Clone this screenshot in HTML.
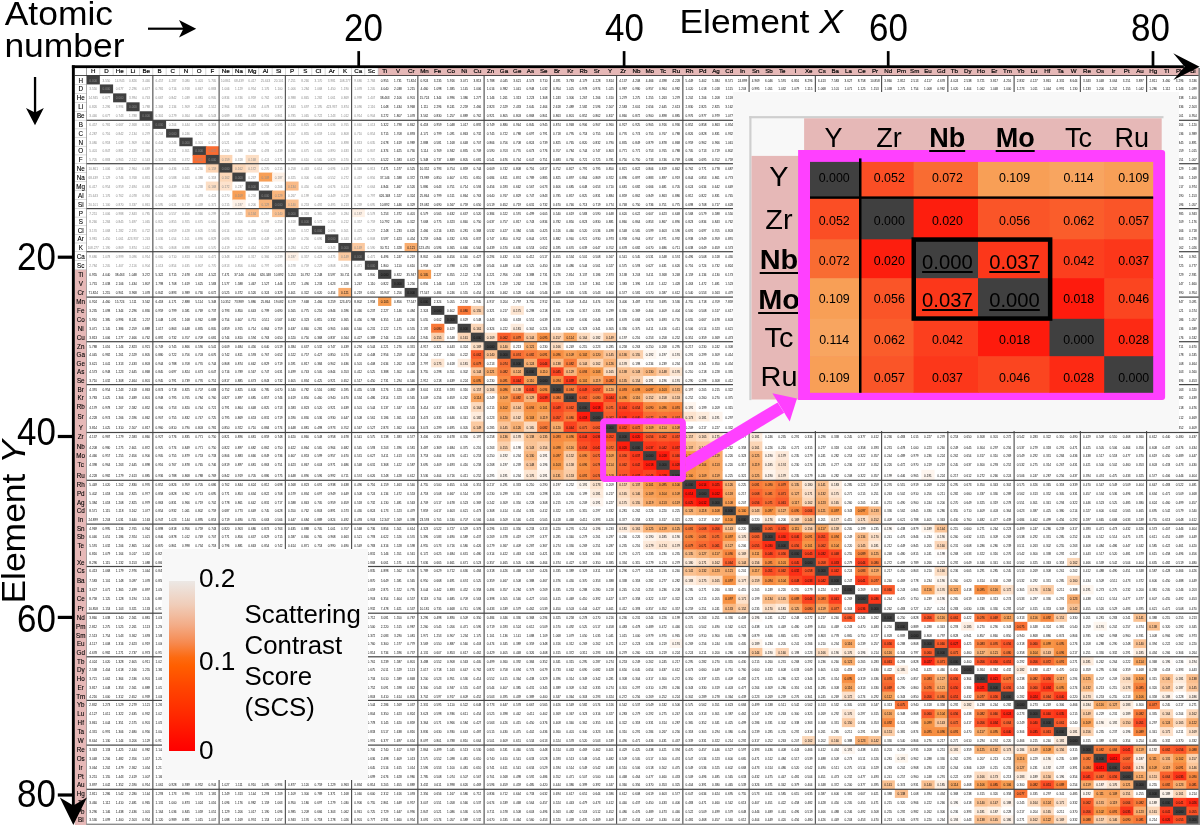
<!DOCTYPE html>
<html lang="en"><head><meta charset="utf-8"><title>Scattering Contrast Score matrix</title>
<style>
html,body{margin:0;padding:0;background:#fff}
body{width:1200px;height:825px;overflow:hidden;position:relative;font-family:"Liberation Sans",sans-serif;color:#000}
#pg{position:absolute;left:0;top:0;width:1200px;height:825px;overflow:hidden;background:#fff}
svg{position:absolute;left:0;top:0}
.r{position:absolute;left:86.6px;width:1120px;white-space:nowrap;font-size:3.1px;color:#0c0c0c;text-align:left;overflow:hidden}
.r i,.r u{display:inline-block;width:13.25px;font-style:normal;text-decoration:none;text-align:center;overflow:hidden;vertical-align:top}
.r u{color:#8c8c8c}
.hd{position:absolute;top:67.3px;height:7.4px;-webkit-text-stroke:0.18px #000;font-size:6.2px;line-height:7.8px;text-align:center;width:13.25px;white-space:nowrap}
.rl{position:absolute;left:74.8px;width:11.9px;-webkit-text-stroke:0.1px #000;font-size:6.3px;text-align:center;white-space:nowrap}
.t{position:absolute;white-space:nowrap;line-height:1}
.big{font-size:35.45px;transform-origin:0 0;transform:scaleY(0.945)}
.num{font-size:35.4px;transform-origin:0 0;transform:scale(0.987,1.07)}
.box{position:absolute;background:#f8f8f8}
.ic{position:absolute;text-align:center;font-size:12.4px;white-space:nowrap}
.ic.l{font-size:20.2px;text-decoration:underline;text-decoration-thickness:1.6px;text-underline-offset:2px}
.ih{position:absolute;font-size:27px;line-height:1;white-space:nowrap;transform:translateX(-50%)}
.ih.b{font-weight:bold;text-decoration:underline;text-decoration-thickness:2.4px;text-underline-offset:2.5px}
</style></head><body><div id="pg">
<svg width="1200" height="825" viewBox="0 0 1200 825"><rect x="378.1" y="68" width="821.9" height="7.5" fill="#e6b8b7"/><rect x="74.8" y="269.76" width="11.9" height="555.24" fill="#e6b8b7"/><rect x="86.6" y="75.5" width="13.25" height="8.94" fill="#404040"/><rect x="99.85" y="84.44" width="13.25" height="8.94" fill="#404040"/><rect x="113.1" y="93.38" width="13.25" height="8.94" fill="#404040"/><rect x="126.35" y="102.32" width="13.25" height="8.94" fill="#404040"/><rect x="139.6" y="111.26" width="13.25" height="8.94" fill="#404040"/><rect x="152.85" y="120.2" width="13.25" height="8.68" fill="#404040"/><rect x="166.1" y="128.88" width="13.25" height="8.68" fill="#404040"/><rect x="179.35" y="137.56" width="13.25" height="8.68" fill="#404040"/><rect x="192.6" y="146.24" width="13.95" height="9.38" fill="#404040"/><rect x="205.85" y="146.24" width="13.25" height="9.38" fill="#f96c32"/><rect x="192.6" y="154.92" width="13.95" height="8.68" fill="#f96c32"/><rect x="205.85" y="154.92" width="13.95" height="9.38" fill="#404040"/><rect x="219.1" y="154.92" width="13.25" height="9.38" fill="#fcd4b3"/><rect x="245.6" y="154.92" width="13.25" height="9.38" fill="#fcdec4"/><rect x="205.85" y="163.6" width="13.95" height="8.98" fill="#fcd4b3"/><rect x="219.1" y="163.6" width="13.95" height="9.68" fill="#404040"/><rect x="232.35" y="163.6" width="13.95" height="9.68" fill="#fcd7b8"/><rect x="245.6" y="163.6" width="13.25" height="8.98" fill="#fde2cc"/><rect x="219.1" y="172.58" width="13.95" height="9.68" fill="#fcd7b8"/><rect x="232.35" y="172.58" width="13.25" height="8.98" fill="#404040"/><rect x="258.85" y="172.58" width="13.95" height="8.98" fill="#f89f56"/><rect x="272.1" y="172.58" width="13.25" height="8.98" fill="#fef1e6"/><rect x="205.85" y="181.56" width="13.95" height="8.98" fill="#fcdec4"/><rect x="219.1" y="181.56" width="13.25" height="8.98" fill="#fde2cc"/><rect x="245.6" y="181.56" width="13.25" height="8.98" fill="#404040"/><rect x="285.35" y="181.56" width="13.25" height="8.98" fill="#faba86"/><rect x="232.35" y="190.54" width="13.25" height="9.68" fill="#f89f56"/><rect x="258.85" y="190.54" width="13.95" height="9.68" fill="#404040"/><rect x="272.1" y="190.54" width="13.25" height="9.68" fill="#f9b57c"/><rect x="298.6" y="190.54" width="13.25" height="8.98" fill="#fffefd"/><rect x="232.35" y="199.52" width="13.25" height="8.98" fill="#fef1e6"/><rect x="258.85" y="199.52" width="13.95" height="8.98" fill="#f9b57c"/><rect x="272.1" y="199.52" width="13.95" height="9.68" fill="#404040"/><rect x="285.35" y="199.52" width="13.25" height="9.68" fill="#fac090"/><rect x="245.6" y="208.5" width="13.25" height="8.62" fill="#faba86"/><rect x="272.1" y="208.5" width="13.95" height="8.62" fill="#fac090"/><rect x="285.35" y="208.5" width="13.25" height="8.62" fill="#404040"/><rect x="351.6" y="208.5" width="13.25" height="8.62" fill="#fef1e6"/><rect x="258.85" y="217.12" width="13.25" height="8.62" fill="#fffefd"/><rect x="298.6" y="217.12" width="13.25" height="8.62" fill="#404040"/><rect x="311.85" y="225.74" width="13.25" height="8.62" fill="#404040"/><rect x="325.1" y="234.36" width="13.25" height="8.62" fill="#404040"/><rect x="338.35" y="242.98" width="13.95" height="9.32" fill="#404040"/><rect x="351.6" y="242.98" width="13.25" height="9.32" fill="#fbc9a0"/><rect x="404.6" y="242.98" width="13.25" height="8.62" fill="#f9ac6d"/><rect x="285.35" y="251.6" width="13.25" height="9.08" fill="#fef1e6"/><rect x="338.35" y="251.6" width="13.95" height="9.08" fill="#fbc9a0"/><rect x="351.6" y="251.6" width="13.25" height="9.08" fill="#404040"/><rect x="364.85" y="260.68" width="13.25" height="9.08" fill="#404040"/><rect x="378.1" y="269.76" width="13.25" height="9.08" fill="#404040"/><rect x="417.85" y="269.76" width="13.25" height="9.08" fill="#f79b4e"/><rect x="391.35" y="278.84" width="13.25" height="9.08" fill="#404040"/><rect x="338.35" y="287.92" width="13.25" height="9.08" fill="#f9ac6d"/><rect x="404.6" y="287.92" width="13.25" height="9.08" fill="#404040"/><rect x="378.1" y="297" width="13.25" height="8.92" fill="#f79b4e"/><rect x="417.85" y="297" width="13.25" height="8.92" fill="#404040"/><rect x="431.1" y="305.92" width="13.25" height="8.92" fill="#404040"/><rect x="457.6" y="305.92" width="13.95" height="8.92" fill="#f97838"/><rect x="470.85" y="305.92" width="13.25" height="8.92" fill="#fbd0ad"/><rect x="510.6" y="305.92" width="13.25" height="8.92" fill="#fde5d1"/><rect x="444.35" y="314.84" width="13.25" height="8.92" fill="#404040"/><rect x="431.1" y="323.76" width="13.25" height="9.62" fill="#f97838"/><rect x="457.6" y="323.76" width="13.95" height="9.62" fill="#404040"/><rect x="470.85" y="323.76" width="13.25" height="9.62" fill="#fcd6b7"/><rect x="510.6" y="323.76" width="13.25" height="9.62" fill="#fdebdc"/><rect x="431.1" y="332.68" width="13.25" height="8.92" fill="#fbd0ad"/><rect x="457.6" y="332.68" width="13.95" height="8.92" fill="#fcd6b7"/><rect x="470.85" y="332.68" width="13.95" height="9.62" fill="#404040"/><rect x="484.1" y="332.68" width="13.95" height="9.62" fill="#fddfc6"/><rect x="497.35" y="332.68" width="13.95" height="9.62" fill="#fa5d2b"/><rect x="510.6" y="332.68" width="13.95" height="8.92" fill="#f97637"/><rect x="523.85" y="332.68" width="13.95" height="9.62" fill="#fbc498"/><rect x="537.1" y="332.68" width="13.95" height="8.92" fill="#f78f43"/><rect x="550.35" y="332.68" width="13.95" height="9.62" fill="#fcd2b0"/><rect x="563.6" y="332.68" width="13.95" height="8.92" fill="#f8a45f"/><rect x="576.85" y="332.68" width="13.95" height="8.92" fill="#fcd9bc"/><rect x="590.1" y="332.68" width="13.95" height="8.92" fill="#feecdd"/><rect x="603.35" y="332.68" width="13.95" height="8.92" fill="#fbcaa1"/><rect x="616.6" y="332.68" width="13.25" height="8.92" fill="#fffcf9"/><rect x="470.85" y="341.6" width="13.95" height="9.28" fill="#fddfc6"/><rect x="484.1" y="341.6" width="13.95" height="9.28" fill="#404040"/><rect x="497.35" y="341.6" width="13.25" height="9.28" fill="#fac091"/><rect x="523.85" y="341.6" width="13.25" height="9.28" fill="#f9ac6d"/><rect x="550.35" y="341.6" width="13.25" height="9.28" fill="#fcdcc1"/><rect x="470.85" y="350.18" width="13.95" height="9.28" fill="#fa5d2b"/><rect x="484.1" y="350.18" width="13.95" height="8.58" fill="#fac091"/><rect x="497.35" y="350.18" width="13.95" height="9.28" fill="#404040"/><rect x="510.6" y="350.18" width="13.95" height="9.28" fill="#f96f34"/><rect x="523.85" y="350.18" width="13.95" height="9.28" fill="#f87b3a"/><rect x="537.1" y="350.18" width="13.95" height="9.28" fill="#f88840"/><rect x="550.35" y="350.18" width="13.95" height="9.28" fill="#f78f43"/><rect x="563.6" y="350.18" width="13.95" height="9.28" fill="#f8a057"/><rect x="576.85" y="350.18" width="13.95" height="9.28" fill="#f7984a"/><rect x="590.1" y="350.18" width="13.95" height="9.28" fill="#f9ab6b"/><rect x="603.35" y="350.18" width="13.95" height="9.28" fill="#fbc599"/><rect x="616.6" y="350.18" width="13.95" height="9.28" fill="#fabb88"/><rect x="629.85" y="350.18" width="13.95" height="9.28" fill="#fbd0ac"/><rect x="643.1" y="350.18" width="13.95" height="8.58" fill="#fef6ef"/><rect x="656.35" y="350.18" width="13.95" height="8.58" fill="#fffcf9"/><rect x="669.6" y="350.18" width="13.25" height="8.58" fill="#fef6ef"/><rect x="431.1" y="358.76" width="13.25" height="8.58" fill="#fde5d1"/><rect x="457.6" y="358.76" width="13.95" height="8.58" fill="#fdebdc"/><rect x="470.85" y="358.76" width="13.25" height="9.28" fill="#f97637"/><rect x="497.35" y="358.76" width="13.95" height="9.28" fill="#f96f34"/><rect x="510.6" y="358.76" width="13.95" height="9.28" fill="#404040"/><rect x="523.85" y="358.76" width="13.95" height="9.28" fill="#f9af73"/><rect x="537.1" y="358.76" width="13.95" height="9.28" fill="#fc411f"/><rect x="550.35" y="358.76" width="13.95" height="9.28" fill="#fabd8b"/><rect x="563.6" y="358.76" width="13.95" height="9.28" fill="#f87b3a"/><rect x="576.85" y="358.76" width="13.95" height="9.28" fill="#fbc498"/><rect x="590.1" y="358.76" width="13.95" height="9.28" fill="#fcd7b9"/><rect x="603.35" y="358.76" width="13.95" height="9.28" fill="#f9b176"/><rect x="616.6" y="358.76" width="13.95" height="9.28" fill="#fde8d6"/><rect x="629.85" y="358.76" width="13.25" height="9.28" fill="#fffcfa"/><rect x="470.85" y="367.34" width="13.95" height="9.28" fill="#fbc498"/><rect x="484.1" y="367.34" width="13.95" height="8.58" fill="#f9ac6d"/><rect x="497.35" y="367.34" width="13.95" height="9.28" fill="#f87b3a"/><rect x="510.6" y="367.34" width="13.95" height="9.28" fill="#f9af73"/><rect x="523.85" y="367.34" width="13.95" height="9.28" fill="#404040"/><rect x="537.1" y="367.34" width="13.95" height="9.28" fill="#f8a159"/><rect x="550.35" y="367.34" width="13.95" height="9.28" fill="#fb4420"/><rect x="563.6" y="367.34" width="13.95" height="9.28" fill="#f9b47c"/><rect x="576.85" y="367.34" width="13.95" height="9.28" fill="#f78e42"/><rect x="590.1" y="367.34" width="13.95" height="9.28" fill="#f7994b"/><rect x="603.35" y="367.34" width="13.95" height="9.28" fill="#fcdabe"/><rect x="616.6" y="367.34" width="13.95" height="9.28" fill="#fabe8c"/><rect x="629.85" y="367.34" width="13.95" height="9.28" fill="#fac395"/><rect x="643.1" y="367.34" width="13.95" height="9.28" fill="#f9b67e"/><rect x="656.35" y="367.34" width="13.95" height="9.28" fill="#fbc89f"/><rect x="669.6" y="367.34" width="13.25" height="9.28" fill="#fde6d2"/><rect x="470.85" y="375.92" width="13.25" height="9.28" fill="#f78f43"/><rect x="497.35" y="375.92" width="13.95" height="9.28" fill="#f88840"/><rect x="510.6" y="375.92" width="13.95" height="9.28" fill="#fc411f"/><rect x="523.85" y="375.92" width="13.95" height="9.28" fill="#f8a159"/><rect x="537.1" y="375.92" width="13.95" height="9.28" fill="#404040"/><rect x="550.35" y="375.92" width="13.95" height="9.28" fill="#f78d42"/><rect x="563.6" y="375.92" width="13.95" height="9.28" fill="#fc3a1b"/><rect x="576.85" y="375.92" width="13.95" height="9.28" fill="#f79747"/><rect x="590.1" y="375.92" width="13.95" height="9.28" fill="#f9aa69"/><rect x="603.35" y="375.92" width="13.95" height="9.28" fill="#f87c3a"/><rect x="616.6" y="375.92" width="13.95" height="9.28" fill="#faba86"/><rect x="629.85" y="375.92" width="13.95" height="9.28" fill="#fbcfaa"/><rect x="643.1" y="375.92" width="13.95" height="9.28" fill="#fef5ee"/><rect x="656.35" y="375.92" width="13.95" height="9.28" fill="#fffbf8"/><rect x="669.6" y="375.92" width="13.25" height="9.28" fill="#fef5ee"/><rect x="470.85" y="384.5" width="13.95" height="9.6" fill="#fcd2b0"/><rect x="484.1" y="384.5" width="13.95" height="8.9" fill="#fcdcc1"/><rect x="497.35" y="384.5" width="13.95" height="9.6" fill="#f78f43"/><rect x="510.6" y="384.5" width="13.95" height="9.6" fill="#fabd8b"/><rect x="523.85" y="384.5" width="13.95" height="9.6" fill="#fb4420"/><rect x="537.1" y="384.5" width="13.95" height="9.6" fill="#f78d42"/><rect x="550.35" y="384.5" width="13.95" height="9.6" fill="#404040"/><rect x="563.6" y="384.5" width="13.95" height="9.6" fill="#f87d3b"/><rect x="576.85" y="384.5" width="13.95" height="9.6" fill="#fb4a22"/><rect x="590.1" y="384.5" width="13.95" height="9.6" fill="#fa5628"/><rect x="603.35" y="384.5" width="13.95" height="9.6" fill="#f9ab6a"/><rect x="616.6" y="384.5" width="13.95" height="9.6" fill="#f88b41"/><rect x="629.85" y="384.5" width="13.95" height="9.6" fill="#f79244"/><rect x="643.1" y="384.5" width="13.95" height="9.6" fill="#f79144"/><rect x="656.35" y="384.5" width="13.95" height="9.6" fill="#f7994b"/><rect x="669.6" y="384.5" width="13.95" height="9.6" fill="#f9b67f"/><rect x="682.85" y="384.5" width="13.25" height="8.9" fill="#fffcfa"/><rect x="470.85" y="393.4" width="13.25" height="9.4" fill="#f8a45f"/><rect x="497.35" y="393.4" width="13.95" height="9.4" fill="#f8a057"/><rect x="510.6" y="393.4" width="13.95" height="9.4" fill="#f87b3a"/><rect x="523.85" y="393.4" width="13.95" height="9.4" fill="#f9b47c"/><rect x="537.1" y="393.4" width="13.95" height="9.4" fill="#fc3a1b"/><rect x="550.35" y="393.4" width="13.95" height="9.4" fill="#f87d3b"/><rect x="563.6" y="393.4" width="13.95" height="9.4" fill="#404040"/><rect x="576.85" y="393.4" width="13.95" height="9.4" fill="#fa5d2b"/><rect x="590.1" y="393.4" width="13.95" height="9.4" fill="#f97838"/><rect x="603.35" y="393.4" width="13.95" height="9.4" fill="#fb421f"/><rect x="616.6" y="393.4" width="13.95" height="9.4" fill="#f79043"/><rect x="629.85" y="393.4" width="13.95" height="9.4" fill="#f8a763"/><rect x="643.1" y="393.4" width="13.95" height="9.4" fill="#fbcda7"/><rect x="656.35" y="393.4" width="13.95" height="9.4" fill="#fcd3b1"/><rect x="669.6" y="393.4" width="13.25" height="9.4" fill="#fbcda7"/><rect x="470.85" y="402.1" width="13.25" height="10.4" fill="#fcd9bc"/><rect x="497.35" y="402.1" width="13.95" height="10.4" fill="#f7984a"/><rect x="510.6" y="402.1" width="13.95" height="10.4" fill="#fbc498"/><rect x="523.85" y="402.1" width="13.95" height="10.4" fill="#f78e42"/><rect x="537.1" y="402.1" width="13.95" height="10.4" fill="#f79747"/><rect x="550.35" y="402.1" width="13.95" height="10.4" fill="#fb4a22"/><rect x="563.6" y="402.1" width="13.95" height="10.4" fill="#fa5d2b"/><rect x="576.85" y="402.1" width="13.95" height="10.4" fill="#404040"/><rect x="590.1" y="402.1" width="13.95" height="10.4" fill="#fe1b0d"/><rect x="603.35" y="402.1" width="13.95" height="10.4" fill="#f96a32"/><rect x="616.6" y="402.1" width="13.95" height="10.4" fill="#fb421f"/><rect x="629.85" y="402.1" width="13.95" height="10.4" fill="#fb5126"/><rect x="643.1" y="402.1" width="13.95" height="10.4" fill="#f8883f"/><rect x="656.35" y="402.1" width="13.95" height="10.4" fill="#f79043"/><rect x="669.6" y="402.1" width="13.95" height="10.4" fill="#f8883f"/><rect x="682.85" y="402.1" width="13.95" height="10.4" fill="#fef5ee"/><rect x="696.1" y="402.1" width="13.25" height="10.4" fill="#fffefe"/><rect x="470.85" y="411.8" width="13.25" height="10.4" fill="#feecdd"/><rect x="497.35" y="411.8" width="13.95" height="10.4" fill="#f9ab6b"/><rect x="510.6" y="411.8" width="13.95" height="10.4" fill="#fcd7b9"/><rect x="523.85" y="411.8" width="13.95" height="10.4" fill="#f7994b"/><rect x="537.1" y="411.8" width="13.95" height="10.4" fill="#f9aa69"/><rect x="550.35" y="411.8" width="13.95" height="10.4" fill="#fa5628"/><rect x="563.6" y="411.8" width="13.95" height="10.4" fill="#f97838"/><rect x="576.85" y="411.8" width="13.95" height="10.4" fill="#fe1b0d"/><rect x="590.1" y="411.8" width="13.95" height="10.4" fill="#404040"/><rect x="603.35" y="411.8" width="13.95" height="10.4" fill="#fa5e2c"/><rect x="616.6" y="411.8" width="13.95" height="10.4" fill="#fc3519"/><rect x="629.85" y="411.8" width="13.95" height="10.4" fill="#fc3d1c"/><rect x="643.1" y="411.8" width="13.95" height="10.4" fill="#f96c33"/><rect x="656.35" y="411.8" width="13.95" height="10.4" fill="#f97436"/><rect x="669.6" y="411.8" width="13.95" height="10.4" fill="#f96f34"/><rect x="682.85" y="411.8" width="13.95" height="9.7" fill="#fde2cd"/><rect x="696.1" y="411.8" width="13.95" height="9.7" fill="#fdebdc"/><rect x="709.35" y="411.8" width="13.25" height="9.7" fill="#fef5ee"/><rect x="749.1" y="411.8" width="13.25" height="9.7" fill="#fffbf8"/><rect x="470.85" y="421.5" width="13.25" height="11.6" fill="#fbcaa1"/><rect x="497.35" y="421.5" width="13.95" height="11.6" fill="#fbc599"/><rect x="510.6" y="421.5" width="13.95" height="11.6" fill="#f9b176"/><rect x="523.85" y="421.5" width="13.95" height="11.6" fill="#fcdabe"/><rect x="537.1" y="421.5" width="13.95" height="11.6" fill="#f87c3a"/><rect x="550.35" y="421.5" width="13.95" height="11.6" fill="#f9ab6a"/><rect x="563.6" y="421.5" width="13.95" height="11.6" fill="#fb421f"/><rect x="576.85" y="421.5" width="13.95" height="11.6" fill="#f96a32"/><rect x="590.1" y="421.5" width="13.95" height="11.6" fill="#fa5e2c"/><rect x="603.35" y="421.5" width="13.95" height="11.6" fill="#404040"/><rect x="616.6" y="421.5" width="13.95" height="11.6" fill="#fb4e25"/><rect x="629.85" y="421.5" width="13.95" height="11.6" fill="#f96c32"/><rect x="643.1" y="421.5" width="13.95" height="11.6" fill="#f89f56"/><rect x="656.35" y="421.5" width="13.95" height="11.6" fill="#f8a560"/><rect x="669.6" y="421.5" width="13.25" height="11.6" fill="#f89f57"/><rect x="470.85" y="432.4" width="13.25" height="9.1" fill="#fffcf9"/><rect x="497.35" y="432.4" width="13.95" height="9.8" fill="#fabb88"/><rect x="510.6" y="432.4" width="13.95" height="9.8" fill="#fde8d6"/><rect x="523.85" y="432.4" width="13.95" height="9.8" fill="#fabe8c"/><rect x="537.1" y="432.4" width="13.95" height="9.8" fill="#faba86"/><rect x="550.35" y="432.4" width="13.95" height="9.8" fill="#f88b41"/><rect x="563.6" y="432.4" width="13.95" height="9.8" fill="#f79043"/><rect x="576.85" y="432.4" width="13.95" height="9.8" fill="#fb421f"/><rect x="590.1" y="432.4" width="13.95" height="9.8" fill="#fc3519"/><rect x="603.35" y="432.4" width="13.95" height="9.8" fill="#fb4e25"/><rect x="616.6" y="432.4" width="13.95" height="9.8" fill="#404040"/><rect x="629.85" y="432.4" width="13.95" height="9.8" fill="#fd1e0e"/><rect x="643.1" y="432.4" width="13.95" height="9.8" fill="#fa5528"/><rect x="656.35" y="432.4" width="13.95" height="9.8" fill="#fa5d2b"/><rect x="669.6" y="432.4" width="13.95" height="9.8" fill="#fa5528"/><rect x="682.85" y="432.4" width="13.95" height="9.8" fill="#fcd2af"/><rect x="696.1" y="432.4" width="13.95" height="9.8" fill="#fcdbbf"/><rect x="709.35" y="432.4" width="13.25" height="9.8" fill="#fde5d1"/><rect x="749.1" y="432.4" width="13.25" height="9.8" fill="#fdebdc"/><rect x="497.35" y="441.5" width="13.95" height="10.3" fill="#fbd0ac"/><rect x="510.6" y="441.5" width="13.95" height="9.6" fill="#fffcfa"/><rect x="523.85" y="441.5" width="13.95" height="10.3" fill="#fac395"/><rect x="537.1" y="441.5" width="13.95" height="10.3" fill="#fbcfaa"/><rect x="550.35" y="441.5" width="13.95" height="10.3" fill="#f79244"/><rect x="563.6" y="441.5" width="13.95" height="10.3" fill="#f8a763"/><rect x="576.85" y="441.5" width="13.95" height="10.3" fill="#fb5126"/><rect x="590.1" y="441.5" width="13.95" height="10.3" fill="#fc3d1c"/><rect x="603.35" y="441.5" width="13.95" height="10.3" fill="#f96c32"/><rect x="616.6" y="441.5" width="13.95" height="10.3" fill="#fd1e0e"/><rect x="629.85" y="441.5" width="13.95" height="10.3" fill="#404040"/><rect x="643.1" y="441.5" width="13.95" height="10.3" fill="#fc371a"/><rect x="656.35" y="441.5" width="13.95" height="10.3" fill="#fc3f1e"/><rect x="669.6" y="441.5" width="13.95" height="10.3" fill="#fc371a"/><rect x="682.85" y="441.5" width="13.95" height="10.3" fill="#fabd8b"/><rect x="696.1" y="441.5" width="13.95" height="10.3" fill="#fbc69b"/><rect x="709.35" y="441.5" width="13.25" height="10.3" fill="#fbd0ad"/><rect x="749.1" y="441.5" width="13.25" height="10.3" fill="#fcd6b7"/><rect x="497.35" y="451.1" width="13.25" height="10" fill="#fef6ef"/><rect x="523.85" y="451.1" width="13.95" height="10" fill="#f9b67e"/><rect x="537.1" y="451.1" width="13.95" height="10" fill="#fef5ee"/><rect x="550.35" y="451.1" width="13.95" height="10" fill="#f79144"/><rect x="563.6" y="451.1" width="13.95" height="10" fill="#fbcda7"/><rect x="576.85" y="451.1" width="13.95" height="10" fill="#f8883f"/><rect x="590.1" y="451.1" width="13.95" height="10" fill="#f96c33"/><rect x="603.35" y="451.1" width="13.95" height="10" fill="#f89f56"/><rect x="616.6" y="451.1" width="13.95" height="10" fill="#fa5528"/><rect x="629.85" y="451.1" width="13.95" height="10" fill="#fc371a"/><rect x="643.1" y="451.1" width="13.95" height="10" fill="#404040"/><rect x="656.35" y="451.1" width="13.95" height="10" fill="#fe1b0d"/><rect x="669.6" y="451.1" width="13.95" height="10" fill="#fb4520"/><rect x="682.85" y="451.1" width="13.95" height="10" fill="#f79747"/><rect x="696.1" y="451.1" width="13.95" height="10" fill="#f8a057"/><rect x="709.35" y="451.1" width="13.25" height="10" fill="#f9aa69"/><rect x="749.1" y="451.1" width="13.95" height="10" fill="#f9b074"/><rect x="762.35" y="451.1" width="13.95" height="10" fill="#fef4ec"/><rect x="775.6" y="451.1" width="13.25" height="10" fill="#fde9d9"/><rect x="497.35" y="460.4" width="13.25" height="10.1" fill="#fffcf9"/><rect x="523.85" y="460.4" width="13.95" height="10.1" fill="#fbc89f"/><rect x="537.1" y="460.4" width="13.95" height="10.1" fill="#fffbf8"/><rect x="550.35" y="460.4" width="13.95" height="10.1" fill="#f7994b"/><rect x="563.6" y="460.4" width="13.95" height="10.1" fill="#fcd3b1"/><rect x="576.85" y="460.4" width="13.95" height="10.1" fill="#f79043"/><rect x="590.1" y="460.4" width="13.95" height="10.1" fill="#f97436"/><rect x="603.35" y="460.4" width="13.95" height="10.1" fill="#f8a560"/><rect x="616.6" y="460.4" width="13.95" height="10.1" fill="#fa5d2b"/><rect x="629.85" y="460.4" width="13.95" height="10.1" fill="#fc3f1e"/><rect x="643.1" y="460.4" width="13.95" height="10.1" fill="#fe1b0d"/><rect x="656.35" y="460.4" width="13.95" height="10.1" fill="#404040"/><rect x="669.6" y="460.4" width="13.95" height="10.1" fill="#fd2a14"/><rect x="682.85" y="460.4" width="13.95" height="10.1" fill="#f78f43"/><rect x="696.1" y="460.4" width="13.95" height="10.1" fill="#f79a4d"/><rect x="709.35" y="460.4" width="13.25" height="10.1" fill="#f8a45f"/><rect x="749.1" y="460.4" width="13.95" height="10.1" fill="#f9aa6a"/><rect x="762.35" y="460.4" width="13.95" height="10.1" fill="#feefe2"/><rect x="775.6" y="460.4" width="13.25" height="10.1" fill="#fde4cf"/><rect x="497.35" y="469.8" width="13.25" height="10.4" fill="#fef6ef"/><rect x="523.85" y="469.8" width="13.95" height="10.4" fill="#fde6d2"/><rect x="537.1" y="469.8" width="13.95" height="10.4" fill="#fef5ee"/><rect x="550.35" y="469.8" width="13.95" height="11.1" fill="#f9b67f"/><rect x="563.6" y="469.8" width="13.95" height="10.4" fill="#fbcda7"/><rect x="576.85" y="469.8" width="13.95" height="11.1" fill="#f8883f"/><rect x="590.1" y="469.8" width="13.95" height="11.1" fill="#f96f34"/><rect x="603.35" y="469.8" width="13.95" height="10.4" fill="#f89f57"/><rect x="616.6" y="469.8" width="13.95" height="11.1" fill="#fa5528"/><rect x="629.85" y="469.8" width="13.95" height="11.1" fill="#fc371a"/><rect x="643.1" y="469.8" width="13.95" height="11.1" fill="#fb4520"/><rect x="656.35" y="469.8" width="13.95" height="11.1" fill="#fd2a14"/><rect x="669.6" y="469.8" width="13.95" height="11.1" fill="#404040"/><rect x="682.85" y="469.8" width="13.95" height="11.1" fill="#f79647"/><rect x="696.1" y="469.8" width="13.95" height="11.1" fill="#f89f56"/><rect x="709.35" y="469.8" width="13.25" height="11.1" fill="#f8a968"/><rect x="749.1" y="469.8" width="13.95" height="11.1" fill="#f9b073"/><rect x="762.35" y="469.8" width="13.95" height="11.1" fill="#fef4ec"/><rect x="775.6" y="469.8" width="13.25" height="11.1" fill="#fde9d9"/><rect x="881.6" y="469.8" width="13.25" height="10.4" fill="#fffefd"/><rect x="921.35" y="469.8" width="13.25" height="10.4" fill="#fef5ee"/><rect x="550.35" y="480.2" width="13.25" height="8.76" fill="#fffcfa"/><rect x="576.85" y="480.2" width="13.95" height="9.46" fill="#fef5ee"/><rect x="590.1" y="480.2" width="13.25" height="9.46" fill="#fde2cd"/><rect x="616.6" y="480.2" width="13.95" height="9.46" fill="#fcd2af"/><rect x="629.85" y="480.2" width="13.95" height="9.46" fill="#fabd8b"/><rect x="643.1" y="480.2" width="13.95" height="9.46" fill="#f79747"/><rect x="656.35" y="480.2" width="13.95" height="9.46" fill="#f78f43"/><rect x="669.6" y="480.2" width="13.95" height="9.46" fill="#f79647"/><rect x="682.85" y="480.2" width="13.95" height="9.46" fill="#404040"/><rect x="696.1" y="480.2" width="13.95" height="9.46" fill="#fe1409"/><rect x="709.35" y="480.2" width="13.95" height="9.46" fill="#fd2612"/><rect x="722.6" y="480.2" width="13.25" height="9.46" fill="#f9b276"/><rect x="749.1" y="480.2" width="13.95" height="9.46" fill="#f97a39"/><rect x="762.35" y="480.2" width="13.95" height="9.46" fill="#f8863f"/><rect x="775.6" y="480.2" width="13.95" height="9.46" fill="#f97737"/><rect x="788.85" y="480.2" width="13.95" height="9.46" fill="#fabb87"/><rect x="802.1" y="480.2" width="13.95" height="9.46" fill="#fdeada"/><rect x="815.35" y="480.2" width="13.95" height="9.46" fill="#fac191"/><rect x="828.6" y="480.2" width="13.25" height="9.46" fill="#feeddf"/><rect x="576.85" y="488.96" width="13.95" height="8.76" fill="#fffefe"/><rect x="590.1" y="488.96" width="13.25" height="9.46" fill="#fdebdc"/><rect x="616.6" y="488.96" width="13.95" height="9.46" fill="#fcdbbf"/><rect x="629.85" y="488.96" width="13.95" height="9.46" fill="#fbc69b"/><rect x="643.1" y="488.96" width="13.95" height="9.46" fill="#f8a057"/><rect x="656.35" y="488.96" width="13.95" height="9.46" fill="#f79a4d"/><rect x="669.6" y="488.96" width="13.95" height="9.46" fill="#f89f56"/><rect x="682.85" y="488.96" width="13.95" height="9.46" fill="#fe1409"/><rect x="696.1" y="488.96" width="13.95" height="9.46" fill="#404040"/><rect x="709.35" y="488.96" width="13.95" height="9.46" fill="#fe1208"/><rect x="722.6" y="488.96" width="13.25" height="9.46" fill="#f8a967"/><rect x="749.1" y="488.96" width="13.95" height="9.46" fill="#fa652f"/><rect x="762.35" y="488.96" width="13.95" height="9.46" fill="#f97a39"/><rect x="775.6" y="488.96" width="13.95" height="9.46" fill="#f96a31"/><rect x="788.85" y="488.96" width="13.95" height="9.46" fill="#f9b278"/><rect x="802.1" y="488.96" width="13.95" height="9.46" fill="#fde1ca"/><rect x="815.35" y="488.96" width="13.95" height="9.46" fill="#fab882"/><rect x="828.6" y="488.96" width="13.25" height="9.46" fill="#fde4d0"/><rect x="590.1" y="497.72" width="13.25" height="8.76" fill="#fef5ee"/><rect x="616.6" y="497.72" width="13.95" height="8.76" fill="#fde5d1"/><rect x="629.85" y="497.72" width="13.95" height="8.76" fill="#fbd0ad"/><rect x="643.1" y="497.72" width="13.95" height="8.76" fill="#f9aa69"/><rect x="656.35" y="497.72" width="13.95" height="8.76" fill="#f8a45f"/><rect x="669.6" y="497.72" width="13.95" height="8.76" fill="#f8a968"/><rect x="682.85" y="497.72" width="13.95" height="9.46" fill="#fd2612"/><rect x="696.1" y="497.72" width="13.95" height="9.46" fill="#fe1208"/><rect x="709.35" y="497.72" width="13.95" height="9.46" fill="#404040"/><rect x="722.6" y="497.72" width="13.25" height="9.46" fill="#f89e55"/><rect x="749.1" y="497.72" width="13.95" height="9.46" fill="#fb5427"/><rect x="762.35" y="497.72" width="13.95" height="9.46" fill="#f96b32"/><rect x="775.6" y="497.72" width="13.95" height="9.46" fill="#fa5b2b"/><rect x="788.85" y="497.72" width="13.95" height="9.46" fill="#f8a866"/><rect x="802.1" y="497.72" width="13.95" height="9.46" fill="#fcd7b8"/><rect x="815.35" y="497.72" width="13.95" height="9.46" fill="#f9ae70"/><rect x="828.6" y="497.72" width="13.25" height="9.46" fill="#fcdabe"/><rect x="934.6" y="497.72" width="13.25" height="8.76" fill="#fffffe"/><rect x="682.85" y="506.48" width="13.95" height="8.76" fill="#f9b276"/><rect x="696.1" y="506.48" width="13.95" height="8.76" fill="#f8a967"/><rect x="709.35" y="506.48" width="13.95" height="8.76" fill="#f89e55"/><rect x="722.6" y="506.48" width="13.95" height="9.46" fill="#404040"/><rect x="735.85" y="506.48" width="13.95" height="9.46" fill="#f79647"/><rect x="749.1" y="506.48" width="13.95" height="8.76" fill="#fac395"/><rect x="762.35" y="506.48" width="13.95" height="9.46" fill="#f79244"/><rect x="775.6" y="506.48" width="13.95" height="8.76" fill="#f9b378"/><rect x="788.85" y="506.48" width="13.95" height="9.46" fill="#f8873f"/><rect x="802.1" y="506.48" width="13.95" height="9.46" fill="#fa602d"/><rect x="815.35" y="506.48" width="13.95" height="8.76" fill="#f9ac6e"/><rect x="828.6" y="506.48" width="13.25" height="9.46" fill="#f79244"/><rect x="855.1" y="506.48" width="13.95" height="9.46" fill="#f79244"/><rect x="868.35" y="506.48" width="13.25" height="9.46" fill="#fab984"/><rect x="722.6" y="515.24" width="13.95" height="9.46" fill="#f79647"/><rect x="735.85" y="515.24" width="13.25" height="8.76" fill="#404040"/><rect x="762.35" y="515.24" width="13.25" height="9.46" fill="#fde6d3"/><rect x="788.85" y="515.24" width="13.95" height="9.46" fill="#fddfc6"/><rect x="802.1" y="515.24" width="13.25" height="9.46" fill="#fac497"/><rect x="828.6" y="515.24" width="13.25" height="9.46" fill="#fde7d4"/><rect x="855.1" y="515.24" width="13.95" height="9.46" fill="#fde1ca"/><rect x="868.35" y="515.24" width="13.25" height="8.76" fill="#fbcda7"/><rect x="590.1" y="524" width="13.25" height="8.48" fill="#fffbf8"/><rect x="616.6" y="524" width="13.95" height="8.48" fill="#fdebdc"/><rect x="629.85" y="524" width="13.95" height="8.48" fill="#fcd6b7"/><rect x="643.1" y="524" width="13.95" height="9.18" fill="#f9b074"/><rect x="656.35" y="524" width="13.95" height="9.18" fill="#f9aa6a"/><rect x="669.6" y="524" width="13.95" height="9.18" fill="#f9b073"/><rect x="682.85" y="524" width="13.95" height="9.18" fill="#f97a39"/><rect x="696.1" y="524" width="13.95" height="9.18" fill="#fa652f"/><rect x="709.35" y="524" width="13.95" height="9.18" fill="#fb5427"/><rect x="722.6" y="524" width="13.25" height="9.18" fill="#fac395"/><rect x="749.1" y="524" width="13.95" height="9.18" fill="#404040"/><rect x="762.35" y="524" width="13.95" height="9.18" fill="#fa622e"/><rect x="775.6" y="524" width="13.95" height="9.18" fill="#fb5226"/><rect x="788.85" y="524" width="13.95" height="9.18" fill="#f8a25b"/><rect x="802.1" y="524" width="13.95" height="9.18" fill="#fbd0ad"/><rect x="815.35" y="524" width="13.95" height="9.18" fill="#f8a865"/><rect x="828.6" y="524" width="13.25" height="9.18" fill="#fcd4b3"/><rect x="855.1" y="524" width="13.25" height="9.18" fill="#fffefe"/><rect x="881.6" y="524" width="13.25" height="8.48" fill="#fffbf8"/><rect x="921.35" y="524" width="13.95" height="8.48" fill="#fef4eb"/><rect x="934.6" y="524" width="13.25" height="9.18" fill="#fbc598"/><rect x="643.1" y="532.48" width="13.95" height="9.18" fill="#fef4ec"/><rect x="656.35" y="532.48" width="13.95" height="9.18" fill="#feefe2"/><rect x="669.6" y="532.48" width="13.95" height="9.18" fill="#fef4ec"/><rect x="682.85" y="532.48" width="13.95" height="9.18" fill="#f8863f"/><rect x="696.1" y="532.48" width="13.95" height="9.18" fill="#f97a39"/><rect x="709.35" y="532.48" width="13.95" height="9.18" fill="#f96b32"/><rect x="722.6" y="532.48" width="13.95" height="9.18" fill="#f79244"/><rect x="735.85" y="532.48" width="13.95" height="8.48" fill="#fde6d3"/><rect x="749.1" y="532.48" width="13.95" height="9.18" fill="#fa622e"/><rect x="762.35" y="532.48" width="13.95" height="9.18" fill="#404040"/><rect x="775.6" y="532.48" width="13.95" height="9.18" fill="#fd2d15"/><rect x="788.85" y="532.48" width="13.95" height="9.18" fill="#fb4520"/><rect x="802.1" y="532.48" width="13.95" height="9.18" fill="#f8883f"/><rect x="815.35" y="532.48" width="13.95" height="9.18" fill="#fb4d24"/><rect x="828.6" y="532.48" width="13.25" height="9.18" fill="#f88d42"/><rect x="855.1" y="532.48" width="13.95" height="9.18" fill="#faba86"/><rect x="868.35" y="532.48" width="13.25" height="9.18" fill="#fde0c8"/><rect x="934.6" y="532.48" width="13.25" height="9.18" fill="#fef5ed"/><rect x="643.1" y="540.96" width="13.95" height="8.48" fill="#fde9d9"/><rect x="656.35" y="540.96" width="13.95" height="8.48" fill="#fde4cf"/><rect x="669.6" y="540.96" width="13.95" height="8.48" fill="#fde9d9"/><rect x="682.85" y="540.96" width="13.95" height="9.18" fill="#f97737"/><rect x="696.1" y="540.96" width="13.95" height="9.18" fill="#f96a31"/><rect x="709.35" y="540.96" width="13.95" height="9.18" fill="#fa5b2b"/><rect x="722.6" y="540.96" width="13.25" height="9.18" fill="#f9b378"/><rect x="749.1" y="540.96" width="13.95" height="9.18" fill="#fb5226"/><rect x="762.35" y="540.96" width="13.95" height="9.18" fill="#fd2d15"/><rect x="775.6" y="540.96" width="13.95" height="9.18" fill="#404040"/><rect x="788.85" y="540.96" width="13.95" height="9.18" fill="#fa5528"/><rect x="802.1" y="540.96" width="13.95" height="9.18" fill="#f79748"/><rect x="815.35" y="540.96" width="13.95" height="9.18" fill="#fa5d2b"/><rect x="828.6" y="540.96" width="13.25" height="9.18" fill="#f79a4e"/><rect x="855.1" y="540.96" width="13.95" height="9.18" fill="#fbc599"/><rect x="868.35" y="540.96" width="13.25" height="9.18" fill="#fdebdb"/><rect x="934.6" y="540.96" width="13.25" height="9.18" fill="#fcd5b6"/><rect x="682.85" y="549.44" width="13.95" height="9.18" fill="#fabb87"/><rect x="696.1" y="549.44" width="13.95" height="9.18" fill="#f9b278"/><rect x="709.35" y="549.44" width="13.95" height="9.18" fill="#f8a866"/><rect x="722.6" y="549.44" width="13.95" height="9.18" fill="#f8873f"/><rect x="735.85" y="549.44" width="13.95" height="9.18" fill="#fddfc6"/><rect x="749.1" y="549.44" width="13.95" height="9.18" fill="#f8a25b"/><rect x="762.35" y="549.44" width="13.95" height="9.18" fill="#fb4520"/><rect x="775.6" y="549.44" width="13.95" height="9.18" fill="#fa5528"/><rect x="788.85" y="549.44" width="13.95" height="9.18" fill="#404040"/><rect x="802.1" y="549.44" width="13.95" height="9.18" fill="#fb431f"/><rect x="815.35" y="549.44" width="13.95" height="9.18" fill="#fc2f16"/><rect x="828.6" y="549.44" width="13.25" height="9.18" fill="#fb4821"/><rect x="855.1" y="549.44" width="13.95" height="9.18" fill="#f8853e"/><rect x="868.35" y="549.44" width="13.25" height="9.18" fill="#f9b073"/><rect x="934.6" y="549.44" width="13.25" height="8.48" fill="#fffcfb"/><rect x="682.85" y="557.92" width="13.95" height="9.18" fill="#fdeada"/><rect x="696.1" y="557.92" width="13.95" height="9.18" fill="#fde1ca"/><rect x="709.35" y="557.92" width="13.95" height="9.18" fill="#fcd7b8"/><rect x="722.6" y="557.92" width="13.95" height="9.18" fill="#fa602d"/><rect x="735.85" y="557.92" width="13.95" height="8.48" fill="#fac497"/><rect x="749.1" y="557.92" width="13.95" height="9.18" fill="#fbd0ad"/><rect x="762.35" y="557.92" width="13.95" height="9.18" fill="#f8883f"/><rect x="775.6" y="557.92" width="13.95" height="9.18" fill="#f79748"/><rect x="788.85" y="557.92" width="13.95" height="9.18" fill="#fb431f"/><rect x="802.1" y="557.92" width="13.95" height="9.18" fill="#404040"/><rect x="815.35" y="557.92" width="13.95" height="9.18" fill="#fa5628"/><rect x="828.6" y="557.92" width="13.25" height="9.18" fill="#fc3217"/><rect x="855.1" y="557.92" width="13.95" height="9.18" fill="#fb421f"/><rect x="868.35" y="557.92" width="13.25" height="9.18" fill="#f97838"/><rect x="1067.1" y="557.92" width="13.25" height="8.48" fill="#fcd8b9"/><rect x="682.85" y="566.4" width="13.95" height="10.04" fill="#fac191"/><rect x="696.1" y="566.4" width="13.95" height="10.04" fill="#fab882"/><rect x="709.35" y="566.4" width="13.95" height="10.04" fill="#f9ae70"/><rect x="722.6" y="566.4" width="13.25" height="10.04" fill="#f9ac6e"/><rect x="749.1" y="566.4" width="13.95" height="10.04" fill="#f8a865"/><rect x="762.35" y="566.4" width="13.95" height="10.04" fill="#fb4d24"/><rect x="775.6" y="566.4" width="13.95" height="10.04" fill="#fa5d2b"/><rect x="788.85" y="566.4" width="13.95" height="10.04" fill="#fc2f16"/><rect x="802.1" y="566.4" width="13.95" height="10.04" fill="#fa5628"/><rect x="815.35" y="566.4" width="13.95" height="10.04" fill="#404040"/><rect x="828.6" y="566.4" width="13.25" height="10.04" fill="#fc401e"/><rect x="855.1" y="566.4" width="13.95" height="10.04" fill="#f87d3a"/><rect x="868.35" y="566.4" width="13.25" height="10.04" fill="#f9aa69"/><rect x="934.6" y="566.4" width="13.25" height="10.04" fill="#fcdcc1"/><rect x="682.85" y="575.74" width="13.95" height="9.34" fill="#feeddf"/><rect x="696.1" y="575.74" width="13.95" height="9.34" fill="#fde4d0"/><rect x="709.35" y="575.74" width="13.95" height="9.34" fill="#fcdabe"/><rect x="722.6" y="575.74" width="13.95" height="9.34" fill="#f79244"/><rect x="735.85" y="575.74" width="13.95" height="9.34" fill="#fde7d4"/><rect x="749.1" y="575.74" width="13.95" height="9.34" fill="#fcd4b3"/><rect x="762.35" y="575.74" width="13.95" height="9.34" fill="#f88d42"/><rect x="775.6" y="575.74" width="13.95" height="9.34" fill="#f79a4e"/><rect x="788.85" y="575.74" width="13.95" height="9.34" fill="#fb4821"/><rect x="802.1" y="575.74" width="13.95" height="9.34" fill="#fc3217"/><rect x="815.35" y="575.74" width="13.95" height="9.34" fill="#fc401e"/><rect x="828.6" y="575.74" width="13.25" height="9.34" fill="#404040"/><rect x="855.1" y="575.74" width="13.95" height="9.34" fill="#fc3d1d"/><rect x="868.35" y="575.74" width="13.25" height="9.34" fill="#f97336"/><rect x="934.6" y="575.74" width="13.25" height="10.04" fill="#fef5ed"/><rect x="1067.1" y="575.74" width="13.25" height="9.34" fill="#fcd5b4"/><rect x="841.85" y="585.08" width="13.25" height="9.34" fill="#404040"/><rect x="881.6" y="585.08" width="13.25" height="9.34" fill="#fa5a2a"/><rect x="921.35" y="585.08" width="13.95" height="9.34" fill="#f8a764"/><rect x="934.6" y="585.08" width="13.95" height="10.04" fill="#fde6d2"/><rect x="947.85" y="585.08" width="13.25" height="9.34" fill="#f9ac6c"/><rect x="974.35" y="585.08" width="13.95" height="9.34" fill="#f78e42"/><rect x="987.6" y="585.08" width="13.95" height="9.34" fill="#f8a764"/><rect x="1000.85" y="585.08" width="13.25" height="9.34" fill="#fde1cb"/><rect x="1027.35" y="585.08" width="13.95" height="9.34" fill="#fde6d3"/><rect x="1040.6" y="585.08" width="13.25" height="9.34" fill="#fbcba3"/><rect x="1080.35" y="585.08" width="13.25" height="9.34" fill="#fef6ef"/><rect x="722.6" y="594.42" width="13.95" height="10.04" fill="#f79244"/><rect x="735.85" y="594.42" width="13.95" height="10.04" fill="#fde1ca"/><rect x="749.1" y="594.42" width="13.95" height="9.34" fill="#fffefe"/><rect x="762.35" y="594.42" width="13.95" height="10.04" fill="#faba86"/><rect x="775.6" y="594.42" width="13.95" height="10.04" fill="#fbc599"/><rect x="788.85" y="594.42" width="13.95" height="10.04" fill="#f8853e"/><rect x="802.1" y="594.42" width="13.95" height="10.04" fill="#fb421f"/><rect x="815.35" y="594.42" width="13.95" height="10.04" fill="#f87d3a"/><rect x="828.6" y="594.42" width="13.25" height="10.04" fill="#fc3d1d"/><rect x="855.1" y="594.42" width="13.95" height="10.04" fill="#404040"/><rect x="868.35" y="594.42" width="13.25" height="10.04" fill="#fc3619"/><rect x="934.6" y="594.42" width="13.25" height="9.34" fill="#fffaf7"/><rect x="1067.1" y="594.42" width="13.25" height="10.04" fill="#f9ae71"/><rect x="722.6" y="603.76" width="13.95" height="9.34" fill="#fab984"/><rect x="735.85" y="603.76" width="13.25" height="9.34" fill="#fbcda7"/><rect x="762.35" y="603.76" width="13.95" height="9.34" fill="#fde0c8"/><rect x="775.6" y="603.76" width="13.95" height="9.34" fill="#fdebdb"/><rect x="788.85" y="603.76" width="13.95" height="9.34" fill="#f9b073"/><rect x="802.1" y="603.76" width="13.95" height="9.34" fill="#f97838"/><rect x="815.35" y="603.76" width="13.95" height="9.34" fill="#f9aa69"/><rect x="828.6" y="603.76" width="13.25" height="9.34" fill="#f97336"/><rect x="855.1" y="603.76" width="13.95" height="9.34" fill="#fc3619"/><rect x="868.35" y="603.76" width="13.25" height="9.34" fill="#404040"/><rect x="1067.1" y="603.76" width="13.25" height="9.34" fill="#fac395"/><rect x="669.6" y="613.1" width="13.25" height="8.72" fill="#fffefd"/><rect x="749.1" y="613.1" width="13.25" height="8.72" fill="#fffbf8"/><rect x="841.85" y="613.1" width="13.25" height="8.72" fill="#fa5a2a"/><rect x="881.6" y="613.1" width="13.25" height="8.72" fill="#404040"/><rect x="921.35" y="613.1" width="13.95" height="8.72" fill="#fb5427"/><rect x="934.6" y="613.1" width="13.95" height="8.72" fill="#f8a764"/><rect x="947.85" y="613.1" width="13.25" height="8.72" fill="#fa5b2a"/><rect x="974.35" y="613.1" width="13.95" height="8.72" fill="#f97135"/><rect x="987.6" y="613.1" width="13.95" height="8.72" fill="#f96730"/><rect x="1000.85" y="613.1" width="13.25" height="8.72" fill="#f8a25c"/><rect x="1027.35" y="613.1" width="13.95" height="8.72" fill="#f8a764"/><rect x="1040.6" y="613.1" width="13.95" height="8.72" fill="#f88940"/><rect x="1053.85" y="613.1" width="13.25" height="8.72" fill="#fbcca5"/><rect x="1133.35" y="613.1" width="13.25" height="8.72" fill="#fac191"/><rect x="894.85" y="621.82" width="13.25" height="8.72" fill="#404040"/><rect x="961.1" y="621.82" width="13.25" height="8.72" fill="#feefe3"/><rect x="1014.1" y="621.82" width="13.25" height="8.72" fill="#f97135"/><rect x="1093.6" y="621.82" width="13.25" height="8.72" fill="#fef6ee"/><rect x="1146.6" y="621.82" width="13.25" height="8.72" fill="#fabe8d"/><rect x="908.1" y="630.54" width="13.25" height="8.72" fill="#404040"/><rect x="669.6" y="639.26" width="13.25" height="8.72" fill="#fef5ee"/><rect x="749.1" y="639.26" width="13.25" height="9.42" fill="#fef4eb"/><rect x="841.85" y="639.26" width="13.25" height="9.42" fill="#f8a764"/><rect x="881.6" y="639.26" width="13.25" height="9.42" fill="#fb5427"/><rect x="921.35" y="639.26" width="13.95" height="9.42" fill="#404040"/><rect x="934.6" y="639.26" width="13.95" height="9.42" fill="#fa5b2a"/><rect x="947.85" y="639.26" width="13.25" height="9.42" fill="#fd2813"/><rect x="974.35" y="639.26" width="13.95" height="9.42" fill="#f87c3a"/><rect x="987.6" y="639.26" width="13.95" height="9.42" fill="#f97235"/><rect x="1000.85" y="639.26" width="13.25" height="9.42" fill="#fb5427"/><rect x="1027.35" y="639.26" width="13.95" height="9.42" fill="#fa5b2a"/><rect x="1040.6" y="639.26" width="13.95" height="9.42" fill="#f79445"/><rect x="1053.85" y="639.26" width="13.25" height="9.42" fill="#f78f43"/><rect x="1133.35" y="639.26" width="13.25" height="9.42" fill="#fac091"/><rect x="709.35" y="647.98" width="13.25" height="8.72" fill="#fffffe"/><rect x="749.1" y="647.98" width="13.95" height="8.72" fill="#fbc598"/><rect x="762.35" y="647.98" width="13.95" height="8.72" fill="#fef5ed"/><rect x="775.6" y="647.98" width="13.95" height="8.72" fill="#fcd5b6"/><rect x="788.85" y="647.98" width="13.25" height="8.72" fill="#fffcfb"/><rect x="815.35" y="647.98" width="13.95" height="8.72" fill="#fcdcc1"/><rect x="828.6" y="647.98" width="13.95" height="8.72" fill="#fef5ed"/><rect x="841.85" y="647.98" width="13.95" height="9.42" fill="#fde6d2"/><rect x="855.1" y="647.98" width="13.25" height="8.72" fill="#fffaf7"/><rect x="881.6" y="647.98" width="13.25" height="9.42" fill="#f8a764"/><rect x="921.35" y="647.98" width="13.95" height="9.42" fill="#fa5b2a"/><rect x="934.6" y="647.98" width="13.95" height="9.42" fill="#404040"/><rect x="947.85" y="647.98" width="13.25" height="9.42" fill="#f96b32"/><rect x="974.35" y="647.98" width="13.95" height="9.42" fill="#f9b278"/><rect x="987.6" y="647.98" width="13.95" height="9.42" fill="#f9ac6c"/><rect x="1000.85" y="647.98" width="13.25" height="9.42" fill="#f97738"/><rect x="1027.35" y="647.98" width="13.95" height="9.42" fill="#f79a4d"/><rect x="1040.6" y="647.98" width="13.95" height="9.42" fill="#fac396"/><rect x="1053.85" y="647.98" width="13.25" height="9.42" fill="#f79043"/><rect x="1133.35" y="647.98" width="13.25" height="9.42" fill="#feefe3"/><rect x="841.85" y="656.7" width="13.25" height="8.72" fill="#f9ac6c"/><rect x="881.6" y="656.7" width="13.25" height="8.72" fill="#fa5b2a"/><rect x="921.35" y="656.7" width="13.95" height="8.72" fill="#fd2813"/><rect x="934.6" y="656.7" width="13.95" height="8.72" fill="#f96b32"/><rect x="947.85" y="656.7" width="13.25" height="8.72" fill="#404040"/><rect x="974.35" y="656.7" width="13.95" height="8.72" fill="#fb5427"/><rect x="987.6" y="656.7" width="13.95" height="8.72" fill="#fb4a23"/><rect x="1000.85" y="656.7" width="13.25" height="8.72" fill="#fb4d24"/><rect x="1027.35" y="656.7" width="13.95" height="8.72" fill="#fb5427"/><rect x="1040.6" y="656.7" width="13.95" height="8.72" fill="#f96c33"/><rect x="1053.85" y="656.7" width="13.25" height="8.72" fill="#f88840"/><rect x="1080.35" y="656.7" width="13.25" height="8.72" fill="#fdebdc"/><rect x="1133.35" y="656.7" width="13.25" height="8.72" fill="#f8a560"/><rect x="1159.85" y="656.7" width="13.25" height="8.72" fill="#fffbf8"/><rect x="1186.35" y="656.7" width="13.25" height="8.72" fill="#fff9f4"/><rect x="894.85" y="665.42" width="13.25" height="8.72" fill="#feefe3"/><rect x="961.1" y="665.42" width="13.25" height="8.72" fill="#404040"/><rect x="1014.1" y="665.42" width="13.25" height="8.72" fill="#feecdd"/><rect x="841.85" y="674.14" width="13.25" height="9.42" fill="#f78e42"/><rect x="881.6" y="674.14" width="13.25" height="9.42" fill="#f97135"/><rect x="921.35" y="674.14" width="13.95" height="9.42" fill="#f87c3a"/><rect x="934.6" y="674.14" width="13.95" height="9.42" fill="#f9b278"/><rect x="947.85" y="674.14" width="13.25" height="9.42" fill="#fb5427"/><rect x="974.35" y="674.14" width="13.95" height="9.42" fill="#404040"/><rect x="987.6" y="674.14" width="13.95" height="9.42" fill="#fd200f"/><rect x="1000.85" y="674.14" width="13.25" height="9.42" fill="#f97436"/><rect x="1027.35" y="674.14" width="13.95" height="9.42" fill="#f87a39"/><rect x="1040.6" y="674.14" width="13.95" height="9.42" fill="#fb5427"/><rect x="1053.85" y="674.14" width="13.25" height="9.42" fill="#f8a765"/><rect x="1080.35" y="674.14" width="13.25" height="9.42" fill="#f9b175"/><rect x="1120.1" y="674.14" width="13.95" height="9.42" fill="#fcdbc0"/><rect x="1133.35" y="674.14" width="13.25" height="9.42" fill="#f89d52"/><rect x="1159.85" y="674.14" width="13.95" height="9.42" fill="#fac090"/><rect x="1173.1" y="674.14" width="13.95" height="9.42" fill="#fdebdb"/><rect x="1186.35" y="674.14" width="13.25" height="9.42" fill="#fabe8d"/><rect x="841.85" y="682.86" width="13.25" height="9.42" fill="#f8a764"/><rect x="881.6" y="682.86" width="13.25" height="9.42" fill="#f96730"/><rect x="921.35" y="682.86" width="13.95" height="9.42" fill="#f97235"/><rect x="934.6" y="682.86" width="13.95" height="9.42" fill="#f9ac6c"/><rect x="947.85" y="682.86" width="13.25" height="9.42" fill="#fb4a23"/><rect x="974.35" y="682.86" width="13.95" height="9.42" fill="#fd200f"/><rect x="987.6" y="682.86" width="13.95" height="9.42" fill="#404040"/><rect x="1000.85" y="682.86" width="13.25" height="9.42" fill="#fb5427"/><rect x="1027.35" y="682.86" width="13.95" height="9.42" fill="#fa5a2a"/><rect x="1040.6" y="682.86" width="13.95" height="9.42" fill="#fc3418"/><rect x="1053.85" y="682.86" width="13.25" height="9.42" fill="#f78f43"/><rect x="1080.35" y="682.86" width="13.25" height="9.42" fill="#fab881"/><rect x="1120.1" y="682.86" width="13.95" height="8.72" fill="#fde2cc"/><rect x="1133.35" y="682.86" width="13.25" height="9.42" fill="#f8803c"/><rect x="1159.85" y="682.86" width="13.95" height="9.42" fill="#fbc79d"/><rect x="1173.1" y="682.86" width="13.95" height="8.72" fill="#fef2e7"/><rect x="1186.35" y="682.86" width="13.25" height="9.42" fill="#fbc599"/><rect x="841.85" y="691.58" width="13.25" height="8.72" fill="#fde1cb"/><rect x="881.6" y="691.58" width="13.25" height="8.72" fill="#f8a25c"/><rect x="921.35" y="691.58" width="13.95" height="8.72" fill="#fb5427"/><rect x="934.6" y="691.58" width="13.95" height="8.72" fill="#f97738"/><rect x="947.85" y="691.58" width="13.25" height="8.72" fill="#fb4d24"/><rect x="974.35" y="691.58" width="13.95" height="8.72" fill="#f97436"/><rect x="987.6" y="691.58" width="13.95" height="8.72" fill="#fb5427"/><rect x="1000.85" y="691.58" width="13.25" height="8.72" fill="#404040"/><rect x="1027.35" y="691.58" width="13.95" height="8.72" fill="#fd2411"/><rect x="1040.6" y="691.58" width="13.95" height="8.72" fill="#fa602d"/><rect x="1053.85" y="691.58" width="13.25" height="8.72" fill="#fc3b1c"/><rect x="1080.35" y="691.58" width="13.25" height="9.42" fill="#fde2cc"/><rect x="1133.35" y="691.58" width="13.25" height="8.72" fill="#f79c50"/><rect x="1159.85" y="691.58" width="13.25" height="8.72" fill="#fef2e8"/><rect x="1186.35" y="691.58" width="13.25" height="8.72" fill="#fef0e5"/><rect x="894.85" y="700.3" width="13.25" height="8.94" fill="#f97135"/><rect x="961.1" y="700.3" width="13.25" height="8.94" fill="#feecdd"/><rect x="1014.1" y="700.3" width="13.25" height="8.94" fill="#404040"/><rect x="1080.35" y="700.3" width="13.95" height="9.64" fill="#feeee1"/><rect x="1093.6" y="700.3" width="13.95" height="8.94" fill="#f8a763"/><rect x="1106.85" y="700.3" width="13.95" height="8.94" fill="#f9b278"/><rect x="1120.1" y="700.3" width="13.25" height="9.64" fill="#feeddf"/><rect x="1146.6" y="700.3" width="13.25" height="8.94" fill="#f97436"/><rect x="841.85" y="709.24" width="13.25" height="9.64" fill="#fde6d3"/><rect x="881.6" y="709.24" width="13.25" height="9.64" fill="#f8a764"/><rect x="921.35" y="709.24" width="13.95" height="9.64" fill="#fa5b2a"/><rect x="934.6" y="709.24" width="13.95" height="9.64" fill="#f79a4d"/><rect x="947.85" y="709.24" width="13.25" height="9.64" fill="#fb5427"/><rect x="974.35" y="709.24" width="13.95" height="9.64" fill="#f87a39"/><rect x="987.6" y="709.24" width="13.95" height="9.64" fill="#fa5a2a"/><rect x="1000.85" y="709.24" width="13.25" height="9.64" fill="#fd2411"/><rect x="1027.35" y="709.24" width="13.95" height="9.64" fill="#404040"/><rect x="1040.6" y="709.24" width="13.95" height="9.64" fill="#fc3c1c"/><rect x="1053.85" y="709.24" width="13.25" height="9.64" fill="#fc3519"/><rect x="1080.35" y="709.24" width="13.25" height="9.64" fill="#fbc9a0"/><rect x="1120.1" y="709.24" width="13.95" height="9.64" fill="#fef4eb"/><rect x="1133.35" y="709.24" width="13.25" height="9.64" fill="#f87a39"/><rect x="1159.85" y="709.24" width="13.25" height="9.64" fill="#fcd9bc"/><rect x="1186.35" y="709.24" width="13.25" height="9.64" fill="#fcd7b9"/><rect x="841.85" y="718.18" width="13.25" height="8.94" fill="#fbcba3"/><rect x="881.6" y="718.18" width="13.25" height="9.64" fill="#f88940"/><rect x="921.35" y="718.18" width="13.95" height="9.64" fill="#f79445"/><rect x="934.6" y="718.18" width="13.95" height="9.64" fill="#fac396"/><rect x="947.85" y="718.18" width="13.25" height="9.64" fill="#f96c33"/><rect x="974.35" y="718.18" width="13.95" height="9.64" fill="#fb5427"/><rect x="987.6" y="718.18" width="13.95" height="9.64" fill="#fc3418"/><rect x="1000.85" y="718.18" width="13.25" height="9.64" fill="#fa602d"/><rect x="1027.35" y="718.18" width="13.95" height="9.64" fill="#fc3c1c"/><rect x="1040.6" y="718.18" width="13.95" height="9.64" fill="#404040"/><rect x="1053.85" y="718.18" width="13.25" height="9.64" fill="#fa5b2b"/><rect x="1080.35" y="718.18" width="13.95" height="9.64" fill="#f8a057"/><rect x="1093.6" y="718.18" width="13.95" height="8.94" fill="#fef5ed"/><rect x="1106.85" y="718.18" width="13.95" height="8.94" fill="#fef7f0"/><rect x="1120.1" y="718.18" width="13.95" height="9.64" fill="#fbcaa2"/><rect x="1133.35" y="718.18" width="13.25" height="9.64" fill="#fb4c24"/><rect x="1159.85" y="718.18" width="13.95" height="9.64" fill="#f9af73"/><rect x="1173.1" y="718.18" width="13.95" height="8.94" fill="#fcdabe"/><rect x="1186.35" y="718.18" width="13.25" height="9.64" fill="#f9ad6f"/><rect x="881.6" y="727.12" width="13.25" height="8.94" fill="#fbcca5"/><rect x="921.35" y="727.12" width="13.95" height="8.94" fill="#f78f43"/><rect x="934.6" y="727.12" width="13.95" height="8.94" fill="#f79043"/><rect x="947.85" y="727.12" width="13.25" height="8.94" fill="#f88840"/><rect x="974.35" y="727.12" width="13.95" height="8.94" fill="#f8a765"/><rect x="987.6" y="727.12" width="13.95" height="8.94" fill="#f78f43"/><rect x="1000.85" y="727.12" width="13.25" height="8.94" fill="#fc3b1c"/><rect x="1027.35" y="727.12" width="13.95" height="8.94" fill="#fc3519"/><rect x="1040.6" y="727.12" width="13.95" height="8.94" fill="#fa5b2b"/><rect x="1053.85" y="727.12" width="13.95" height="9.64" fill="#404040"/><rect x="1067.1" y="727.12" width="13.95" height="9.64" fill="#fdebdc"/><rect x="1080.35" y="727.12" width="13.25" height="8.94" fill="#fbd0ad"/><rect x="1120.1" y="727.12" width="13.95" height="8.94" fill="#fffbf8"/><rect x="1133.35" y="727.12" width="13.25" height="8.94" fill="#f8853e"/><rect x="1159.85" y="727.12" width="13.25" height="8.94" fill="#fde0c9"/><rect x="1186.35" y="727.12" width="13.25" height="8.94" fill="#fddfc6"/><rect x="802.1" y="736.06" width="13.25" height="8.94" fill="#fcd8b9"/><rect x="828.6" y="736.06" width="13.25" height="8.94" fill="#fcd5b4"/><rect x="855.1" y="736.06" width="13.95" height="8.94" fill="#f9ae71"/><rect x="868.35" y="736.06" width="13.25" height="8.94" fill="#fac395"/><rect x="1053.85" y="736.06" width="13.95" height="9.64" fill="#fdebdc"/><rect x="1067.1" y="736.06" width="13.25" height="8.94" fill="#404040"/><rect x="841.85" y="745" width="13.25" height="8.84" fill="#fef6ef"/><rect x="947.85" y="745" width="13.25" height="8.84" fill="#fdebdc"/><rect x="974.35" y="745" width="13.95" height="8.84" fill="#f9b175"/><rect x="987.6" y="745" width="13.95" height="8.84" fill="#fab881"/><rect x="1000.85" y="745" width="13.95" height="8.84" fill="#fde2cc"/><rect x="1014.1" y="745" width="13.95" height="9.54" fill="#feeee1"/><rect x="1027.35" y="745" width="13.95" height="8.84" fill="#fbc9a0"/><rect x="1040.6" y="745" width="13.95" height="9.54" fill="#f8a057"/><rect x="1053.85" y="745" width="13.25" height="8.84" fill="#fbd0ad"/><rect x="1080.35" y="745" width="13.95" height="9.54" fill="#404040"/><rect x="1093.6" y="745" width="13.95" height="9.54" fill="#f87b39"/><rect x="1106.85" y="745" width="13.95" height="9.54" fill="#f87e3b"/><rect x="1120.1" y="745" width="13.95" height="9.54" fill="#fc3d1d"/><rect x="1133.35" y="745" width="13.95" height="9.54" fill="#f9aa6a"/><rect x="1146.6" y="745" width="13.95" height="9.54" fill="#fef6f0"/><rect x="1159.85" y="745" width="13.95" height="9.54" fill="#fa5d2b"/><rect x="1173.1" y="745" width="13.95" height="9.54" fill="#fb5327"/><rect x="1186.35" y="745" width="13.25" height="9.54" fill="#f8843e"/><rect x="894.85" y="753.84" width="13.25" height="8.84" fill="#fef6ee"/><rect x="1014.1" y="753.84" width="13.25" height="9.54" fill="#f8a763"/><rect x="1040.6" y="753.84" width="13.25" height="9.54" fill="#fef5ed"/><rect x="1080.35" y="753.84" width="13.95" height="9.54" fill="#f87b39"/><rect x="1093.6" y="753.84" width="13.95" height="9.54" fill="#404040"/><rect x="1106.85" y="753.84" width="13.95" height="9.54" fill="#fe1108"/><rect x="1120.1" y="753.84" width="13.95" height="9.54" fill="#fa652f"/><rect x="1133.35" y="753.84" width="13.95" height="9.54" fill="#fef1e7"/><rect x="1146.6" y="753.84" width="13.95" height="9.54" fill="#f8a15a"/><rect x="1159.85" y="753.84" width="13.95" height="9.54" fill="#f9b67f"/><rect x="1173.1" y="753.84" width="13.95" height="9.54" fill="#f7994a"/><rect x="1186.35" y="753.84" width="13.25" height="9.54" fill="#fcd2af"/><rect x="1014.1" y="762.68" width="13.25" height="9.54" fill="#f9b278"/><rect x="1040.6" y="762.68" width="13.25" height="9.54" fill="#fef7f0"/><rect x="1080.35" y="762.68" width="13.95" height="9.54" fill="#f87e3b"/><rect x="1093.6" y="762.68" width="13.95" height="9.54" fill="#fe1108"/><rect x="1106.85" y="762.68" width="13.95" height="9.54" fill="#404040"/><rect x="1120.1" y="762.68" width="13.95" height="9.54" fill="#fb5427"/><rect x="1133.35" y="762.68" width="13.95" height="9.54" fill="#fde6d2"/><rect x="1146.6" y="762.68" width="13.95" height="9.54" fill="#f89f57"/><rect x="1159.85" y="762.68" width="13.95" height="9.54" fill="#f9aa6a"/><rect x="1173.1" y="762.68" width="13.95" height="9.54" fill="#f88940"/><rect x="1186.35" y="762.68" width="13.25" height="9.54" fill="#fbc69a"/><rect x="974.35" y="771.52" width="13.95" height="9.54" fill="#fcdbc0"/><rect x="987.6" y="771.52" width="13.25" height="9.54" fill="#fde2cc"/><rect x="1014.1" y="771.52" width="13.95" height="8.84" fill="#feeddf"/><rect x="1027.35" y="771.52" width="13.95" height="9.54" fill="#fef4eb"/><rect x="1040.6" y="771.52" width="13.95" height="9.54" fill="#fbcaa2"/><rect x="1053.85" y="771.52" width="13.25" height="9.54" fill="#fffbf8"/><rect x="1080.35" y="771.52" width="13.95" height="9.54" fill="#fc3d1d"/><rect x="1093.6" y="771.52" width="13.95" height="9.54" fill="#fa652f"/><rect x="1106.85" y="771.52" width="13.95" height="9.54" fill="#fb5427"/><rect x="1120.1" y="771.52" width="13.95" height="9.54" fill="#404040"/><rect x="1133.35" y="771.52" width="13.95" height="9.54" fill="#f9ac6c"/><rect x="1146.6" y="771.52" width="13.95" height="8.84" fill="#fbcca5"/><rect x="1159.85" y="771.52" width="13.95" height="9.54" fill="#fa602d"/><rect x="1173.1" y="771.52" width="13.95" height="9.54" fill="#fc3519"/><rect x="1186.35" y="771.52" width="13.25" height="9.54" fill="#f8873f"/><rect x="881.6" y="780.36" width="13.25" height="8.84" fill="#fac191"/><rect x="921.35" y="780.36" width="13.95" height="8.84" fill="#fac091"/><rect x="934.6" y="780.36" width="13.95" height="8.84" fill="#feefe3"/><rect x="947.85" y="780.36" width="13.25" height="8.84" fill="#f8a560"/><rect x="974.35" y="780.36" width="13.95" height="8.84" fill="#f89d52"/><rect x="987.6" y="780.36" width="13.95" height="8.84" fill="#f8803c"/><rect x="1000.85" y="780.36" width="13.25" height="8.84" fill="#f79c50"/><rect x="1027.35" y="780.36" width="13.95" height="8.84" fill="#f87a39"/><rect x="1040.6" y="780.36" width="13.95" height="8.84" fill="#fb4c24"/><rect x="1053.85" y="780.36" width="13.25" height="8.84" fill="#f8853e"/><rect x="1080.35" y="780.36" width="13.95" height="9.54" fill="#f9aa6a"/><rect x="1093.6" y="780.36" width="13.95" height="9.54" fill="#fef1e7"/><rect x="1106.85" y="780.36" width="13.95" height="9.54" fill="#fde6d2"/><rect x="1120.1" y="780.36" width="13.95" height="9.54" fill="#f9ac6c"/><rect x="1133.35" y="780.36" width="13.25" height="8.84" fill="#404040"/><rect x="1159.85" y="780.36" width="13.95" height="9.54" fill="#f87c3a"/><rect x="1173.1" y="780.36" width="13.95" height="9.54" fill="#f9ae70"/><rect x="1186.35" y="780.36" width="13.25" height="8.84" fill="#f97938"/><rect x="894.85" y="789.2" width="13.25" height="8.7" fill="#fabe8d"/><rect x="1014.1" y="789.2" width="13.25" height="8.7" fill="#f97436"/><rect x="1080.35" y="789.2" width="13.95" height="9.4" fill="#fef6f0"/><rect x="1093.6" y="789.2" width="13.95" height="9.4" fill="#f8a15a"/><rect x="1106.85" y="789.2" width="13.95" height="9.4" fill="#f89f57"/><rect x="1120.1" y="789.2" width="13.25" height="9.4" fill="#fbcca5"/><rect x="1146.6" y="789.2" width="13.95" height="9.4" fill="#404040"/><rect x="1159.85" y="789.2" width="13.95" height="9.4" fill="#fef3ea"/><rect x="1173.1" y="789.2" width="13.25" height="9.4" fill="#fcd6b7"/><rect x="947.85" y="797.9" width="13.25" height="8.7" fill="#fffbf8"/><rect x="974.35" y="797.9" width="13.95" height="9.4" fill="#fac090"/><rect x="987.6" y="797.9" width="13.95" height="9.4" fill="#fbc79d"/><rect x="1000.85" y="797.9" width="13.25" height="8.7" fill="#fef2e8"/><rect x="1027.35" y="797.9" width="13.95" height="8.7" fill="#fcd9bc"/><rect x="1040.6" y="797.9" width="13.95" height="9.4" fill="#f9af73"/><rect x="1053.85" y="797.9" width="13.25" height="8.7" fill="#fde0c9"/><rect x="1080.35" y="797.9" width="13.95" height="9.4" fill="#fa5d2b"/><rect x="1093.6" y="797.9" width="13.95" height="9.4" fill="#f9b67f"/><rect x="1106.85" y="797.9" width="13.95" height="9.4" fill="#f9aa6a"/><rect x="1120.1" y="797.9" width="13.95" height="9.4" fill="#fa602d"/><rect x="1133.35" y="797.9" width="13.95" height="9.4" fill="#f87c3a"/><rect x="1146.6" y="797.9" width="13.95" height="9.4" fill="#fef3ea"/><rect x="1159.85" y="797.9" width="13.95" height="9.4" fill="#404040"/><rect x="1173.1" y="797.9" width="13.95" height="9.4" fill="#fc3d1d"/><rect x="1186.35" y="797.9" width="13.25" height="9.4" fill="#fd2712"/><rect x="974.35" y="806.6" width="13.95" height="9.4" fill="#fdebdb"/><rect x="987.6" y="806.6" width="13.25" height="9.4" fill="#fef2e7"/><rect x="1040.6" y="806.6" width="13.25" height="9.4" fill="#fcdabe"/><rect x="1080.35" y="806.6" width="13.95" height="9.4" fill="#fb5327"/><rect x="1093.6" y="806.6" width="13.95" height="9.4" fill="#f7994a"/><rect x="1106.85" y="806.6" width="13.95" height="9.4" fill="#f88940"/><rect x="1120.1" y="806.6" width="13.95" height="9.4" fill="#fc3519"/><rect x="1133.35" y="806.6" width="13.95" height="9.4" fill="#f9ae70"/><rect x="1146.6" y="806.6" width="13.95" height="8.7" fill="#fcd6b7"/><rect x="1159.85" y="806.6" width="13.95" height="9.4" fill="#fc3d1d"/><rect x="1173.1" y="806.6" width="13.95" height="9.4" fill="#404040"/><rect x="1186.35" y="806.6" width="13.25" height="9.4" fill="#fb5226"/><rect x="947.85" y="815.3" width="13.25" height="8.7" fill="#fff9f4"/><rect x="974.35" y="815.3" width="13.95" height="8.7" fill="#fabe8d"/><rect x="987.6" y="815.3" width="13.95" height="8.7" fill="#fbc599"/><rect x="1000.85" y="815.3" width="13.25" height="8.7" fill="#fef0e5"/><rect x="1027.35" y="815.3" width="13.95" height="8.7" fill="#fcd7b9"/><rect x="1040.6" y="815.3" width="13.95" height="8.7" fill="#f9ad6f"/><rect x="1053.85" y="815.3" width="13.25" height="8.7" fill="#fddfc6"/><rect x="1080.35" y="815.3" width="13.95" height="8.7" fill="#f8843e"/><rect x="1093.6" y="815.3" width="13.95" height="8.7" fill="#fcd2af"/><rect x="1106.85" y="815.3" width="13.95" height="8.7" fill="#fbc69a"/><rect x="1120.1" y="815.3" width="13.95" height="8.7" fill="#f8873f"/><rect x="1133.35" y="815.3" width="13.25" height="8.7" fill="#f97938"/><rect x="1159.85" y="815.3" width="13.95" height="8.7" fill="#fd2712"/><rect x="1173.1" y="815.3" width="13.95" height="8.7" fill="#fb5226"/><rect x="1186.35" y="815.3" width="13.25" height="8.7" fill="#404040"/></svg>
<div class="r" style="top:75.5px;height:8.94px;line-height:11.34px"><u>0.000</u><u>3.550</u><u>14.945</u><u>0.826</u><u>3.446</u><u>6.457</u><u>4.287</u><u>3.080</u><u>5.401</u><u>5.705</u><u>10.861</u><u>68.439</u><u>6.417</u><u>25.643</u><u>20.101</u><u>7.251</u><u>8.266</u><u>3.170</u><u>3.981</u><u>108.277</u><u>9.686</u><u>2.784</u><i>0.955</i><i>1.731</i><i>71.824</i><i>0.924</i><i>3.235</i><i>5.916</i><i>3.071</i><i>3.813</i><i>5.788</i><i>4.045</i><i>3.621</i><i>4.573</i><i>3.710</i><i>4.391</i><i>3.783</i><i>4.179</i><i>4.228</i><i>3.814</i><i>4.137</i><i>4.208</i><i>4.466</i><i>4.398</i><i>4.228</i><i>5.449</i><i>5.402</i><i>5.384</i><i>8.571</i><i>24.899</i><i>4.969</i><i>6.046</i><i>5.591</i><i>6.816</i><i>8.296</i><i>6.413</i><i>7.583</i><i>3.627</i><i>8.758</i><i>10.858</i><i>3.860</i><i>2.812</i><i>2.513</i><i>4.117</i><i>4.678</i><i>4.024</i><i>2.538</i><i>3.721</i><i>3.817</i><i>4.216</i><i>2.832</i><i>4.127</i><i>3.861</i><i>4.331</i><i>8.644</i><i>3.343</i><i>3.048</i><i>3.064</i><i>3.251</i><i>3.897</i><i>2.811</i><i>3.460</i><i>3.296</i><i>3.536</i></div>
<div class="r" style="top:84.44px;height:8.94px;line-height:11.34px"><u>3.550</u><u>0.000</u><u>0.677</u><u>2.296</u><u>0.677</u><u>0.781</u><u>0.716</u><u>0.918</u><u>0.847</u><u>0.883</u><u>1.006</u><u>1.129</u><u>0.954</u><u>1.176</u><u>1.100</u><u>1.006</u><u>1.284</u><u>1.068</u><u>1.450</u><u>1.190</u><u>1.078</u><u>1.205</u><i>4.040</i><i>2.038</i><i>1.215</i><i>4.460</i><i>1.098</i><i>1.385</i><i>1.145</i><i>1.006</i><i>1.016</i><i>0.982</i><i>1.041</i><i>0.948</i><i>1.032</i><i>0.954</i><i>1.025</i><i>0.978</i><i>0.974</i><i>1.025</i><i>0.987</i><i>0.980</i><i>0.957</i><i>0.964</i><i>0.982</i><i>1.020</i><i>1.018</i><i>1.018</i><i>1.115</i><i>1.203</i><i>0.995</i><i>1.051</i><i>1.032</i><i>1.079</i><i>1.115</i><i>1.068</i><i>1.101</i><i>1.071</i><i>1.125</i><i>1.153</i><i>1.038</i><i>1.275</i><i>1.754</i><i>1.008</i><i>0.982</i><i>1.020</i><i>1.404</i><i>1.062</i><i>1.048</i><i>1.000</i><i>1.273</i><i>1.011</i><i>1.044</i><i>0.991</i><i>1.130</i><i>1.133</i><i>1.206</i><i>1.202</i><i>1.155</i><i>1.042</i><i>1.286</i><i>1.112</i><i>1.146</i><i>1.099</i></div>
<div class="r" style="top:93.38px;height:8.94px;line-height:11.34px"><u>14.945</u><u>0.677</u><u>0.000</u><u>3.994</u><u>0.743</u><u>0.667</u><u>0.842</u><u>1.039</u><u>0.881</u><u>0.905</u><u>0.834</u><u>0.746</u><u>0.959</u><u>0.762</u><u>0.870</u><u>0.988</u><u>0.845</u><u>1.282</u><u>1.061</u><u>0.869</u><u>0.999</u><u>1.407</u><i>38.463</i><i>2.106</i><i>0.901</i><i>15.724</i><i>1.344</i><i>0.996</i><i>1.386</i><i>1.277</i><i>1.146</i><i>1.261</i><i>1.313</i><i>1.223</i><i>1.308</i><i>1.243</i><i>1.306</i><i>1.267</i><i>1.266</i><i>1.310</i><i>1.279</i><i>1.275</i><i>1.255</i><i>1.263</i><i>1.279</i><i>1.202</i><i>1.206</i><i>1.208</i><i>1.118</i><i>1.031</i><i>1.236</i><i>1.186</i><i>1.206</i><i>1.164</i><i>1.132</i><i>1.179</i><i>1.148</i><i>1.365</i><i>1.128</i><i>1.103</i><i>1.340</i><i>1.525</i><i>1.543</i><i>1.316</i><i>1.271</i><i>1.328</i><i>1.618</i><i>1.364</i><i>1.353</i><i>1.312</i><i>1.529</i><i>1.322</i><i>1.351</i><i>1.306</i><i>1.144</i><i>1.425</i><i>1.482</i><i>1.479</i><i>1.443</i><i>1.352</i><i>1.542</i><i>1.410</i><i>1.438</i><i>1.400</i></div>
<div class="r" style="top:102.32px;height:8.94px;line-height:11.34px"><u>0.826</u><u>2.296</u><u>3.994</u><u>0.000</u><u>1.788</u><u>2.368</u><u>2.134</u><u>1.909</u><u>2.428</u><u>2.512</u><u>2.964</u><u>3.768</u><u>2.694</u><u>4.078</u><u>3.337</u><u>2.843</u><u>5.697</u><u>2.195</u><u>423.937</u><u>3.874</u><u>3.096</u><u>2.116</u><i>1.048</i><i>1.434</i><i>3.968</i><i>1.111</i><i>2.296</i><i>8.241</i><i>2.259</i><i>2.466</i><i>2.823</i><i>2.529</i><i>2.433</i><i>2.645</i><i>2.464</i><i>2.618</i><i>2.489</i><i>2.582</i><i>2.596</i><i>2.507</i><i>2.583</i><i>2.601</i><i>2.656</i><i>2.645</i><i>2.613</i><i>2.830</i><i>2.825</i><i>2.825</i><i>3.162</i><i>3.640</i><i>2.765</i><i>2.924</i><i>2.865</i><i>3.017</i><i>3.153</i><i>2.976</i><i>3.097</i><i>2.499</i><i>3.194</i><i>3.321</i><i>2.561</i><i>2.261</i><i>3.362</i><i>2.623</i><i>2.737</i><i>2.605</i><i>2.166</i><i>2.536</i><i>2.561</i><i>2.652</i><i>2.279</i><i>2.635</i><i>2.575</i><i>2.680</i><i>3.206</i><i>2.444</i><i>2.356</i><i>2.362</i><i>2.419</i><i>2.590</i><i>2.280</i><i>2.481</i><i>2.436</i><i>2.503</i></div>
<div class="r" style="top:111.26px;height:8.94px;line-height:11.34px"><u>3.446</u><u>0.677</u><u>0.743</u><u>1.788</u><u>0.000</u><u>0.301</u><u>0.279</u><u>0.364</u><u>0.480</u><u>0.543</u><u>0.689</u><u>0.831</u><u>0.683</u><u>0.916</u><u>0.861</u><u>0.785</u><u>1.065</u><u>0.722</u><u>1.243</u><u>1.012</u><u>0.914</u><u>0.904</u><i>3.272</i><i>1.807</i><i>1.078</i><i>3.562</i><i>0.830</i><i>1.257</i><i>0.889</i><i>0.762</i><i>0.921</i><i>0.805</i><i>0.803</i><i>0.868</i><i>0.801</i><i>0.863</i><i>0.801</i><i>0.852</i><i>0.862</i><i>0.817</i><i>0.860</i><i>0.872</i><i>0.900</i><i>0.898</i><i>0.885</i><i>0.976</i><i>0.977</i><i>0.979</i><i>1.077</i><i>1.163</i><i>0.964</i><i>1.021</i><i>1.004</i><i>1.052</i><i>1.088</i><i>1.044</i><i>1.078</i><i>0.897</i><i>1.105</i><i>1.133</i><i>0.881</i><i>1.113</i><i>1.693</i><i>0.919</i><i>0.973</i><i>0.911</i><i>1.255</i><i>0.901</i><i>0.889</i><i>0.939</i><i>1.121</i><i>0.932</i><i>0.901</i><i>0.956</i><i>1.129</i><i>0.982</i><i>1.057</i><i>1.054</i><i>1.007</i><i>0.914</i><i>1.144</i><i>0.965</i><i>1.001</i><i>0.954</i></div>
<div class="r" style="top:120.2px;height:8.68px;line-height:11.08px"><u>6.457</u><u>0.781</u><u>0.667</u><u>2.368</u><u>0.301</u><u>0.000</u><u>0.204</u><u>0.444</u><u>0.276</u><u>0.318</u><u>0.408</u><u>0.562</u><u>0.419</u><u>0.656</u><u>0.595</u><u>0.516</u><u>0.825</u><u>0.833</u><u>1.036</u><u>0.765</u><u>0.660</u><u>1.013</u><i>5.322</i><i>1.798</i><i>0.842</i><i>6.418</i><i>0.959</i><i>1.048</i><i>1.017</i><i>0.892</i><i>0.749</i><i>0.880</i><i>0.944</i><i>0.845</i><i>0.945</i><i>0.874</i><i>0.948</i><i>0.906</i><i>0.907</i><i>0.960</i><i>0.927</i><i>0.925</i><i>0.905</i><i>0.916</i><i>0.936</i><i>0.852</i><i>0.858</i><i>0.863</i><i>0.854</i><i>0.947</i><i>0.898</i><i>0.846</i><i>0.870</i><i>0.829</i><i>0.868</i><i>0.845</i><i>0.858</i><i>1.056</i><i>0.887</i><i>0.917</i><i>1.030</i><i>1.256</i><i>1.588</i><i>1.006</i><i>0.957</i><i>1.021</i><i>1.382</i><i>1.065</i><i>1.053</i><i>1.008</i><i>1.269</i><i>1.021</i><i>1.055</i><i>1.004</i><i>0.917</i><i>1.144</i><i>1.214</i><i>1.211</i><i>1.168</i><i>1.061</i><i>1.293</i><i>1.131</i><i>1.164</i><i>1.120</i></div>
<div class="r" style="top:128.88px;height:8.68px;line-height:11.08px"><u>4.287</u><u>0.716</u><u>0.842</u><u>2.134</u><u>0.279</u><u>0.204</u><u>0.000</u><u>0.246</u><u>0.211</u><u>0.281</u><u>0.436</u><u>0.588</u><u>0.439</u><u>0.685</u><u>0.631</u><u>0.557</u><u>0.855</u><u>0.659</u><u>1.054</u><u>0.808</u><u>0.710</u><u>0.854</u><i>3.715</i><i>1.708</i><i>0.893</i><i>4.171</i><i>0.799</i><i>1.091</i><i>0.863</i><i>0.732</i><i>0.745</i><i>0.722</i><i>0.788</i><i>0.697</i><i>0.791</i><i>0.718</i><i>0.795</i><i>0.753</i><i>0.755</i><i>0.810</i><i>0.776</i><i>0.774</i><i>0.755</i><i>0.767</i><i>0.788</i><i>0.826</i><i>0.828</i><i>0.831</i><i>0.932</i><i>1.023</i><i>0.818</i><i>0.878</i><i>0.861</i><i>0.911</i><i>0.949</i><i>0.905</i><i>0.941</i><i>0.917</i><i>0.970</i><i>0.999</i><i>0.891</i><i>1.130</i><i>1.609</i><i>0.867</i><i>0.840</i><i>0.883</i><i>1.269</i><i>0.929</i><i>0.917</i><i>0.871</i><i>1.145</i><i>0.885</i><i>0.920</i><i>0.868</i><i>1.005</i><i>1.013</i><i>1.087</i><i>1.085</i><i>1.039</i><i>0.928</i><i>1.173</i><i>1.000</i><i>1.036</i><i>0.989</i></div>
<div class="r" style="top:137.56px;height:8.68px;line-height:11.08px"><u>3.080</u><u>0.918</u><u>1.039</u><u>1.909</u><u>0.364</u><u>0.444</u><u>0.246</u><u>0.000</u><u>0.301</u><u>0.372</u><u>0.521</u><u>0.663</u><u>0.534</u><u>0.761</u><u>0.719</u><u>0.656</u><u>0.925</u><u>0.428</u><u>1.101</u><u>0.898</u><u>0.813</u><u>0.635</u><i>2.678</i><i>1.619</i><i>0.989</i><i>2.888</i><i>0.581</i><i>1.168</i><i>0.648</i><i>0.707</i><i>0.866</i><i>0.756</i><i>0.708</i><i>0.824</i><i>0.739</i><i>0.825</i><i>0.765</i><i>0.820</i><i>0.832</i><i>0.790</i><i>0.835</i><i>0.849</i><i>0.879</i><i>0.878</i><i>0.868</i><i>0.959</i><i>0.962</i><i>0.966</i><i>1.061</i><i>1.144</i><i>0.956</i><i>1.012</i><i>0.998</i><i>1.045</i><i>1.081</i><i>1.041</i><i>1.075</i><i>0.845</i><i>1.103</i><i>1.131</i><i>0.889</i><i>0.942</i><i>1.640</i><i>0.929</i><i>0.983</i><i>0.924</i><i>1.095</i><i>0.889</i><i>0.905</i><i>0.955</i><i>0.959</i><i>0.950</i><i>0.920</i><i>0.976</i><i>1.144</i><i>0.838</i><i>0.898</i><i>0.895</i><i>0.848</i><i>0.939</i><i>0.990</i><i>0.873</i><i>0.845</i><i>0.891</i></div>
<div class="r" style="top:146.24px;height:8.68px;line-height:11.08px"><u>5.401</u><u>0.847</u><u>0.881</u><u>2.428</u><u>0.480</u><u>0.276</u><u>0.211</u><u>0.301</u><u>0.000</u><u>0.072</u><u>0.230</u><u>0.388</u><u>0.238</u><u>0.493</u><u>0.439</u><u>0.366</u><u>0.675</u><u>0.605</u><u>0.890</u><u>0.633</u><u>0.534</u><u>0.807</u><i>4.374</i><i>1.625</i><i>0.730</i><i>5.114</i><i>0.769</i><i>0.942</i><i>0.835</i><i>0.709</i><i>0.590</i><i>0.703</i><i>0.770</i><i>0.673</i><i>0.776</i><i>0.707</i><i>0.784</i><i>0.744</i><i>0.747</i><i>0.803</i><i>0.771</i><i>0.771</i><i>0.753</i><i>0.765</i><i>0.788</i><i>0.705</i><i>0.713</i><i>0.719</i><i>0.802</i><i>0.895</i><i>0.759</i><i>0.749</i><i>0.734</i><i>0.785</i><i>0.824</i><i>0.780</i><i>0.817</i><i>0.927</i><i>0.848</i><i>0.879</i><i>0.905</i><i>1.137</i><i>1.529</i><i>0.883</i><i>0.834</i><i>0.900</i><i>1.273</i><i>0.946</i><i>0.936</i><i>0.891</i><i>1.158</i><i>0.906</i><i>0.940</i><i>0.890</i><i>0.893</i><i>1.034</i><i>1.106</i><i>1.104</i><i>1.060</i><i>0.952</i><i>1.191</i><i>1.024</i><i>1.059</i><i>1.015</i></div>
<div class="r" style="top:154.92px;height:8.68px;line-height:11.08px"><u>5.705</u><u>0.883</u><u>0.905</u><u>2.512</u><u>0.543</u><u>0.318</u><u>0.281</u><u>0.372</u><u>0.072</u><u>0.000</u><u>0.159</u><u>0.318</u><u>0.168</u><u>0.424</u><u>0.371</u><u>0.299</u><u>0.610</u><u>0.565</u><u>0.829</u><u>0.570</u><u>0.471</u><u>0.770</u><i>4.522</i><i>1.583</i><i>0.672</i><i>5.348</i><i>0.737</i><i>0.889</i><i>0.805</i><i>0.681</i><i>0.541</i><i>0.676</i><i>0.744</i><i>0.647</i><i>0.751</i><i>0.683</i><i>0.760</i><i>0.721</i><i>0.725</i><i>0.781</i><i>0.750</i><i>0.750</i><i>0.733</i><i>0.746</i><i>0.769</i><i>0.686</i><i>0.695</i><i>0.702</i><i>0.759</i><i>0.853</i><i>0.743</i><i>0.707</i><i>0.718</i><i>0.744</i><i>0.784</i><i>0.740</i><i>0.778</i><i>0.913</i><i>0.809</i><i>0.840</i><i>0.892</i><i>1.123</i><i>1.499</i><i>0.872</i><i>0.823</i><i>0.889</i><i>1.259</i><i>0.936</i><i>0.925</i><i>0.881</i><i>1.147</i><i>0.896</i><i>0.931</i><i>0.880</i><i>0.859</i><i>1.024</i><i>1.097</i><i>1.095</i><i>1.052</i><i>0.944</i><i>1.181</i><i>1.016</i><i>1.051</i><i>1.007</i></div>
<div class="r" style="top:163.6px;height:8.98px;line-height:11.38px"><u>10.861</u><u>1.006</u><u>0.834</u><u>2.964</u><u>0.689</u><u>0.408</u><u>0.436</u><u>0.521</u><u>0.230</u><u>0.159</u><u>0.000</u><u>0.162</u><u>0.172</u><u>0.270</u><u>0.215</u><u>0.258</u><u>0.463</u><u>0.614</u><u>0.696</u><u>0.419</u><u>0.348</u><u>0.813</u><i>7.471</i><i>1.577</i><i>0.525</i><i>10.352</i><i>0.793</i><i>0.754</i><i>0.859</i><i>0.744</i><i>0.609</i><i>0.742</i><i>0.808</i><i>0.716</i><i>0.817</i><i>0.752</i><i>0.827</i><i>0.791</i><i>0.795</i><i>0.850</i><i>0.821</i><i>0.822</i><i>0.806</i><i>0.819</i><i>0.842</i><i>0.762</i><i>0.771</i><i>0.778</i><i>0.687</i><i>0.719</i><i>0.820</i><i>0.771</i><i>0.796</i><i>0.755</i><i>0.725</i><i>0.778</i><i>0.749</i><i>0.988</i><i>0.735</i><i>0.712</i><i>0.969</i><i>1.186</i><i>1.424</i><i>0.951</i><i>0.904</i><i>0.969</i><i>1.311</i><i>1.014</i><i>1.005</i><i>0.962</i><i>1.213</i><i>0.978</i><i>1.012</i><i>0.963</i><i>0.793</i><i>1.101</i><i>1.169</i><i>1.168</i><i>1.128</i><i>1.027</i><i>1.249</i><i>1.096</i><i>1.129</i><i>1.088</i></div>
<div class="r" style="top:172.58px;height:8.98px;line-height:11.38px"><u>68.439</u><u>1.129</u><u>0.746</u><u>3.768</u><u>0.831</u><u>0.562</u><u>0.588</u><u>0.663</u><u>0.388</u><u>0.318</u><u>0.162</u><u>0.000</u><u>0.237</u><u>0.109</u><u>0.187</u><u>0.325</u><u>0.306</u><u>0.665</u><u>0.552</u><u>0.272</u><u>0.419</u><u>0.856</u><i>37.146</i><i>1.588</i><i>0.372</i><i>73.989</i><i>0.850</i><i>0.607</i><i>0.915</i><i>0.810</i><i>0.684</i><i>0.811</i><i>0.874</i><i>0.789</i><i>0.885</i><i>0.825</i><i>0.897</i><i>0.864</i><i>0.869</i><i>0.922</i><i>0.896</i><i>0.897</i><i>0.883</i><i>0.897</i><i>0.919</i><i>0.844</i><i>0.853</i><i>0.861</i><i>0.773</i><i>0.690</i><i>0.903</i><i>0.856</i><i>0.881</i><i>0.841</i><i>0.812</i><i>0.864</i><i>0.837</i><i>1.065</i><i>0.824</i><i>0.801</i><i>1.049</i><i>1.247</i><i>1.337</i><i>1.034</i><i>0.990</i><i>1.051</i><i>1.361</i><i>1.094</i><i>1.086</i><i>1.046</i><i>1.276</i><i>1.062</i><i>1.094</i><i>1.049</i><i>0.886</i><i>1.178</i><i>1.240</i><i>1.240</i><i>1.204</i><i>1.111</i><i>1.313</i><i>1.176</i><i>1.206</i><i>1.169</i></div>
<div class="r" style="top:181.56px;height:8.98px;line-height:11.38px"><u>6.417</u><u>0.954</u><u>0.959</u><u>2.694</u><u>0.683</u><u>0.419</u><u>0.439</u><u>0.534</u><u>0.238</u><u>0.168</u><u>0.172</u><u>0.237</u><u>0.000</u><u>0.258</u><u>0.206</u><u>0.134</u><u>0.450</u><u>0.453</u><u>0.676</u><u>0.414</u><u>0.317</u><u>0.664</u><i>4.844</i><i>1.467</i><i>0.526</i><i>5.886</i><i>0.643</i><i>0.751</i><i>0.714</i><i>0.594</i><i>0.456</i><i>0.593</i><i>0.662</i><i>0.567</i><i>0.673</i><i>0.606</i><i>0.685</i><i>0.648</i><i>0.653</i><i>0.710</i><i>0.681</i><i>0.682</i><i>0.666</i><i>0.681</i><i>0.705</i><i>0.624</i><i>0.634</i><i>0.642</i><i>0.649</i><i>0.745</i><i>0.686</i><i>0.637</i><i>0.663</i><i>0.640</i><i>0.681</i><i>0.646</i><i>0.676</i><i>0.863</i><i>0.710</i><i>0.742</i><i>0.844</i><i>1.073</i><i>1.417</i><i>0.826</i><i>0.779</i><i>0.846</i><i>1.210</i><i>0.893</i><i>0.883</i><i>0.840</i><i>1.104</i><i>0.857</i><i>0.892</i><i>0.843</i><i>0.771</i><i>0.987</i><i>1.059</i><i>1.057</i><i>1.015</i><i>0.910</i><i>1.144</i><i>0.982</i><i>1.017</i><i>0.974</i></div>
<div class="r" style="top:190.54px;height:8.98px;line-height:11.38px"><u>25.643</u><u>1.176</u><u>0.762</u><u>4.078</u><u>0.916</u><u>0.656</u><u>0.685</u><u>0.761</u><u>0.493</u><u>0.424</u><u>0.270</u><u>0.109</u><u>0.258</u><u>0.000</u><u>0.129</u><u>0.267</u><u>0.199</u><u>0.604</u><u>0.449</u><u>0.219</u><u>0.366</u><u>0.797</u><i>626.348</i><i>1.527</i><i>0.324</i><i>25.864</i><i>0.799</i><i>0.511</i><i>0.864</i><i>0.763</i><i>0.640</i><i>0.767</i><i>0.829</i><i>0.747</i><i>0.843</i><i>0.785</i><i>0.857</i><i>0.825</i><i>0.831</i><i>0.884</i><i>0.859</i><i>0.862</i><i>0.849</i><i>0.863</i><i>0.886</i><i>0.812</i><i>0.822</i><i>0.831</i><i>0.745</i><i>0.663</i><i>0.874</i><i>0.829</i><i>0.854</i><i>0.816</i><i>0.788</i><i>0.840</i><i>0.813</i><i>1.038</i><i>0.802</i><i>0.780</i><i>1.025</i><i>1.219</i><i>1.277</i><i>1.011</i><i>0.969</i><i>1.030</i><i>1.332</i><i>1.073</i><i>1.065</i><i>1.027</i><i>1.252</i><i>1.043</i><i>1.075</i><i>1.032</i><i>0.871</i><i>1.159</i><i>1.220</i><i>1.220</i><i>1.186</i><i>1.095</i><i>1.293</i><i>1.159</i><i>1.190</i><i>1.153</i></div>
<div class="r" style="top:199.52px;height:8.98px;line-height:11.38px"><u>20.101</u><u>1.100</u><u>0.870</u><u>3.337</u><u>0.861</u><u>0.595</u><u>0.631</u><u>0.719</u><u>0.439</u><u>0.371</u><u>0.215</u><u>0.187</u><u>0.206</u><u>0.129</u><u>0.000</u><u>0.140</u><u>0.253</u><u>0.492</u><u>0.495</u><u>0.213</u><u>0.239</u><u>0.695</u><i>10.892</i><i>1.446</i><i>0.329</i><i>19.082</i><i>0.690</i><i>0.567</i><i>0.759</i><i>0.650</i><i>0.519</i><i>0.652</i><i>0.719</i><i>0.631</i><i>0.732</i><i>0.670</i><i>0.746</i><i>0.713</i><i>0.719</i><i>0.774</i><i>0.748</i><i>0.750</i><i>0.736</i><i>0.751</i><i>0.775</i><i>0.698</i><i>0.708</i><i>0.717</i><i>0.628</i><i>0.566</i><i>0.763</i><i>0.715</i><i>0.742</i><i>0.702</i><i>0.673</i><i>0.727</i><i>0.700</i><i>0.936</i><i>0.688</i><i>0.666</i><i>0.921</i><i>1.131</i><i>1.308</i><i>0.906</i><i>0.862</i><i>0.926</i><i>1.256</i><i>0.972</i><i>0.963</i><i>0.923</i><i>1.166</i><i>0.940</i><i>0.974</i><i>0.928</i><i>0.761</i><i>1.064</i><i>1.130</i><i>1.130</i><i>1.092</i><i>0.994</i><i>1.209</i><i>1.063</i><i>1.096</i><i>1.057</i></div>
<div class="r" style="top:208.5px;height:8.62px;line-height:11.02px"><u>7.251</u><u>1.006</u><u>0.988</u><u>2.843</u><u>0.785</u><u>0.516</u><u>0.557</u><u>0.656</u><u>0.366</u><u>0.299</u><u>0.258</u><u>0.325</u><u>0.134</u><u>0.267</u><u>0.140</u><u>0.000</u><u>0.318</u><u>0.365</u><u>0.549</u><u>0.284</u><u>0.187</u><u>0.578</u><i>5.253</i><i>1.372</i><i>0.401</i><i>6.579</i><i>0.565</i><i>0.632</i><i>0.637</i><i>0.520</i><i>0.384</i><i>0.522</i><i>0.591</i><i>0.499</i><i>0.605</i><i>0.540</i><i>0.619</i><i>0.583</i><i>0.590</i><i>0.648</i><i>0.620</i><i>0.622</i><i>0.607</i><i>0.623</i><i>0.648</i><i>0.568</i><i>0.579</i><i>0.588</i><i>0.550</i><i>0.647</i><i>0.635</i><i>0.587</i><i>0.614</i><i>0.573</i><i>0.586</i><i>0.599</i><i>0.583</i><i>0.816</i><i>0.618</i><i>0.651</i><i>0.800</i><i>1.027</i><i>1.341</i><i>0.785</i><i>0.738</i><i>0.805</i><i>1.164</i><i>0.853</i><i>0.844</i><i>0.802</i><i>1.063</i><i>0.820</i><i>0.855</i><i>0.807</i><i>0.690</i><i>0.951</i><i>1.022</i><i>1.022</i><i>0.981</i><i>0.877</i><i>1.109</i><i>0.950</i><i>0.985</i><i>0.943</i></div>
<div class="r" style="top:217.12px;height:8.62px;line-height:11.02px"><u>8.266</u><u>1.284</u><u>0.845</u><u>5.697</u><u>1.065</u><u>0.825</u><u>0.855</u><u>0.925</u><u>0.675</u><u>0.610</u><u>0.463</u><u>0.306</u><u>0.450</u><u>0.199</u><u>0.253</u><u>0.318</u><u>0.000</u><u>0.572</u><u>0.256</u><u>0.212</u><u>0.357</u><u>0.759</u><i>10.792</i><i>1.490</i><i>0.322</i><i>7.668</i><i>0.775</i><i>0.323</i><i>0.840</i><i>0.750</i><i>0.637</i><i>0.757</i><i>0.817</i><i>0.743</i><i>0.834</i><i>0.782</i><i>0.850</i><i>0.823</i><i>0.830</i><i>0.881</i><i>0.860</i><i>0.864</i><i>0.853</i><i>0.867</i><i>0.890</i><i>0.823</i><i>0.834</i><i>0.843</i><i>0.762</i><i>0.684</i><i>0.888</i><i>0.846</i><i>0.871</i><i>0.836</i><i>0.810</i><i>0.861</i><i>0.836</i><i>1.048</i><i>0.827</i><i>0.807</i><i>1.039</i><i>1.216</i><i>1.151</i><i>1.029</i><i>0.991</i><i>1.048</i><i>1.321</i><i>1.090</i><i>1.084</i><i>1.049</i><i>1.255</i><i>1.066</i><i>1.096</i><i>1.057</i><i>0.906</i><i>1.176</i><i>1.232</i><i>1.232</i><i>1.202</i><i>1.120</i><i>1.300</i><i>1.180</i><i>1.209</i><i>1.176</i></div>
<div class="r" style="top:225.74px;height:8.62px;line-height:11.02px"><u>3.170</u><u>1.068</u><u>1.282</u><u>2.195</u><u>0.722</u><u>0.833</u><u>0.659</u><u>0.428</u><u>0.605</u><u>0.565</u><u>0.614</u><u>0.665</u><u>0.453</u><u>0.604</u><u>0.492</u><u>0.365</u><u>0.572</u><u>0.000</u><u>0.696</u><u>0.501</u><u>0.423</u><u>0.229</u><i>2.248</i><i>1.233</i><i>0.620</i><i>2.466</i><i>0.216</i><i>0.815</i><i>0.281</i><i>0.368</i><i>0.532</i><i>0.427</i><i>0.384</i><i>0.505</i><i>0.425</i><i>0.516</i><i>0.460</i><i>0.520</i><i>0.536</i><i>0.498</i><i>0.548</i><i>0.565</i><i>0.599</i><i>0.603</i><i>0.596</i><i>0.691</i><i>0.697</i><i>0.705</i><i>0.803</i><i>0.889</i><i>0.705</i><i>0.765</i><i>0.753</i><i>0.804</i><i>0.842</i><i>0.805</i><i>0.842</i><i>0.616</i><i>0.875</i><i>0.906</i><i>0.668</i><i>0.700</i><i>1.415</i><i>0.715</i><i>0.772</i><i>0.715</i><i>0.867</i><i>0.684</i><i>0.703</i><i>0.755</i><i>0.739</i><i>0.755</i><i>0.727</i><i>0.784</i><i>0.953</i><i>0.651</i><i>0.690</i><i>0.689</i><i>0.643</i><i>0.759</i><i>0.789</i><i>0.697</i><i>0.666</i><i>0.718</i></div>
<div class="r" style="top:234.36px;height:8.62px;line-height:11.02px"><u>3.981</u><u>1.450</u><u>1.061</u><u>423.937</u><u>1.243</u><u>1.036</u><u>1.054</u><u>1.101</u><u>0.890</u><u>0.829</u><u>0.696</u><u>0.552</u><u>0.676</u><u>0.449</u><u>0.495</u><u>0.549</u><u>0.256</u><u>0.696</u><u>0.000</u><u>0.343</u><u>0.475</u><u>0.808</u><i>3.597</i><i>1.623</i><i>0.454</i><i>3.259</i><i>0.846</i><i>0.332</i><i>0.905</i><i>0.837</i><i>0.747</i><i>0.850</i><i>0.902</i><i>0.844</i><i>0.921</i><i>0.882</i><i>0.940</i><i>0.921</i><i>0.930</i><i>0.973</i><i>0.958</i><i>0.964</i><i>0.957</i><i>0.971</i><i>0.992</i><i>0.938</i><i>0.949</i><i>0.959</i><i>0.891</i><i>0.824</i><i>1.001</i><i>0.968</i><i>0.990</i><i>0.962</i><i>0.941</i><i>0.986</i><i>0.966</i><i>1.144</i><i>0.961</i><i>0.944</i><i>1.141</i><i>1.281</i><i>0.959</i><i>1.137</i><i>1.107</i><i>1.155</i><i>1.368</i><i>1.192</i><i>1.188</i><i>1.161</i><i>1.325</i><i>1.177</i><i>1.203</i><i>1.171</i><i>1.045</i><i>1.269</i><i>1.314</i><i>1.316</i><i>1.293</i><i>1.229</i><i>1.371</i><i>1.279</i><i>1.303</i><i>1.278</i></div>
<div class="r" style="top:242.98px;height:8.62px;line-height:11.02px"><u>108.277</u><u>1.190</u><u>0.869</u><u>3.874</u><u>1.012</u><u>0.765</u><u>0.808</u><u>0.898</u><u>0.633</u><u>0.570</u><u>0.419</u><u>0.272</u><u>0.414</u><u>0.219</u><u>0.213</u><u>0.284</u><u>0.212</u><u>0.501</u><u>0.343</u><u>0.000</u><u>0.149</u><u>0.590</u><i>30.711</i><i>1.328</i><i>0.121</i><i>123.470</i><i>0.596</i><i>0.365</i><i>0.666</i><i>0.564</i><i>0.439</i><i>0.570</i><i>0.636</i><i>0.553</i><i>0.652</i><i>0.595</i><i>0.670</i><i>0.639</i><i>0.647</i><i>0.702</i><i>0.678</i><i>0.682</i><i>0.670</i><i>0.686</i><i>0.711</i><i>0.638</i><i>0.649</i><i>0.659</i><i>0.573</i><i>0.492</i><i>0.707</i><i>0.663</i><i>0.690</i><i>0.652</i><i>0.625</i><i>0.679</i><i>0.654</i><i>0.884</i><i>0.644</i><i>0.623</i><i>0.873</i><i>1.074</i><i>1.173</i><i>0.863</i><i>0.820</i><i>0.883</i><i>1.196</i><i>0.930</i><i>0.923</i><i>0.885</i><i>1.117</i><i>0.903</i><i>0.937</i><i>0.893</i><i>0.731</i><i>1.025</i><i>1.089</i><i>1.090</i><i>1.055</i><i>0.963</i><i>1.168</i><i>1.030</i><i>1.062</i><i>1.026</i></div>
<div class="r" style="top:251.6px;height:9.08px;line-height:11.48px"><u>9.686</u><u>1.078</u><u>0.999</u><u>3.096</u><u>0.914</u><u>0.660</u><u>0.710</u><u>0.813</u><u>0.534</u><u>0.471</u><u>0.348</u><u>0.419</u><u>0.317</u><u>0.366</u><u>0.239</u><u>0.187</u><u>0.357</u><u>0.423</u><u>0.475</u><u>0.149</u><u>0.000</u><u>0.471</u><i>6.496</i><i>1.247</i><i>0.219</i><i>8.802</i><i>0.466</i><i>0.456</i><i>0.540</i><i>0.427</i><i>0.294</i><i>0.432</i><i>0.501</i><i>0.412</i><i>0.517</i><i>0.455</i><i>0.534</i><i>0.501</i><i>0.508</i><i>0.567</i><i>0.541</i><i>0.545</i><i>0.531</i><i>0.548</i><i>0.574</i><i>0.496</i><i>0.508</i><i>0.518</i><i>0.430</i><i>0.493</i><i>0.568</i><i>0.521</i><i>0.549</i><i>0.510</i><i>0.482</i><i>0.538</i><i>0.512</i><i>0.754</i><i>0.502</i><i>0.507</i><i>0.741</i><i>0.963</i><i>1.221</i><i>0.729</i><i>0.685</i><i>0.751</i><i>1.100</i><i>0.801</i><i>0.793</i><i>0.752</i><i>1.007</i><i>0.771</i><i>0.807</i><i>0.760</i><i>0.591</i><i>0.903</i><i>0.973</i><i>0.973</i><i>0.934</i><i>0.834</i><i>1.060</i><i>0.906</i><i>0.941</i><i>0.901</i></div>
<div class="r" style="top:260.68px;height:9.08px;line-height:11.48px"><u>2.784</u><u>1.205</u><u>1.407</u><u>2.116</u><u>0.904</u><u>1.013</u><u>0.854</u><u>0.635</u><u>0.807</u><u>0.770</u><u>0.813</u><u>0.856</u><u>0.664</u><u>0.797</u><u>0.695</u><u>0.578</u><u>0.759</u><u>0.229</u><u>0.808</u><u>0.590</u><u>0.471</u><u>0.000</u><i>1.800</i><i>1.110</i><i>0.610</i><i>1.958</i><i>0.237</i><i>0.788</i><i>0.231</i><i>0.389</i><i>0.544</i><i>0.448</i><i>0.408</i><i>0.525</i><i>0.450</i><i>0.538</i><i>0.486</i><i>0.544</i><i>0.561</i><i>0.527</i><i>0.575</i><i>0.593</i><i>0.627</i><i>0.631</i><i>0.626</i><i>0.716</i><i>0.724</i><i>0.732</i><i>0.824</i><i>0.903</i><i>0.736</i><i>0.793</i><i>0.783</i><i>0.831</i><i>0.868</i><i>0.835</i><i>0.870</i><i>0.659</i><i>0.903</i><i>0.932</i><i>0.712</i><i>0.500</i><i>1.372</i><i>0.760</i><i>0.814</i><i>0.761</i><i>0.675</i><i>0.734</i><i>0.752</i><i>0.803</i><i>0.544</i><i>0.804</i><i>0.778</i><i>0.833</i><i>0.991</i><i>0.706</i><i>0.636</i><i>0.645</i><i>0.699</i><i>0.814</i><i>0.600</i><i>0.755</i><i>0.725</i><i>0.777</i></div>
<div class="r" style="top:269.76px;height:9.08px;line-height:11.48px"><i>0.955</i><i>4.040</i><i>38.463</i><i>1.048</i><i>3.272</i><i>5.322</i><i>3.715</i><i>2.678</i><i>4.374</i><i>4.522</i><i>7.471</i><i>37.146</i><i>4.844</i><i>626.348</i><i>10.892</i><i>5.253</i><i>10.792</i><i>2.248</i><i>3.597</i><i>30.711</i><i>6.496</i><i>1.800</i><i>0.000</i><i>0.822</i><i>35.947</i><i>0.105</i><i>2.227</i><i>6.355</i><i>2.122</i><i>2.744</i><i>4.221</i><i>2.956</i><i>2.634</i><i>3.388</i><i>2.731</i><i>3.276</i><i>2.814</i><i>3.137</i><i>3.186</i><i>2.873</i><i>3.138</i><i>3.203</i><i>3.411</i><i>3.368</i><i>3.248</i><i>4.159</i><i>4.134</i><i>4.130</i><i>6.173</i><i>12.347</i><i>3.856</i><i>4.622</i><i>4.316</i><i>5.146</i><i>6.061</i><i>4.898</i><i>5.649</i><i>2.875</i><i>6.354</i><i>7.478</i><i>3.081</i><i>2.220</i><i>2.083</i><i>3.300</i><i>3.734</i><i>3.239</i><i>2.011</i><i>3.010</i><i>3.091</i><i>3.410</i><i>2.286</i><i>3.350</i><i>3.145</i><i>3.517</i><i>6.377</i><i>2.740</i><i>2.498</i><i>2.516</i><i>2.676</i><i>3.205</i><i>2.312</i><i>2.861</i><i>2.729</i><i>2.931</i></div>
<div class="r" style="top:278.84px;height:9.08px;line-height:11.48px"><i>1.731</i><i>2.038</i><i>2.106</i><i>1.434</i><i>1.807</i><i>1.798</i><i>1.708</i><i>1.619</i><i>1.625</i><i>1.583</i><i>1.577</i><i>1.588</i><i>1.467</i><i>1.527</i><i>1.446</i><i>1.372</i><i>1.490</i><i>1.233</i><i>1.623</i><i>1.328</i><i>1.247</i><i>1.110</i><i>0.822</i><i>0.000</i><i>1.256</i><i>0.856</i><i>1.146</i><i>1.443</i><i>1.175</i><i>1.220</i><i>1.276</i><i>1.259</i><i>1.262</i><i>1.302</i><i>1.294</i><i>1.326</i><i>1.323</i><i>1.347</i><i>1.361</i><i>1.362</i><i>1.383</i><i>1.396</i><i>1.413</i><i>1.422</i><i>1.428</i><i>1.463</i><i>1.472</i><i>1.481</i><i>1.523</i><i>1.569</i><i>1.501</i><i>1.526</i><i>1.528</i><i>1.551</i><i>1.571</i><i>1.562</i><i>1.581</i><i>1.522</i><i>1.604</i><i>1.621</i><i>1.550</i><i>1.515</i><i>3.290</i><i>1.577</i><i>1.596</i><i>1.587</i><i>1.529</i><i>1.589</i><i>1.598</i><i>1.614</i><i>1.569</i><i>1.623</i><i>1.620</i><i>1.638</i><i>1.697</i><i>1.617</i><i>1.609</i><i>1.615</i><i>1.628</i><i>1.655</i><i>1.616</i><i>1.649</i><i>1.647</i><i>1.660</i></div>
<div class="r" style="top:287.92px;height:9.08px;line-height:11.48px"><i>71.824</i><i>1.215</i><i>0.901</i><i>3.968</i><i>1.078</i><i>0.842</i><i>0.893</i><i>0.989</i><i>0.730</i><i>0.672</i><i>0.525</i><i>0.372</i><i>0.526</i><i>0.324</i><i>0.329</i><i>0.401</i><i>0.322</i><i>0.620</i><i>0.454</i><i>0.121</i><i>0.219</i><i>0.610</i><i>35.947</i><i>1.256</i><i>0.000</i><i>77.547</i><i>0.484</i><i>0.246</i><i>0.555</i><i>0.454</i><i>0.331</i><i>0.462</i><i>0.528</i><i>0.446</i><i>0.546</i><i>0.489</i><i>0.565</i><i>0.535</i><i>0.543</i><i>0.600</i><i>0.577</i><i>0.581</i><i>0.570</i><i>0.587</i><i>0.612</i><i>0.540</i><i>0.553</i><i>0.563</i><i>0.479</i><i>0.398</i><i>0.614</i><i>0.570</i><i>0.598</i><i>0.561</i><i>0.535</i><i>0.590</i><i>0.565</i><i>0.795</i><i>0.557</i><i>0.537</i><i>0.787</i><i>0.987</i><i>1.081</i><i>0.779</i><i>0.737</i><i>0.801</i><i>1.113</i><i>0.848</i><i>0.842</i><i>0.805</i><i>1.037</i><i>0.824</i><i>0.859</i><i>0.816</i><i>0.654</i><i>0.949</i><i>1.013</i><i>1.014</i><i>0.980</i><i>0.889</i><i>1.093</i><i>0.957</i><i>0.990</i><i>0.954</i></div>
<div class="r" style="top:297px;height:8.92px;line-height:11.32px"><i>0.924</i><i>4.460</i><i>15.724</i><i>1.111</i><i>3.562</i><i>6.418</i><i>4.171</i><i>2.888</i><i>5.114</i><i>5.348</i><i>10.352</i><i>73.989</i><i>5.886</i><i>25.864</i><i>19.082</i><i>6.579</i><i>7.668</i><i>2.466</i><i>3.259</i><i>123.470</i><i>8.802</i><i>1.958</i><i>0.105</i><i>0.856</i><i>77.547</i><i>0.000</i><i>2.324</i><i>5.055</i><i>2.192</i><i>2.945</i><i>4.917</i><i>3.204</i><i>2.797</i><i>3.755</i><i>2.912</i><i>3.601</i><i>3.009</i><i>3.414</i><i>3.474</i><i>3.074</i><i>3.406</i><i>3.487</i><i>3.753</i><i>3.695</i><i>3.536</i><i>4.755</i><i>4.718</i><i>4.709</i><i>7.859</i><i>23.593</i><i>4.323</i><i>5.396</i><i>4.955</i><i>6.172</i><i>7.636</i><i>5.789</i><i>6.950</i><i>3.044</i><i>8.118</i><i>10.181</i><i>3.296</i><i>2.260</i><i>1.971</i><i>3.569</i><i>4.131</i><i>3.488</i><i>2.017</i><i>3.200</i><i>3.300</i><i>3.702</i><i>2.331</i><i>3.623</i><i>3.364</i><i>3.836</i><i>8.097</i><i>2.864</i><i>2.575</i><i>2.596</i><i>2.785</i><i>3.432</i><i>2.356</i><i>3.007</i><i>2.847</i><i>3.091</i></div>
<div class="r" style="top:305.92px;height:8.92px;line-height:11.32px"><i>3.235</i><i>1.098</i><i>1.344</i><i>2.296</i><i>0.830</i><i>0.959</i><i>0.799</i><i>0.581</i><i>0.769</i><i>0.737</i><i>0.793</i><i>0.850</i><i>0.643</i><i>0.799</i><i>0.690</i><i>0.565</i><i>0.775</i><i>0.216</i><i>0.846</i><i>0.596</i><i>0.466</i><i>0.237</i><i>2.227</i><i>1.146</i><i>0.484</i><i>2.324</i><i>0.000</i><i>0.602</i><i>0.080</i><i>0.155</i><i>0.321</i><i>0.217</i><i>0.175</i><i>0.298</i><i>0.218</i><i>0.311</i><i>0.256</i><i>0.317</i><i>0.335</i><i>0.299</i><i>0.350</i><i>0.369</i><i>0.404</i><i>0.409</i><i>0.404</i><i>0.500</i><i>0.508</i><i>0.517</i><i>0.617</i><i>0.705</i><i>0.522</i><i>0.583</i><i>0.573</i><i>0.625</i><i>0.665</i><i>0.629</i><i>0.668</i><i>0.442</i><i>0.704</i><i>0.735</i><i>0.498</i><i>0.545</i><i>1.253</i><i>0.550</i><i>0.607</i><i>0.552</i><i>0.718</i><i>0.523</i><i>0.543</i><i>0.597</i><i>0.595</i><i>0.598</i><i>0.571</i><i>0.630</i><i>0.801</i><i>0.499</i><i>0.552</i><i>0.553</i><i>0.508</i><i>0.611</i><i>0.656</i><i>0.551</i><i>0.521</i><i>0.574</i></div>
<div class="r" style="top:314.84px;height:8.92px;line-height:11.32px"><i>5.916</i><i>1.385</i><i>0.996</i><i>8.241</i><i>1.257</i><i>1.048</i><i>1.091</i><i>1.168</i><i>0.942</i><i>0.889</i><i>0.754</i><i>0.607</i><i>0.751</i><i>0.511</i><i>0.567</i><i>0.632</i><i>0.323</i><i>0.815</i><i>0.332</i><i>0.365</i><i>0.456</i><i>0.788</i><i>6.355</i><i>1.443</i><i>0.246</i><i>5.055</i><i>0.602</i><i>0.000</i><i>0.629</i><i>0.548</i><i>0.443</i><i>0.560</i><i>0.618</i><i>0.551</i><i>0.639</i><i>0.593</i><i>0.659</i><i>0.636</i><i>0.646</i><i>0.695</i><i>0.678</i><i>0.684</i><i>0.676</i><i>0.693</i><i>0.716</i><i>0.655</i><i>0.667</i><i>0.678</i><i>0.603</i><i>0.530</i><i>0.727</i><i>0.690</i><i>0.716</i><i>0.684</i><i>0.661</i><i>0.712</i><i>0.691</i><i>0.893</i><i>0.685</i><i>0.668</i><i>0.890</i><i>1.056</i><i>0.907</i><i>0.887</i><i>0.853</i><i>0.908</i><i>1.163</i><i>0.951</i><i>0.947</i><i>0.917</i><i>1.110</i><i>0.936</i><i>0.966</i><i>0.930</i><i>0.788</i><i>1.045</i><i>1.098</i><i>1.100</i><i>1.074</i><i>0.998</i><i>1.167</i><i>1.058</i><i>1.086</i><i>1.057</i></div>
<div class="r" style="top:323.76px;height:8.92px;line-height:11.32px"><i>3.071</i><i>1.145</i><i>1.386</i><i>2.259</i><i>0.889</i><i>1.017</i><i>0.863</i><i>0.648</i><i>0.835</i><i>0.805</i><i>0.859</i><i>0.915</i><i>0.714</i><i>0.864</i><i>0.759</i><i>0.637</i><i>0.840</i><i>0.281</i><i>0.905</i><i>0.666</i><i>0.540</i><i>0.231</i><i>2.122</i><i>1.175</i><i>0.555</i><i>2.192</i><i>0.080</i><i>0.629</i><i>0.000</i><i>0.161</i><i>0.324</i><i>0.222</i><i>0.181</i><i>0.302</i><i>0.224</i><i>0.316</i><i>0.262</i><i>0.323</i><i>0.341</i><i>0.305</i><i>0.356</i><i>0.375</i><i>0.411</i><i>0.416</i><i>0.411</i><i>0.506</i><i>0.514</i><i>0.523</i><i>0.621</i><i>0.707</i><i>0.529</i><i>0.589</i><i>0.580</i><i>0.631</i><i>0.671</i><i>0.636</i><i>0.674</i><i>0.452</i><i>0.709</i><i>0.741</i><i>0.509</i><i>0.471</i><i>1.234</i><i>0.560</i><i>0.617</i><i>0.563</i><i>0.647</i><i>0.536</i><i>0.555</i><i>0.609</i><i>0.522</i><i>0.611</i><i>0.584</i><i>0.643</i><i>0.810</i><i>0.513</i><i>0.481</i><i>0.481</i><i>0.507</i><i>0.626</i><i>0.586</i><i>0.566</i><i>0.536</i><i>0.589</i></div>
<div class="r" style="top:332.68px;height:8.92px;line-height:11.32px"><i>3.813</i><i>1.006</i><i>1.277</i><i>2.466</i><i>0.762</i><i>0.892</i><i>0.732</i><i>0.707</i><i>0.709</i><i>0.681</i><i>0.744</i><i>0.810</i><i>0.594</i><i>0.763</i><i>0.650</i><i>0.520</i><i>0.750</i><i>0.368</i><i>0.837</i><i>0.564</i><i>0.427</i><i>0.389</i><i>2.744</i><i>1.220</i><i>0.454</i><i>2.945</i><i>0.155</i><i>0.548</i><i>0.161</i><i>0.000</i><i>0.169</i><i>0.062</i><i>0.079</i><i>0.144</i><i>0.095</i><i>0.157</i><i>0.114</i><i>0.164</i><i>0.182</i><i>0.149</i><i>0.197</i><i>0.216</i><i>0.253</i><i>0.258</i><i>0.252</i><i>0.351</i><i>0.359</i><i>0.369</i><i>0.473</i><i>0.566</i><i>0.373</i><i>0.437</i><i>0.426</i><i>0.480</i><i>0.523</i><i>0.484</i><i>0.525</i><i>0.358</i><i>0.563</i><i>0.596</i><i>0.350</i><i>0.596</i><i>1.175</i><i>0.403</i><i>0.462</i><i>0.405</i><i>0.762</i><i>0.414</i><i>0.407</i><i>0.452</i><i>0.648</i><i>0.454</i><i>0.427</i><i>0.487</i><i>0.664</i><i>0.530</i><i>0.610</i><i>0.610</i><i>0.567</i><i>0.469</i><i>0.712</i><i>0.537</i><i>0.576</i><i>0.532</i></div>
<div class="r" style="top:341.6px;height:8.58px;line-height:10.98px"><i>5.788</i><i>1.016</i><i>1.146</i><i>2.823</i><i>0.921</i><i>0.749</i><i>0.745</i><i>0.866</i><i>0.590</i><i>0.541</i><i>0.609</i><i>0.684</i><i>0.456</i><i>0.640</i><i>0.519</i><i>0.384</i><i>0.637</i><i>0.532</i><i>0.747</i><i>0.439</i><i>0.294</i><i>0.544</i><i>4.221</i><i>1.276</i><i>0.331</i><i>4.917</i><i>0.321</i><i>0.443</i><i>0.324</i><i>0.169</i><i>0.000</i><i>0.140</i><i>0.213</i><i>0.121</i><i>0.230</i><i>0.166</i><i>0.249</i><i>0.215</i><i>0.223</i><i>0.285</i><i>0.258</i><i>0.263</i><i>0.250</i><i>0.268</i><i>0.295</i><i>0.217</i><i>0.230</i><i>0.242</i><i>0.308</i><i>0.406</i><i>0.296</i><i>0.269</i><i>0.279</i><i>0.314</i><i>0.357</i><i>0.318</i><i>0.359</i><i>0.494</i><i>0.398</i><i>0.433</i><i>0.484</i><i>0.719</i><i>1.101</i><i>0.474</i><i>0.429</i><i>0.499</i><i>0.872</i><i>0.552</i><i>0.544</i><i>0.503</i><i>0.773</i><i>0.525</i><i>0.563</i><i>0.515</i><i>0.501</i><i>0.665</i><i>0.740</i><i>0.741</i><i>0.701</i><i>0.596</i><i>0.836</i><i>0.674</i><i>0.711</i><i>0.670</i></div>
<div class="r" style="top:350.18px;height:8.58px;line-height:10.98px"><i>4.045</i><i>0.982</i><i>1.261</i><i>2.529</i><i>0.805</i><i>0.880</i><i>0.722</i><i>0.756</i><i>0.703</i><i>0.676</i><i>0.742</i><i>0.811</i><i>0.593</i><i>0.767</i><i>0.652</i><i>0.522</i><i>0.757</i><i>0.427</i><i>0.850</i><i>0.570</i><i>0.432</i><i>0.448</i><i>2.956</i><i>1.259</i><i>0.462</i><i>3.204</i><i>0.217</i><i>0.560</i><i>0.222</i><i>0.062</i><i>0.140</i><i>0.000</i><i>0.074</i><i>0.082</i><i>0.091</i><i>0.096</i><i>0.109</i><i>0.102</i><i>0.120</i><i>0.145</i><i>0.136</i><i>0.155</i><i>0.192</i><i>0.197</i><i>0.191</i><i>0.291</i><i>0.299</i><i>0.309</i><i>0.414</i><i>0.509</i><i>0.313</i><i>0.378</i><i>0.367</i><i>0.422</i><i>0.465</i><i>0.426</i><i>0.467</i><i>0.357</i><i>0.505</i><i>0.539</i><i>0.346</i><i>0.593</i><i>1.136</i><i>0.345</i><i>0.405</i><i>0.360</i><i>0.758</i><i>0.415</i><i>0.407</i><i>0.395</i><i>0.647</i><i>0.398</i><i>0.426</i><i>0.430</i><i>0.609</i><i>0.531</i><i>0.610</i><i>0.611</i><i>0.568</i><i>0.459</i><i>0.712</i><i>0.539</i><i>0.578</i><i>0.535</i></div>
<div class="r" style="top:358.76px;height:8.58px;line-height:10.98px"><i>3.621</i><i>1.041</i><i>1.313</i><i>2.433</i><i>0.803</i><i>0.944</i><i>0.788</i><i>0.708</i><i>0.770</i><i>0.744</i><i>0.808</i><i>0.874</i><i>0.662</i><i>0.829</i><i>0.719</i><i>0.591</i><i>0.817</i><i>0.384</i><i>0.902</i><i>0.636</i><i>0.501</i><i>0.408</i><i>2.634</i><i>1.262</i><i>0.528</i><i>2.797</i><i>0.175</i><i>0.618</i><i>0.181</i><i>0.079</i><i>0.213</i><i>0.074</i><i>0.000</i><i>0.124</i><i>0.044</i><i>0.138</i><i>0.082</i><i>0.144</i><i>0.162</i><i>0.126</i><i>0.178</i><i>0.198</i><i>0.234</i><i>0.239</i><i>0.234</i><i>0.333</i><i>0.341</i><i>0.350</i><i>0.454</i><i>0.546</i><i>0.356</i><i>0.419</i><i>0.409</i><i>0.463</i><i>0.505</i><i>0.468</i><i>0.508</i><i>0.284</i><i>0.546</i><i>0.579</i><i>0.336</i><i>0.524</i><i>1.141</i><i>0.389</i><i>0.448</i><i>0.392</i><i>0.694</i><i>0.364</i><i>0.385</i><i>0.439</i><i>0.578</i><i>0.442</i><i>0.415</i><i>0.475</i><i>0.651</i><i>0.460</i><i>0.541</i><i>0.541</i><i>0.498</i><i>0.459</i><i>0.644</i><i>0.468</i><i>0.508</i><i>0.464</i></div>
<div class="r" style="top:367.34px;height:8.58px;line-height:10.98px"><i>4.573</i><i>0.948</i><i>1.223</i><i>2.645</i><i>0.868</i><i>0.845</i><i>0.697</i><i>0.824</i><i>0.673</i><i>0.647</i><i>0.716</i><i>0.789</i><i>0.567</i><i>0.747</i><i>0.631</i><i>0.499</i><i>0.743</i><i>0.505</i><i>0.844</i><i>0.553</i><i>0.412</i><i>0.525</i><i>3.388</i><i>1.302</i><i>0.446</i><i>3.755</i><i>0.298</i><i>0.551</i><i>0.302</i><i>0.144</i><i>0.121</i><i>0.082</i><i>0.124</i><i>0.000</i><i>0.110</i><i>0.045</i><i>0.129</i><i>0.094</i><i>0.103</i><i>0.165</i><i>0.138</i><i>0.143</i><i>0.130</i><i>0.148</i><i>0.176</i><i>0.210</i><i>0.218</i><i>0.228</i><i>0.335</i><i>0.431</i><i>0.233</i><i>0.297</i><i>0.287</i><i>0.342</i><i>0.386</i><i>0.347</i><i>0.388</i><i>0.379</i><i>0.427</i><i>0.462</i><i>0.368</i><i>0.612</i><i>1.088</i><i>0.359</i><i>0.326</i><i>0.384</i><i>0.773</i><i>0.438</i><i>0.431</i><i>0.389</i><i>0.667</i><i>0.411</i><i>0.450</i><i>0.402</i><i>0.534</i><i>0.555</i><i>0.633</i><i>0.634</i><i>0.592</i><i>0.485</i><i>0.733</i><i>0.564</i><i>0.603</i><i>0.560</i></div>
<div class="r" style="top:375.92px;height:8.58px;line-height:10.98px"><i>3.710</i><i>1.032</i><i>1.308</i><i>2.464</i><i>0.801</i><i>0.945</i><i>0.791</i><i>0.739</i><i>0.776</i><i>0.751</i><i>0.817</i><i>0.885</i><i>0.673</i><i>0.843</i><i>0.732</i><i>0.605</i><i>0.834</i><i>0.425</i><i>0.921</i><i>0.652</i><i>0.517</i><i>0.450</i><i>2.731</i><i>1.294</i><i>0.546</i><i>2.912</i><i>0.218</i><i>0.639</i><i>0.224</i><i>0.095</i><i>0.230</i><i>0.091</i><i>0.044</i><i>0.110</i><i>0.000</i><i>0.094</i><i>0.039</i><i>0.101</i><i>0.119</i><i>0.082</i><i>0.135</i><i>0.154</i><i>0.191</i><i>0.196</i><i>0.191</i><i>0.290</i><i>0.298</i><i>0.308</i><i>0.412</i><i>0.505</i><i>0.313</i><i>0.377</i><i>0.367</i><i>0.421</i><i>0.464</i><i>0.426</i><i>0.467</i><i>0.269</i><i>0.505</i><i>0.539</i><i>0.294</i><i>0.509</i><i>1.109</i><i>0.348</i><i>0.408</i><i>0.352</i><i>0.679</i><i>0.329</i><i>0.345</i><i>0.400</i><i>0.565</i><i>0.402</i><i>0.376</i><i>0.436</i><i>0.613</i><i>0.448</i><i>0.528</i><i>0.529</i><i>0.486</i><i>0.420</i><i>0.632</i><i>0.457</i><i>0.496</i><i>0.453</i></div>
<div class="r" style="top:384.5px;height:8.9px;line-height:11.3px"><i>4.391</i><i>0.954</i><i>1.243</i><i>2.618</i><i>0.863</i><i>0.874</i><i>0.718</i><i>0.825</i><i>0.707</i><i>0.683</i><i>0.752</i><i>0.825</i><i>0.606</i><i>0.785</i><i>0.670</i><i>0.540</i><i>0.782</i><i>0.516</i><i>0.882</i><i>0.595</i><i>0.455</i><i>0.538</i><i>3.276</i><i>1.326</i><i>0.489</i><i>3.601</i><i>0.311</i><i>0.593</i><i>0.316</i><i>0.157</i><i>0.166</i><i>0.096</i><i>0.138</i><i>0.045</i><i>0.094</i><i>0.000</i><i>0.084</i><i>0.049</i><i>0.057</i><i>0.120</i><i>0.093</i><i>0.098</i><i>0.097</i><i>0.103</i><i>0.131</i><i>0.197</i><i>0.205</i><i>0.215</i><i>0.322</i><i>0.418</i><i>0.220</i><i>0.285</i><i>0.274</i><i>0.330</i><i>0.374</i><i>0.335</i><i>0.376</i><i>0.335</i><i>0.415</i><i>0.450</i><i>0.325</i><i>0.570</i><i>1.068</i><i>0.316</i><i>0.315</i><i>0.341</i><i>0.733</i><i>0.396</i><i>0.389</i><i>0.347</i><i>0.626</i><i>0.369</i><i>0.408</i><i>0.360</i><i>0.524</i><i>0.514</i><i>0.593</i><i>0.594</i><i>0.552</i><i>0.444</i><i>0.694</i><i>0.524</i><i>0.563</i><i>0.520</i></div>
<div class="r" style="top:393.4px;height:8.7px;line-height:11.1px"><i>3.783</i><i>1.025</i><i>1.306</i><i>2.489</i><i>0.801</i><i>0.948</i><i>0.795</i><i>0.765</i><i>0.784</i><i>0.760</i><i>0.827</i><i>0.897</i><i>0.685</i><i>0.857</i><i>0.746</i><i>0.619</i><i>0.850</i><i>0.460</i><i>0.940</i><i>0.670</i><i>0.534</i><i>0.486</i><i>2.814</i><i>1.323</i><i>0.565</i><i>3.009</i><i>0.256</i><i>0.659</i><i>0.262</i><i>0.114</i><i>0.249</i><i>0.109</i><i>0.082</i><i>0.129</i><i>0.039</i><i>0.084</i><i>0.000</i><i>0.062</i><i>0.080</i><i>0.044</i><i>0.096</i><i>0.116</i><i>0.152</i><i>0.158</i><i>0.153</i><i>0.252</i><i>0.260</i><i>0.270</i><i>0.375</i><i>0.468</i><i>0.276</i><i>0.340</i><i>0.330</i><i>0.384</i><i>0.427</i><i>0.389</i><i>0.430</i><i>0.253</i><i>0.469</i><i>0.503</i><i>0.258</i><i>0.492</i><i>1.079</i><i>0.312</i><i>0.372</i><i>0.315</i><i>0.662</i><i>0.314</i><i>0.309</i><i>0.364</i><i>0.549</i><i>0.367</i><i>0.340</i><i>0.401</i><i>0.578</i><i>0.433</i><i>0.513</i><i>0.514</i><i>0.471</i><i>0.386</i><i>0.617</i><i>0.443</i><i>0.482</i><i>0.439</i></div>
<div class="r" style="top:402.1px;height:9.7px;line-height:12.1px"><i>4.179</i><i>0.978</i><i>1.267</i><i>2.582</i><i>0.852</i><i>0.906</i><i>0.753</i><i>0.820</i><i>0.744</i><i>0.721</i><i>0.791</i><i>0.864</i><i>0.648</i><i>0.825</i><i>0.713</i><i>0.583</i><i>0.823</i><i>0.520</i><i>0.921</i><i>0.639</i><i>0.501</i><i>0.544</i><i>3.137</i><i>1.347</i><i>0.535</i><i>3.414</i><i>0.317</i><i>0.636</i><i>0.323</i><i>0.164</i><i>0.215</i><i>0.102</i><i>0.144</i><i>0.094</i><i>0.101</i><i>0.049</i><i>0.062</i><i>0.000</i><i>0.018</i><i>0.071</i><i>0.044</i><i>0.054</i><i>0.090</i><i>0.096</i><i>0.091</i><i>0.191</i><i>0.199</i><i>0.209</i><i>0.315</i><i>0.411</i><i>0.214</i><i>0.279</i><i>0.269</i><i>0.324</i><i>0.367</i><i>0.329</i><i>0.370</i><i>0.288</i><i>0.410</i><i>0.444</i><i>0.278</i><i>0.525</i><i>1.050</i><i>0.269</i><i>0.311</i><i>0.295</i><i>0.690</i><i>0.349</i><i>0.342</i><i>0.303</i><i>0.582</i><i>0.323</i><i>0.362</i><i>0.340</i><i>0.520</i><i>0.469</i><i>0.548</i><i>0.549</i><i>0.507</i><i>0.399</i><i>0.651</i><i>0.479</i><i>0.518</i><i>0.476</i></div>
<div class="r" style="top:411.8px;height:9.7px;line-height:12.1px"><i>4.228</i><i>0.974</i><i>1.266</i><i>2.596</i><i>0.862</i><i>0.907</i><i>0.755</i><i>0.832</i><i>0.747</i><i>0.725</i><i>0.795</i><i>0.869</i><i>0.653</i><i>0.831</i><i>0.719</i><i>0.590</i><i>0.830</i><i>0.536</i><i>0.930</i><i>0.647</i><i>0.508</i><i>0.561</i><i>3.186</i><i>1.361</i><i>0.543</i><i>3.474</i><i>0.335</i><i>0.646</i><i>0.341</i><i>0.182</i><i>0.223</i><i>0.120</i><i>0.162</i><i>0.103</i><i>0.119</i><i>0.057</i><i>0.080</i><i>0.018</i><i>0.000</i><i>0.062</i><i>0.036</i><i>0.040</i><i>0.072</i><i>0.078</i><i>0.074</i><i>0.173</i><i>0.181</i><i>0.191</i><i>0.297</i><i>0.393</i><i>0.196</i><i>0.261</i><i>0.251</i><i>0.306</i><i>0.350</i><i>0.311</i><i>0.353</i><i>0.280</i><i>0.392</i><i>0.427</i><i>0.270</i><i>0.517</i><i>1.035</i><i>0.262</i><i>0.293</i><i>0.287</i><i>0.682</i><i>0.342</i><i>0.335</i><i>0.293</i><i>0.574</i><i>0.316</i><i>0.355</i><i>0.323</i><i>0.503</i><i>0.462</i><i>0.541</i><i>0.542</i><i>0.500</i><i>0.392</i><i>0.644</i><i>0.473</i><i>0.512</i><i>0.469</i></div>
<div class="r" style="top:421.5px;height:10.9px;line-height:13.3px"><i>3.814</i><i>1.025</i><i>1.310</i><i>2.507</i><i>0.817</i><i>0.960</i><i>0.810</i><i>0.790</i><i>0.803</i><i>0.781</i><i>0.850</i><i>0.922</i><i>0.710</i><i>0.884</i><i>0.774</i><i>0.648</i><i>0.881</i><i>0.498</i><i>0.973</i><i>0.702</i><i>0.567</i><i>0.527</i><i>2.873</i><i>1.362</i><i>0.600</i><i>3.074</i><i>0.299</i><i>0.695</i><i>0.305</i><i>0.149</i><i>0.285</i><i>0.145</i><i>0.126</i><i>0.165</i><i>0.082</i><i>0.120</i><i>0.044</i><i>0.071</i><i>0.062</i><i>0.000</i><i>0.052</i><i>0.072</i><i>0.109</i><i>0.114</i><i>0.109</i><i>0.209</i><i>0.217</i><i>0.227</i><i>0.332</i><i>0.426</i><i>0.233</i><i>0.297</i><i>0.287</i><i>0.342</i><i>0.385</i><i>0.347</i><i>0.388</i><i>0.218</i><i>0.427</i><i>0.461</i><i>0.216</i><i>0.458</i><i>1.041</i><i>0.271</i><i>0.330</i><i>0.274</i><i>0.628</i><i>0.281</i><i>0.274</i><i>0.324</i><i>0.516</i><i>0.327</i><i>0.301</i><i>0.361</i><i>0.539</i><i>0.401</i><i>0.482</i><i>0.483</i><i>0.440</i><i>0.347</i><i>0.586</i><i>0.412</i><i>0.452</i><i>0.409</i></div>
<div class="r" style="top:432.4px;height:9.1px;line-height:11.5px"><i>4.137</i><i>0.987</i><i>1.279</i><i>2.583</i><i>0.860</i><i>0.927</i><i>0.776</i><i>0.835</i><i>0.771</i><i>0.750</i><i>0.821</i><i>0.896</i><i>0.681</i><i>0.859</i><i>0.748</i><i>0.620</i><i>0.860</i><i>0.548</i><i>0.958</i><i>0.678</i><i>0.541</i><i>0.575</i><i>3.138</i><i>1.383</i><i>0.577</i><i>3.406</i><i>0.350</i><i>0.678</i><i>0.356</i><i>0.197</i><i>0.258</i><i>0.136</i><i>0.178</i><i>0.138</i><i>0.135</i><i>0.093</i><i>0.096</i><i>0.044</i><i>0.036</i><i>0.052</i><i>0.000</i><i>0.020</i><i>0.056</i><i>0.062</i><i>0.057</i><i>0.157</i><i>0.165</i><i>0.175</i><i>0.281</i><i>0.377</i><i>0.181</i><i>0.246</i><i>0.235</i><i>0.291</i><i>0.334</i><i>0.296</i><i>0.338</i><i>0.245</i><i>0.377</i><i>0.412</i><i>0.236</i><i>0.483</i><i>1.015</i><i>0.227</i><i>0.279</i><i>0.253</i><i>0.650</i><i>0.308</i><i>0.301</i><i>0.272</i><i>0.542</i><i>0.283</i><i>0.322</i><i>0.310</i><i>0.490</i><i>0.429</i><i>0.509</i><i>0.510</i><i>0.468</i><i>0.360</i><i>0.612</i><i>0.440</i><i>0.480</i><i>0.437</i></div>
<div class="r" style="top:441.5px;height:9.6px;line-height:12px"><i>4.208</i><i>0.980</i><i>1.275</i><i>2.601</i><i>0.872</i><i>0.925</i><i>0.774</i><i>0.849</i><i>0.771</i><i>0.750</i><i>0.822</i><i>0.897</i><i>0.682</i><i>0.862</i><i>0.750</i><i>0.622</i><i>0.864</i><i>0.565</i><i>0.964</i><i>0.682</i><i>0.545</i><i>0.593</i><i>3.203</i><i>1.396</i><i>0.581</i><i>3.487</i><i>0.369</i><i>0.684</i><i>0.375</i><i>0.216</i><i>0.263</i><i>0.155</i><i>0.198</i><i>0.143</i><i>0.154</i><i>0.098</i><i>0.116</i><i>0.054</i><i>0.040</i><i>0.072</i><i>0.020</i><i>0.000</i><i>0.037</i><i>0.042</i><i>0.037</i><i>0.137</i><i>0.146</i><i>0.155</i><i>0.262</i><i>0.358</i><i>0.161</i><i>0.226</i><i>0.216</i><i>0.271</i><i>0.315</i><i>0.277</i><i>0.318</i><i>0.241</i><i>0.358</i><i>0.393</i><i>0.231</i><i>0.478</i><i>1.000</i><i>0.223</i><i>0.260</i><i>0.249</i><i>0.645</i><i>0.304</i><i>0.297</i><i>0.256</i><i>0.537</i><i>0.279</i><i>0.318</i><i>0.291</i><i>0.471</i><i>0.425</i><i>0.505</i><i>0.506</i><i>0.464</i><i>0.356</i><i>0.608</i><i>0.437</i><i>0.476</i><i>0.434</i></div>
<div class="r" style="top:451.1px;height:9.3px;line-height:11.7px"><i>4.466</i><i>0.957</i><i>1.255</i><i>2.656</i><i>0.900</i><i>0.905</i><i>0.755</i><i>0.879</i><i>0.753</i><i>0.733</i><i>0.806</i><i>0.883</i><i>0.666</i><i>0.849</i><i>0.736</i><i>0.607</i><i>0.853</i><i>0.599</i><i>0.957</i><i>0.670</i><i>0.531</i><i>0.627</i><i>3.411</i><i>1.413</i><i>0.570</i><i>3.753</i><i>0.404</i><i>0.676</i><i>0.411</i><i>0.253</i><i>0.250</i><i>0.192</i><i>0.234</i><i>0.130</i><i>0.191</i><i>0.097</i><i>0.152</i><i>0.090</i><i>0.072</i><i>0.109</i><i>0.056</i><i>0.037</i><i>0.000</i><i>0.018</i><i>0.046</i><i>0.101</i><i>0.109</i><i>0.119</i><i>0.226</i><i>0.323</i><i>0.125</i><i>0.190</i><i>0.179</i><i>0.235</i><i>0.279</i><i>0.241</i><i>0.282</i><i>0.253</i><i>0.322</i><i>0.357</i><i>0.244</i><i>0.489</i><i>0.979</i><i>0.236</i><i>0.224</i><i>0.262</i><i>0.654</i><i>0.317</i><i>0.310</i><i>0.269</i><i>0.549</i><i>0.292</i><i>0.331</i><i>0.284</i><i>0.436</i><i>0.438</i><i>0.517</i><i>0.518</i><i>0.477</i><i>0.370</i><i>0.619</i><i>0.450</i><i>0.489</i><i>0.447</i></div>
<div class="r" style="top:460.4px;height:9.4px;line-height:11.8px"><i>4.398</i><i>0.964</i><i>1.263</i><i>2.645</i><i>0.898</i><i>0.916</i><i>0.767</i><i>0.878</i><i>0.765</i><i>0.746</i><i>0.819</i><i>0.897</i><i>0.681</i><i>0.863</i><i>0.751</i><i>0.623</i><i>0.867</i><i>0.603</i><i>0.971</i><i>0.686</i><i>0.548</i><i>0.631</i><i>3.368</i><i>1.422</i><i>0.587</i><i>3.695</i><i>0.409</i><i>0.693</i><i>0.416</i><i>0.258</i><i>0.268</i><i>0.197</i><i>0.239</i><i>0.148</i><i>0.196</i><i>0.103</i><i>0.158</i><i>0.096</i><i>0.078</i><i>0.114</i><i>0.062</i><i>0.042</i><i>0.018</i><i>0.000</i><i>0.028</i><i>0.095</i><i>0.104</i><i>0.113</i><i>0.220</i><i>0.317</i><i>0.119</i><i>0.185</i><i>0.174</i><i>0.230</i><i>0.274</i><i>0.235</i><i>0.277</i><i>0.236</i><i>0.317</i><i>0.352</i><i>0.226</i><i>0.472</i><i>0.970</i><i>0.219</i><i>0.219</i><i>0.245</i><i>0.637</i><i>0.300</i><i>0.293</i><i>0.252</i><i>0.532</i><i>0.275</i><i>0.314</i><i>0.267</i><i>0.431</i><i>0.421</i><i>0.500</i><i>0.502</i><i>0.460</i><i>0.353</i><i>0.603</i><i>0.433</i><i>0.473</i><i>0.430</i></div>
<div class="r" style="top:469.8px;height:10.4px;line-height:12.8px"><i>4.228</i><i>0.982</i><i>1.279</i><i>2.613</i><i>0.885</i><i>0.936</i><i>0.788</i><i>0.868</i><i>0.788</i><i>0.769</i><i>0.842</i><i>0.919</i><i>0.705</i><i>0.886</i><i>0.775</i><i>0.648</i><i>0.890</i><i>0.596</i><i>0.992</i><i>0.711</i><i>0.574</i><i>0.626</i><i>3.248</i><i>1.428</i><i>0.612</i><i>3.536</i><i>0.404</i><i>0.716</i><i>0.411</i><i>0.252</i><i>0.295</i><i>0.191</i><i>0.234</i><i>0.176</i><i>0.191</i><i>0.131</i><i>0.153</i><i>0.091</i><i>0.074</i><i>0.109</i><i>0.057</i><i>0.037</i><i>0.046</i><i>0.028</i><i>0.000</i><i>0.100</i><i>0.109</i><i>0.119</i><i>0.225</i><i>0.321</i><i>0.125</i><i>0.190</i><i>0.179</i><i>0.235</i><i>0.279</i><i>0.240</i><i>0.282</i><i>0.208</i><i>0.322</i><i>0.357</i><i>0.199</i><i>0.446</i><i>0.965</i><i>0.191</i><i>0.224</i><i>0.217</i><i>0.612</i><i>0.272</i><i>0.266</i><i>0.224</i><i>0.506</i><i>0.247</i><i>0.287</i><i>0.256</i><i>0.437</i><i>0.394</i><i>0.474</i><i>0.475</i><i>0.433</i><i>0.325</i><i>0.577</i><i>0.406</i><i>0.446</i><i>0.404</i></div>
<div class="r" style="top:480.2px;height:8.76px;line-height:11.16px"><i>5.449</i><i>1.020</i><i>1.202</i><i>2.830</i><i>0.976</i><i>0.852</i><i>0.826</i><i>0.959</i><i>0.705</i><i>0.686</i><i>0.762</i><i>0.844</i><i>0.624</i><i>0.812</i><i>0.698</i><i>0.568</i><i>0.823</i><i>0.691</i><i>0.938</i><i>0.638</i><i>0.496</i><i>0.716</i><i>4.159</i><i>1.463</i><i>0.540</i><i>4.755</i><i>0.500</i><i>0.655</i><i>0.506</i><i>0.351</i><i>0.217</i><i>0.291</i><i>0.333</i><i>0.210</i><i>0.290</i><i>0.197</i><i>0.252</i><i>0.191</i><i>0.173</i><i>0.209</i><i>0.157</i><i>0.137</i><i>0.101</i><i>0.095</i><i>0.100</i><i>0.000</i><i>0.014</i><i>0.025</i><i>0.126</i><i>0.225</i><i>0.081</i><i>0.090</i><i>0.079</i><i>0.135</i><i>0.180</i><i>0.141</i><i>0.183</i><i>0.285</i><i>0.223</i><i>0.259</i><i>0.276</i><i>0.515</i><i>0.919</i><i>0.269</i><i>0.224</i><i>0.295</i><i>0.673</i><i>0.350</i><i>0.343</i><i>0.302</i><i>0.575</i><i>0.326</i><i>0.365</i><i>0.318</i><i>0.339</i><i>0.470</i><i>0.547</i><i>0.549</i><i>0.509</i><i>0.404</i><i>0.647</i><i>0.483</i><i>0.522</i><i>0.481</i></div>
<div class="r" style="top:488.96px;height:8.76px;line-height:11.16px"><i>5.402</i><i>1.018</i><i>1.206</i><i>2.825</i><i>0.977</i><i>0.858</i><i>0.828</i><i>0.962</i><i>0.713</i><i>0.695</i><i>0.771</i><i>0.853</i><i>0.634</i><i>0.822</i><i>0.708</i><i>0.579</i><i>0.834</i><i>0.697</i><i>0.949</i><i>0.649</i><i>0.508</i><i>0.724</i><i>4.134</i><i>1.472</i><i>0.553</i><i>4.718</i><i>0.508</i><i>0.667</i><i>0.514</i><i>0.359</i><i>0.230</i><i>0.299</i><i>0.341</i><i>0.218</i><i>0.298</i><i>0.205</i><i>0.260</i><i>0.199</i><i>0.181</i><i>0.217</i><i>0.165</i><i>0.146</i><i>0.109</i><i>0.104</i><i>0.109</i><i>0.014</i><i>0.000</i><i>0.012</i><i>0.118</i><i>0.217</i><i>0.068</i><i>0.081</i><i>0.071</i><i>0.127</i><i>0.171</i><i>0.132</i><i>0.175</i><i>0.271</i><i>0.215</i><i>0.251</i><i>0.263</i><i>0.502</i><i>0.910</i><i>0.256</i><i>0.211</i><i>0.282</i><i>0.660</i><i>0.337</i><i>0.330</i><i>0.289</i><i>0.562</i><i>0.313</i><i>0.352</i><i>0.305</i><i>0.331</i><i>0.457</i><i>0.534</i><i>0.536</i><i>0.496</i><i>0.391</i><i>0.634</i><i>0.471</i><i>0.509</i><i>0.468</i></div>
<div class="r" style="top:497.72px;height:8.76px;line-height:11.16px"><i>5.384</i><i>1.018</i><i>1.208</i><i>2.825</i><i>0.979</i><i>0.863</i><i>0.831</i><i>0.966</i><i>0.719</i><i>0.702</i><i>0.778</i><i>0.861</i><i>0.642</i><i>0.831</i><i>0.717</i><i>0.588</i><i>0.843</i><i>0.705</i><i>0.959</i><i>0.659</i><i>0.518</i><i>0.732</i><i>4.130</i><i>1.481</i><i>0.563</i><i>4.709</i><i>0.517</i><i>0.678</i><i>0.523</i><i>0.369</i><i>0.242</i><i>0.309</i><i>0.350</i><i>0.228</i><i>0.308</i><i>0.215</i><i>0.270</i><i>0.209</i><i>0.191</i><i>0.227</i><i>0.175</i><i>0.155</i><i>0.119</i><i>0.113</i><i>0.119</i><i>0.025</i><i>0.012</i><i>0.000</i><i>0.108</i><i>0.207</i><i>0.056</i><i>0.071</i><i>0.061</i><i>0.117</i><i>0.162</i><i>0.123</i><i>0.165</i><i>0.260</i><i>0.205</i><i>0.241</i><i>0.251</i><i>0.490</i><i>0.900</i><i>0.244</i><i>0.200</i><i>0.270</i><i>0.649</i><i>0.325</i><i>0.319</i><i>0.278</i><i>0.551</i><i>0.301</i><i>0.341</i><i>0.294</i><i>0.322</i><i>0.446</i><i>0.523</i><i>0.525</i><i>0.485</i><i>0.380</i><i>0.624</i><i>0.460</i><i>0.499</i><i>0.457</i></div>
<div class="r" style="top:506.48px;height:8.76px;line-height:11.16px"><i>8.571</i><i>1.115</i><i>1.118</i><i>3.162</i><i>1.077</i><i>0.854</i><i>0.932</i><i>1.061</i><i>0.802</i><i>0.759</i><i>0.687</i><i>0.773</i><i>0.649</i><i>0.745</i><i>0.628</i><i>0.550</i><i>0.762</i><i>0.803</i><i>0.891</i><i>0.573</i><i>0.430</i><i>0.824</i><i>6.173</i><i>1.523</i><i>0.479</i><i>7.859</i><i>0.617</i><i>0.603</i><i>0.621</i><i>0.473</i><i>0.308</i><i>0.414</i><i>0.454</i><i>0.335</i><i>0.412</i><i>0.322</i><i>0.375</i><i>0.315</i><i>0.297</i><i>0.332</i><i>0.281</i><i>0.262</i><i>0.226</i><i>0.220</i><i>0.225</i><i>0.126</i><i>0.118</i><i>0.108</i><i>0.000</i><i>0.100</i><i>0.143</i><i>0.097</i><i>0.127</i><i>0.090</i><i>0.064</i><i>0.121</i><i>0.097</i><i>0.343</i><i>0.097</i><i>0.133</i><i>0.336</i><i>0.562</i><i>0.845</i><i>0.330</i><i>0.286</i><i>0.355</i><i>0.710</i><i>0.409</i><i>0.403</i><i>0.364</i><i>0.623</i><i>0.387</i><i>0.425</i><i>0.380</i><i>0.214</i><i>0.527</i><i>0.600</i><i>0.602</i><i>0.565</i><i>0.465</i><i>0.695</i><i>0.542</i><i>0.579</i><i>0.540</i></div>
<div class="r" style="top:515.24px;height:8.76px;line-height:11.16px"><i>24.899</i><i>1.203</i><i>1.031</i><i>3.640</i><i>1.163</i><i>0.947</i><i>1.023</i><i>1.144</i><i>0.895</i><i>0.853</i><i>0.719</i><i>0.690</i><i>0.745</i><i>0.663</i><i>0.566</i><i>0.647</i><i>0.684</i><i>0.889</i><i>0.824</i><i>0.492</i><i>0.493</i><i>0.903</i><i>12.347</i><i>1.569</i><i>0.398</i><i>23.593</i><i>0.705</i><i>0.530</i><i>0.707</i><i>0.566</i><i>0.406</i><i>0.509</i><i>0.546</i><i>0.431</i><i>0.505</i><i>0.418</i><i>0.468</i><i>0.411</i><i>0.393</i><i>0.426</i><i>0.377</i><i>0.358</i><i>0.323</i><i>0.317</i><i>0.321</i><i>0.225</i><i>0.217</i><i>0.207</i><i>0.100</i><i>0.000</i><i>0.220</i><i>0.176</i><i>0.206</i><i>0.169</i><i>0.144</i><i>0.201</i><i>0.177</i><i>0.415</i><i>0.171</i><i>0.152</i><i>0.409</i><i>0.621</i><i>0.788</i><i>0.405</i><i>0.363</i><i>0.430</i><i>0.760</i><i>0.482</i><i>0.477</i><i>0.439</i><i>0.684</i><i>0.462</i><i>0.499</i><i>0.456</i><i>0.292</i><i>0.597</i><i>0.665</i><i>0.668</i><i>0.633</i><i>0.539</i><i>0.755</i><i>0.613</i><i>0.648</i><i>0.612</i></div>
<div class="r" style="top:524px;height:8.48px;line-height:10.88px"><i>4.969</i><i>0.995</i><i>1.236</i><i>2.765</i><i>0.964</i><i>0.898</i><i>0.818</i><i>0.956</i><i>0.759</i><i>0.743</i><i>0.820</i><i>0.903</i><i>0.686</i><i>0.874</i><i>0.763</i><i>0.635</i><i>0.888</i><i>0.705</i><i>1.001</i><i>0.707</i><i>0.568</i><i>0.736</i><i>3.856</i><i>1.501</i><i>0.614</i><i>4.323</i><i>0.522</i><i>0.727</i><i>0.529</i><i>0.373</i><i>0.296</i><i>0.313</i><i>0.356</i><i>0.233</i><i>0.313</i><i>0.220</i><i>0.276</i><i>0.214</i><i>0.196</i><i>0.233</i><i>0.181</i><i>0.161</i><i>0.125</i><i>0.119</i><i>0.125</i><i>0.081</i><i>0.068</i><i>0.056</i><i>0.143</i><i>0.220</i><i>0.000</i><i>0.065</i><i>0.055</i><i>0.111</i><i>0.156</i><i>0.117</i><i>0.159</i><i>0.205</i><i>0.199</i><i>0.235</i><i>0.196</i><i>0.438</i><i>0.879</i><i>0.189</i><i>0.144</i><i>0.215</i><i>0.600</i><i>0.271</i><i>0.264</i><i>0.223</i><i>0.499</i><i>0.247</i><i>0.286</i><i>0.239</i><i>0.317</i><i>0.393</i><i>0.471</i><i>0.473</i><i>0.432</i><i>0.326</i><i>0.573</i><i>0.407</i><i>0.446</i><i>0.404</i></div>
<div class="r" style="top:532.48px;height:8.48px;line-height:10.88px"><i>6.046</i><i>1.051</i><i>1.186</i><i>2.924</i><i>1.021</i><i>0.846</i><i>0.878</i><i>1.012</i><i>0.749</i><i>0.707</i><i>0.771</i><i>0.856</i><i>0.637</i><i>0.829</i><i>0.715</i><i>0.587</i><i>0.846</i><i>0.765</i><i>0.968</i><i>0.663</i><i>0.521</i><i>0.793</i><i>4.622</i><i>1.526</i><i>0.570</i><i>5.396</i><i>0.583</i><i>0.690</i><i>0.589</i><i>0.437</i><i>0.269</i><i>0.378</i><i>0.419</i><i>0.297</i><i>0.377</i><i>0.285</i><i>0.340</i><i>0.279</i><i>0.261</i><i>0.297</i><i>0.246</i><i>0.226</i><i>0.190</i><i>0.185</i><i>0.190</i><i>0.090</i><i>0.081</i><i>0.071</i><i>0.097</i><i>0.176</i><i>0.065</i><i>0.000</i><i>0.030</i><i>0.046</i><i>0.091</i><i>0.051</i><i>0.094</i><i>0.249</i><i>0.134</i><i>0.170</i><i>0.241</i><i>0.476</i><i>0.846</i><i>0.234</i><i>0.190</i><i>0.260</i><i>0.632</i><i>0.315</i><i>0.309</i><i>0.269</i><i>0.538</i><i>0.292</i><i>0.331</i><i>0.285</i><i>0.252</i><i>0.436</i><i>0.512</i><i>0.514</i><i>0.475</i><i>0.371</i><i>0.611</i><i>0.451</i><i>0.489</i><i>0.449</i></div>
<div class="r" style="top:540.96px;height:8.48px;line-height:10.88px"><i>5.591</i><i>1.032</i><i>1.206</i><i>2.865</i><i>1.004</i><i>0.870</i><i>0.861</i><i>0.998</i><i>0.734</i><i>0.718</i><i>0.796</i><i>0.881</i><i>0.663</i><i>0.854</i><i>0.742</i><i>0.614</i><i>0.871</i><i>0.753</i><i>0.990</i><i>0.690</i><i>0.549</i><i>0.783</i><i>4.316</i><i>1.528</i><i>0.598</i><i>4.955</i><i>0.573</i><i>0.716</i><i>0.580</i><i>0.426</i><i>0.279</i><i>0.367</i><i>0.409</i><i>0.287</i><i>0.367</i><i>0.274</i><i>0.330</i><i>0.269</i><i>0.251</i><i>0.287</i><i>0.235</i><i>0.216</i><i>0.179</i><i>0.174</i><i>0.179</i><i>0.079</i><i>0.071</i><i>0.061</i><i>0.127</i><i>0.206</i><i>0.055</i><i>0.030</i><i>0.000</i><i>0.056</i><i>0.101</i><i>0.062</i><i>0.104</i><i>0.220</i><i>0.145</i><i>0.181</i><i>0.212</i><i>0.449</i><i>0.845</i><i>0.205</i><i>0.160</i><i>0.231</i><i>0.608</i><i>0.286</i><i>0.280</i><i>0.239</i><i>0.511</i><i>0.263</i><i>0.302</i><i>0.255</i><i>0.263</i><i>0.408</i><i>0.484</i><i>0.486</i><i>0.447</i><i>0.342</i><i>0.585</i><i>0.422</i><i>0.461</i><i>0.420</i></div>
<div class="r" style="top:549.44px;height:8.48px;line-height:10.88px"><i>6.816</i><i>1.079</i><i>1.164</i><i>3.017</i><i>1.052</i><i>0.829</i><i>0.911</i><i>1.045</i><i>0.785</i><i>0.744</i><i>0.755</i><i>0.841</i><i>0.640</i><i>0.816</i><i>0.702</i><i>0.573</i><i>0.836</i><i>0.804</i><i>0.962</i><i>0.652</i><i>0.510</i><i>0.831</i><i>5.146</i><i>1.551</i><i>0.561</i><i>6.172</i><i>0.625</i><i>0.684</i><i>0.631</i><i>0.480</i><i>0.314</i><i>0.422</i><i>0.463</i><i>0.342</i><i>0.421</i><i>0.330</i><i>0.384</i><i>0.324</i><i>0.306</i><i>0.342</i><i>0.291</i><i>0.271</i><i>0.235</i><i>0.230</i><i>0.235</i><i>0.135</i><i>0.127</i><i>0.117</i><i>0.090</i><i>0.169</i><i>0.111</i><i>0.046</i><i>0.056</i><i>0.000</i><i>0.045</i><i>0.032</i><i>0.048</i><i>0.255</i><i>0.089</i><i>0.125</i><i>0.248</i><i>0.480</i><i>0.815</i><i>0.241</i><i>0.198</i><i>0.268</i><i>0.633</i><i>0.322</i><i>0.316</i><i>0.276</i><i>0.542</i><i>0.300</i><i>0.338</i><i>0.292</i><i>0.207</i><i>0.443</i><i>0.517</i><i>0.520</i><i>0.481</i><i>0.379</i><i>0.615</i><i>0.458</i><i>0.496</i><i>0.456</i></div>
<div class="r" style="top:557.92px;height:8.48px;line-height:10.88px"><i>8.296</i><i>1.115</i><i>1.132</i><i>3.153</i><i>1.088</i><i>0.868</i><i>0.949</i><i>1.081</i><i>0.824</i><i>0.784</i><i>0.725</i><i>0.812</i><i>0.681</i><i>0.788</i><i>0.673</i><i>0.586</i><i>0.810</i><i>0.842</i><i>0.941</i><i>0.625</i><i>0.482</i><i>0.868</i><i>6.061</i><i>1.571</i><i>0.535</i><i>7.636</i><i>0.665</i><i>0.661</i><i>0.671</i><i>0.523</i><i>0.357</i><i>0.465</i><i>0.505</i><i>0.386</i><i>0.464</i><i>0.374</i><i>0.427</i><i>0.367</i><i>0.350</i><i>0.385</i><i>0.334</i><i>0.315</i><i>0.279</i><i>0.274</i><i>0.279</i><i>0.180</i><i>0.171</i><i>0.162</i><i>0.064</i><i>0.144</i><i>0.156</i><i>0.091</i><i>0.101</i><i>0.045</i><i>0.000</i><i>0.058</i><i>0.033</i><i>0.279</i><i>0.044</i><i>0.080</i><i>0.272</i><i>0.499</i><i>0.789</i><i>0.266</i><i>0.223</i><i>0.292</i><i>0.649</i><i>0.346</i><i>0.341</i><i>0.301</i><i>0.562</i><i>0.325</i><i>0.363</i><i>0.318</i><i>0.162</i><i>0.466</i><i>0.539</i><i>0.542</i><i>0.504</i><i>0.404</i><i>0.635</i><i>0.482</i><i>0.519</i><i>0.480</i></div>
<div class="r" style="top:566.4px;height:9.34px;line-height:11.74px"><i>6.413</i><i>1.068</i><i>1.179</i><i>2.976</i><i>1.044</i><i>0.845</i><i>0.905</i><i>1.041</i><i>0.780</i><i>0.740</i><i>0.778</i><i>0.864</i><i>0.646</i><i>0.840</i><i>0.727</i><i>0.599</i><i>0.861</i><i>0.805</i><i>0.986</i><i>0.679</i><i>0.538</i><i>0.835</i><i>4.898</i><i>1.562</i><i>0.590</i><i>5.789</i><i>0.629</i><i>0.712</i><i>0.636</i><i>0.484</i><i>0.318</i><i>0.426</i><i>0.468</i><i>0.347</i><i>0.426</i><i>0.335</i><i>0.389</i><i>0.329</i><i>0.311</i><i>0.347</i><i>0.296</i><i>0.277</i><i>0.241</i><i>0.235</i><i>0.240</i><i>0.141</i><i>0.132</i><i>0.123</i><i>0.121</i><i>0.201</i><i>0.117</i><i>0.051</i><i>0.062</i><i>0.032</i><i>0.058</i><i>0.000</i><i>0.042</i><i>0.224</i><i>0.083</i><i>0.119</i><i>0.217</i><i>0.450</i><i>0.803</i><i>0.210</i><i>0.166</i><i>0.236</i><i>0.605</i><i>0.291</i><i>0.285</i><i>0.245</i><i>0.513</i><i>0.269</i><i>0.308</i><i>0.261</i><i>0.202</i><i>0.412</i><i>0.488</i><i>0.490</i><i>0.451</i><i>0.348</i><i>0.587</i><i>0.428</i><i>0.466</i><i>0.426</i></div>
<div class="r" style="top:575.74px;height:9.34px;line-height:11.74px"><i>7.583</i><i>1.101</i><i>1.148</i><i>3.097</i><i>1.078</i><i>0.858</i><i>0.941</i><i>1.075</i><i>0.817</i><i>0.778</i><i>0.749</i><i>0.837</i><i>0.676</i><i>0.813</i><i>0.700</i><i>0.583</i><i>0.836</i><i>0.842</i><i>0.966</i><i>0.654</i><i>0.512</i><i>0.870</i><i>5.649</i><i>1.581</i><i>0.565</i><i>6.950</i><i>0.668</i><i>0.691</i><i>0.674</i><i>0.525</i><i>0.359</i><i>0.467</i><i>0.508</i><i>0.388</i><i>0.467</i><i>0.376</i><i>0.430</i><i>0.370</i><i>0.353</i><i>0.388</i><i>0.338</i><i>0.318</i><i>0.282</i><i>0.277</i><i>0.282</i><i>0.183</i><i>0.175</i><i>0.165</i><i>0.097</i><i>0.177</i><i>0.159</i><i>0.094</i><i>0.104</i><i>0.048</i><i>0.033</i><i>0.042</i><i>0.000</i><i>0.247</i><i>0.041</i><i>0.077</i><i>0.240</i><i>0.469</i><i>0.778</i><i>0.234</i><i>0.190</i><i>0.260</i><i>0.620</i><i>0.314</i><i>0.308</i><i>0.269</i><i>0.532</i><i>0.292</i><i>0.331</i><i>0.285</i><i>0.160</i><i>0.434</i><i>0.509</i><i>0.511</i><i>0.473</i><i>0.372</i><i>0.606</i><i>0.450</i><i>0.488</i><i>0.449</i></div>
<div class="r" style="top:585.08px;height:9.34px;line-height:11.74px"><i>3.627</i><i>1.071</i><i>1.365</i><i>2.499</i><i>0.897</i><i>1.056</i><i>0.917</i><i>0.845</i><i>0.927</i><i>0.913</i><i>0.988</i><i>1.065</i><i>0.863</i><i>1.038</i><i>0.936</i><i>0.816</i><i>1.048</i><i>0.616</i><i>1.144</i><i>0.884</i><i>0.754</i><i>0.659</i><i>2.875</i><i>1.522</i><i>0.795</i><i>3.044</i><i>0.442</i><i>0.893</i><i>0.452</i><i>0.358</i><i>0.494</i><i>0.357</i><i>0.284</i><i>0.379</i><i>0.269</i><i>0.335</i><i>0.253</i><i>0.288</i><i>0.280</i><i>0.218</i><i>0.245</i><i>0.241</i><i>0.253</i><i>0.236</i><i>0.208</i><i>0.285</i><i>0.271</i><i>0.260</i><i>0.343</i><i>0.415</i><i>0.205</i><i>0.249</i><i>0.220</i><i>0.255</i><i>0.279</i><i>0.224</i><i>0.247</i><i>0.000</i><i>0.269</i><i>0.303</i><i>0.060</i><i>0.243</i><i>0.865</i><i>0.116</i><i>0.176</i><i>0.121</i><i>0.418</i><i>0.095</i><i>0.116</i><i>0.172</i><i>0.305</i><i>0.176</i><i>0.150</i><i>0.211</i><i>0.388</i><i>0.191</i><i>0.273</i><i>0.275</i><i>0.232</i><i>0.200</i><i>0.381</i><i>0.205</i><i>0.246</i><i>0.203</i></div>
<div class="r" style="top:594.42px;height:9.34px;line-height:11.74px"><i>8.758</i><i>1.125</i><i>1.128</i><i>3.194</i><i>1.105</i><i>0.887</i><i>0.970</i><i>1.103</i><i>0.848</i><i>0.809</i><i>0.735</i><i>0.824</i><i>0.710</i><i>0.802</i><i>0.688</i><i>0.618</i><i>0.827</i><i>0.875</i><i>0.961</i><i>0.644</i><i>0.502</i><i>0.903</i><i>6.354</i><i>1.604</i><i>0.557</i><i>8.118</i><i>0.704</i><i>0.685</i><i>0.709</i><i>0.563</i><i>0.398</i><i>0.505</i><i>0.546</i><i>0.427</i><i>0.505</i><i>0.415</i><i>0.469</i><i>0.410</i><i>0.392</i><i>0.427</i><i>0.377</i><i>0.358</i><i>0.322</i><i>0.317</i><i>0.322</i><i>0.223</i><i>0.215</i><i>0.205</i><i>0.097</i><i>0.171</i><i>0.199</i><i>0.134</i><i>0.145</i><i>0.089</i><i>0.044</i><i>0.083</i><i>0.041</i><i>0.269</i><i>0.000</i><i>0.036</i><i>0.244</i><i>0.470</i><i>0.750</i><i>0.239</i><i>0.196</i><i>0.265</i><i>0.619</i><i>0.319</i><i>0.313</i><i>0.274</i><i>0.533</i><i>0.297</i><i>0.336</i><i>0.291</i><i>0.123</i><i>0.438</i><i>0.511</i><i>0.514</i><i>0.477</i><i>0.377</i><i>0.607</i><i>0.455</i><i>0.492</i><i>0.453</i></div>
<div class="r" style="top:603.76px;height:9.34px;line-height:11.74px"><i>10.858</i><i>1.153</i><i>1.103</i><i>3.321</i><i>1.133</i><i>0.917</i><i>0.999</i><i>1.131</i><i>0.879</i><i>0.840</i><i>0.712</i><i>0.801</i><i>0.742</i><i>0.780</i><i>0.666</i><i>0.651</i><i>0.807</i><i>0.906</i><i>0.944</i><i>0.623</i><i>0.507</i><i>0.932</i><i>7.478</i><i>1.621</i><i>0.537</i><i>10.181</i><i>0.735</i><i>0.668</i><i>0.741</i><i>0.596</i><i>0.433</i><i>0.539</i><i>0.579</i><i>0.462</i><i>0.539</i><i>0.450</i><i>0.503</i><i>0.444</i><i>0.427</i><i>0.461</i><i>0.412</i><i>0.393</i><i>0.357</i><i>0.352</i><i>0.357</i><i>0.259</i><i>0.251</i><i>0.241</i><i>0.133</i><i>0.152</i><i>0.235</i><i>0.170</i><i>0.181</i><i>0.125</i><i>0.080</i><i>0.119</i><i>0.077</i><i>0.303</i><i>0.036</i><i>0.000</i><i>0.262</i><i>0.483</i><i>0.727</i><i>0.257</i><i>0.214</i><i>0.283</i><i>0.630</i><i>0.336</i><i>0.330</i><i>0.292</i><i>0.547</i><i>0.315</i><i>0.353</i><i>0.309</i><i>0.142</i><i>0.455</i><i>0.526</i><i>0.529</i><i>0.493</i><i>0.395</i><i>0.621</i><i>0.471</i><i>0.508</i><i>0.470</i></div>
<div class="r" style="top:613.1px;height:8.72px;line-height:11.12px"><i>3.860</i><i>1.038</i><i>1.340</i><i>2.561</i><i>0.881</i><i>1.030</i><i>0.891</i><i>0.889</i><i>0.905</i><i>0.892</i><i>0.969</i><i>1.049</i><i>0.844</i><i>1.025</i><i>0.921</i><i>0.800</i><i>1.039</i><i>0.668</i><i>1.141</i><i>0.873</i><i>0.741</i><i>0.712</i><i>3.081</i><i>1.550</i><i>0.787</i><i>3.296</i><i>0.498</i><i>0.890</i><i>0.509</i><i>0.350</i><i>0.484</i><i>0.346</i><i>0.336</i><i>0.368</i><i>0.294</i><i>0.325</i><i>0.258</i><i>0.278</i><i>0.270</i><i>0.216</i><i>0.236</i><i>0.231</i><i>0.244</i><i>0.226</i><i>0.199</i><i>0.276</i><i>0.263</i><i>0.251</i><i>0.336</i><i>0.409</i><i>0.196</i><i>0.241</i><i>0.212</i><i>0.248</i><i>0.272</i><i>0.217</i><i>0.240</i><i>0.060</i><i>0.244</i><i>0.262</i><i>0.000</i><i>0.250</i><i>0.828</i><i>0.056</i><i>0.116</i><i>0.061</i><i>0.422</i><i>0.076</i><i>0.069</i><i>0.112</i><i>0.313</i><i>0.116</i><i>0.092</i><i>0.151</i><i>0.330</i><i>0.201</i><i>0.281</i><i>0.283</i><i>0.241</i><i>0.141</i><i>0.388</i><i>0.215</i><i>0.255</i><i>0.213</i></div>
<div class="r" style="top:621.82px;height:8.72px;line-height:11.12px"><i>2.812</i><i>1.275</i><i>1.525</i><i>2.261</i><i>1.113</i><i>1.256</i><i>1.130</i><i>0.942</i><i>1.137</i><i>1.123</i><i>1.186</i><i>1.247</i><i>1.073</i><i>1.219</i><i>1.131</i><i>1.027</i><i>1.216</i><i>0.700</i><i>1.281</i><i>1.074</i><i>0.963</i><i>0.500</i><i>2.220</i><i>1.515</i><i>0.987</i><i>2.260</i><i>0.545</i><i>1.056</i><i>0.471</i><i>0.596</i><i>0.719</i><i>0.593</i><i>0.524</i><i>0.612</i><i>0.509</i><i>0.570</i><i>0.492</i><i>0.525</i><i>0.517</i><i>0.458</i><i>0.483</i><i>0.478</i><i>0.489</i><i>0.472</i><i>0.446</i><i>0.515</i><i>0.502</i><i>0.490</i><i>0.562</i><i>0.621</i><i>0.438</i><i>0.476</i><i>0.449</i><i>0.480</i><i>0.499</i><i>0.450</i><i>0.469</i><i>0.243</i><i>0.470</i><i>0.483</i><i>0.250</i><i>0.000</i><i>0.889</i><i>0.288</i><i>0.343</i><i>0.293</i><i>0.185</i><i>0.270</i><i>0.290</i><i>0.343</i><i>0.075</i><i>0.348</i><i>0.324</i><i>0.381</i><i>0.540</i><i>0.259</i><i>0.191</i><i>0.202</i><i>0.257</i><i>0.374</i><i>0.138</i><i>0.320</i><i>0.292</i><i>0.345</i></div>
<div class="r" style="top:630.54px;height:8.72px;line-height:11.12px"><i>2.513</i><i>1.754</i><i>1.543</i><i>3.362</i><i>1.693</i><i>1.588</i><i>1.609</i><i>1.640</i><i>1.529</i><i>1.499</i><i>1.424</i><i>1.337</i><i>1.417</i><i>1.277</i><i>1.308</i><i>1.341</i><i>1.151</i><i>1.415</i><i>0.959</i><i>1.173</i><i>1.221</i><i>1.372</i><i>2.083</i><i>3.290</i><i>1.081</i><i>1.971</i><i>1.253</i><i>0.907</i><i>1.234</i><i>1.175</i><i>1.101</i><i>1.136</i><i>1.141</i><i>1.088</i><i>1.109</i><i>1.068</i><i>1.079</i><i>1.050</i><i>1.035</i><i>1.041</i><i>1.015</i><i>1.000</i><i>0.979</i><i>0.970</i><i>0.965</i><i>0.919</i><i>0.910</i><i>0.900</i><i>0.845</i><i>0.788</i><i>0.879</i><i>0.846</i><i>0.845</i><i>0.815</i><i>0.789</i><i>0.803</i><i>0.778</i><i>0.865</i><i>0.750</i><i>0.727</i><i>0.828</i><i>0.889</i><i>0.000</i><i>0.808</i><i>0.797</i><i>0.828</i><i>0.941</i><i>0.857</i><i>0.860</i><i>0.850</i><i>0.940</i><i>0.868</i><i>0.886</i><i>0.874</i><i>0.806</i><i>0.935</i><i>0.962</i><i>0.968</i><i>0.960</i><i>0.931</i><i>1.008</i><i>0.966</i><i>0.982</i><i>0.973</i></div>
<div class="r" style="top:639.26px;height:8.72px;line-height:11.12px"><i>4.117</i><i>1.008</i><i>1.316</i><i>2.623</i><i>0.919</i><i>1.006</i><i>0.867</i><i>0.929</i><i>0.883</i><i>0.872</i><i>0.951</i><i>1.034</i><i>0.826</i><i>1.011</i><i>0.906</i><i>0.785</i><i>1.029</i><i>0.715</i><i>1.137</i><i>0.863</i><i>0.729</i><i>0.760</i><i>3.300</i><i>1.577</i><i>0.779</i><i>3.569</i><i>0.550</i><i>0.887</i><i>0.560</i><i>0.403</i><i>0.474</i><i>0.345</i><i>0.389</i><i>0.359</i><i>0.348</i><i>0.316</i><i>0.312</i><i>0.269</i><i>0.262</i><i>0.271</i><i>0.227</i><i>0.223</i><i>0.236</i><i>0.219</i><i>0.191</i><i>0.269</i><i>0.256</i><i>0.244</i><i>0.330</i><i>0.405</i><i>0.189</i><i>0.234</i><i>0.205</i><i>0.241</i><i>0.266</i><i>0.210</i><i>0.234</i><i>0.116</i><i>0.239</i><i>0.257</i><i>0.056</i><i>0.288</i><i>0.808</i><i>0.000</i><i>0.060</i><i>0.027</i><i>0.425</i><i>0.083</i><i>0.076</i><i>0.056</i><i>0.318</i><i>0.060</i><i>0.099</i><i>0.095</i><i>0.276</i><i>0.208</i><i>0.288</i><i>0.290</i><i>0.248</i><i>0.140</i><i>0.394</i><i>0.222</i><i>0.262</i><i>0.220</i></div>
<div class="r" style="top:647.98px;height:8.72px;line-height:11.12px"><i>4.678</i><i>0.982</i><i>1.271</i><i>2.737</i><i>0.973</i><i>0.957</i><i>0.840</i><i>0.983</i><i>0.834</i><i>0.823</i><i>0.904</i><i>0.990</i><i>0.779</i><i>0.969</i><i>0.862</i><i>0.738</i><i>0.991</i><i>0.772</i><i>1.107</i><i>0.820</i><i>0.685</i><i>0.814</i><i>3.734</i><i>1.596</i><i>0.737</i><i>4.131</i><i>0.607</i><i>0.853</i><i>0.617</i><i>0.462</i><i>0.429</i><i>0.405</i><i>0.448</i><i>0.326</i><i>0.408</i><i>0.315</i><i>0.372</i><i>0.311</i><i>0.293</i><i>0.330</i><i>0.279</i><i>0.260</i><i>0.224</i><i>0.219</i><i>0.224</i><i>0.224</i><i>0.211</i><i>0.200</i><i>0.286</i><i>0.363</i><i>0.144</i><i>0.190</i><i>0.160</i><i>0.198</i><i>0.223</i><i>0.166</i><i>0.190</i><i>0.176</i><i>0.196</i><i>0.214</i><i>0.116</i><i>0.343</i><i>0.797</i><i>0.060</i><i>0.000</i><i>0.071</i><i>0.460</i><i>0.127</i><i>0.121</i><i>0.080</i><i>0.358</i><i>0.104</i><i>0.143</i><i>0.096</i><i>0.217</i><i>0.251</i><i>0.330</i><i>0.332</i><i>0.291</i><i>0.185</i><i>0.434</i><i>0.266</i><i>0.306</i><i>0.264</i></div>
<div class="r" style="top:656.7px;height:8.72px;line-height:11.12px"><i>4.024</i><i>1.020</i><i>1.328</i><i>2.605</i><i>0.911</i><i>1.021</i><i>0.883</i><i>0.924</i><i>0.900</i><i>0.889</i><i>0.969</i><i>1.051</i><i>0.846</i><i>1.030</i><i>0.926</i><i>0.805</i><i>1.048</i><i>0.715</i><i>1.155</i><i>0.883</i><i>0.751</i><i>0.761</i><i>3.239</i><i>1.587</i><i>0.801</i><i>3.488</i><i>0.552</i><i>0.908</i><i>0.563</i><i>0.405</i><i>0.499</i><i>0.360</i><i>0.392</i><i>0.384</i><i>0.352</i><i>0.341</i><i>0.315</i><i>0.295</i><i>0.287</i><i>0.274</i><i>0.253</i><i>0.249</i><i>0.262</i><i>0.245</i><i>0.217</i><i>0.295</i><i>0.282</i><i>0.270</i><i>0.355</i><i>0.430</i><i>0.215</i><i>0.260</i><i>0.231</i><i>0.268</i><i>0.292</i><i>0.236</i><i>0.260</i><i>0.121</i><i>0.265</i><i>0.283</i><i>0.061</i><i>0.293</i><i>0.828</i><i>0.027</i><i>0.071</i><i>0.000</i><i>0.400</i><i>0.056</i><i>0.050</i><i>0.051</i><i>0.292</i><i>0.056</i><i>0.072</i><i>0.091</i><i>0.271</i><i>0.181</i><i>0.262</i><i>0.264</i><i>0.222</i><i>0.114</i><i>0.368</i><i>0.196</i><i>0.236</i><i>0.194</i></div>
<div class="r" style="top:665.42px;height:8.72px;line-height:11.12px"><i>2.538</i><i>1.404</i><i>1.618</i><i>2.166</i><i>1.255</i><i>1.382</i><i>1.269</i><i>1.095</i><i>1.273</i><i>1.259</i><i>1.311</i><i>1.361</i><i>1.210</i><i>1.332</i><i>1.256</i><i>1.164</i><i>1.321</i><i>0.867</i><i>1.368</i><i>1.196</i><i>1.100</i><i>0.675</i><i>2.011</i><i>1.529</i><i>1.113</i><i>2.017</i><i>0.718</i><i>1.163</i><i>0.647</i><i>0.762</i><i>0.872</i><i>0.758</i><i>0.694</i><i>0.773</i><i>0.679</i><i>0.733</i><i>0.662</i><i>0.690</i><i>0.682</i><i>0.628</i><i>0.650</i><i>0.645</i><i>0.654</i><i>0.637</i><i>0.612</i><i>0.673</i><i>0.660</i><i>0.649</i><i>0.710</i><i>0.760</i><i>0.600</i><i>0.632</i><i>0.608</i><i>0.633</i><i>0.649</i><i>0.605</i><i>0.620</i><i>0.418</i><i>0.619</i><i>0.630</i><i>0.422</i><i>0.185</i><i>0.941</i><i>0.425</i><i>0.460</i><i>0.400</i><i>0.000</i><i>0.364</i><i>0.384</i><i>0.432</i><i>0.182</i><i>0.438</i><i>0.417</i><i>0.470</i><i>0.610</i><i>0.359</i><i>0.295</i><i>0.306</i><i>0.359</i><i>0.468</i><i>0.238</i><i>0.418</i><i>0.393</i><i>0.443</i></div>
<div class="r" style="top:674.14px;height:8.72px;line-height:11.12px"><i>3.721</i><i>1.062</i><i>1.364</i><i>2.536</i><i>0.901</i><i>1.065</i><i>0.929</i><i>0.889</i><i>0.946</i><i>0.936</i><i>1.014</i><i>1.094</i><i>0.893</i><i>1.073</i><i>0.972</i><i>0.853</i><i>1.090</i><i>0.684</i><i>1.192</i><i>0.930</i><i>0.801</i><i>0.734</i><i>3.010</i><i>1.589</i><i>0.848</i><i>3.200</i><i>0.523</i><i>0.951</i><i>0.536</i><i>0.414</i><i>0.552</i><i>0.415</i><i>0.364</i><i>0.438</i><i>0.329</i><i>0.396</i><i>0.314</i><i>0.349</i><i>0.342</i><i>0.281</i><i>0.308</i><i>0.304</i><i>0.317</i><i>0.300</i><i>0.272</i><i>0.350</i><i>0.337</i><i>0.325</i><i>0.409</i><i>0.482</i><i>0.271</i><i>0.315</i><i>0.286</i><i>0.322</i><i>0.346</i><i>0.291</i><i>0.314</i><i>0.095</i><i>0.319</i><i>0.336</i><i>0.076</i><i>0.270</i><i>0.857</i><i>0.083</i><i>0.127</i><i>0.056</i><i>0.364</i><i>0.000</i><i>0.021</i><i>0.077</i><i>0.238</i><i>0.082</i><i>0.056</i><i>0.117</i><i>0.294</i><i>0.125</i><i>0.207</i><i>0.209</i><i>0.166</i><i>0.106</i><i>0.315</i><i>0.140</i><i>0.181</i><i>0.138</i></div>
<div class="r" style="top:682.86px;height:8.72px;line-height:11.12px"><i>3.817</i><i>1.048</i><i>1.353</i><i>2.561</i><i>0.889</i><i>1.053</i><i>0.917</i><i>0.905</i><i>0.936</i><i>0.925</i><i>1.005</i><i>1.086</i><i>0.883</i><i>1.065</i><i>0.963</i><i>0.844</i><i>1.084</i><i>0.703</i><i>1.188</i><i>0.923</i><i>0.793</i><i>0.752</i><i>3.091</i><i>1.598</i><i>0.842</i><i>3.300</i><i>0.543</i><i>0.947</i><i>0.555</i><i>0.407</i><i>0.544</i><i>0.407</i><i>0.385</i><i>0.431</i><i>0.345</i><i>0.389</i><i>0.309</i><i>0.342</i><i>0.335</i><i>0.274</i><i>0.301</i><i>0.297</i><i>0.310</i><i>0.293</i><i>0.266</i><i>0.343</i><i>0.330</i><i>0.319</i><i>0.403</i><i>0.477</i><i>0.264</i><i>0.309</i><i>0.280</i><i>0.316</i><i>0.341</i><i>0.285</i><i>0.308</i><i>0.116</i><i>0.313</i><i>0.330</i><i>0.069</i><i>0.290</i><i>0.860</i><i>0.076</i><i>0.121</i><i>0.050</i><i>0.384</i><i>0.021</i><i>0.000</i><i>0.056</i><i>0.244</i><i>0.060</i><i>0.034</i><i>0.095</i><i>0.274</i><i>0.132</i><i>0.213</i><i>0.215</i><i>0.173</i><i>0.085</i><i>0.320</i><i>0.147</i><i>0.187</i><i>0.145</i></div>
<div class="r" style="top:691.58px;height:8.72px;line-height:11.12px"><i>4.216</i><i>1.000</i><i>1.312</i><i>2.652</i><i>0.939</i><i>1.008</i><i>0.871</i><i>0.955</i><i>0.891</i><i>0.881</i><i>0.962</i><i>1.046</i><i>0.840</i><i>1.027</i><i>0.923</i><i>0.802</i><i>1.049</i><i>0.755</i><i>1.161</i><i>0.885</i><i>0.752</i><i>0.803</i><i>3.410</i><i>1.614</i><i>0.805</i><i>3.702</i><i>0.597</i><i>0.917</i><i>0.609</i><i>0.452</i><i>0.503</i><i>0.395</i><i>0.439</i><i>0.389</i><i>0.400</i><i>0.347</i><i>0.364</i><i>0.303</i><i>0.293</i><i>0.324</i><i>0.272</i><i>0.256</i><i>0.269</i><i>0.252</i><i>0.224</i><i>0.302</i><i>0.289</i><i>0.278</i><i>0.364</i><i>0.439</i><i>0.223</i><i>0.269</i><i>0.239</i><i>0.276</i><i>0.301</i><i>0.245</i><i>0.269</i><i>0.172</i><i>0.274</i><i>0.292</i><i>0.112</i><i>0.343</i><i>0.850</i><i>0.056</i><i>0.080</i><i>0.051</i><i>0.432</i><i>0.077</i><i>0.056</i><i>0.000</i><i>0.282</i><i>0.024</i><i>0.064</i><i>0.040</i><i>0.220</i><i>0.173</i><i>0.253</i><i>0.255</i><i>0.213</i><i>0.106</i><i>0.358</i><i>0.188</i><i>0.228</i><i>0.186</i></div>
<div class="r" style="top:700.3px;height:8.94px;line-height:11.34px"><i>2.832</i><i>1.273</i><i>1.529</i><i>2.279</i><i>1.121</i><i>1.269</i><i>1.145</i><i>0.959</i><i>1.158</i><i>1.147</i><i>1.213</i><i>1.276</i><i>1.104</i><i>1.252</i><i>1.166</i><i>1.063</i><i>1.255</i><i>0.739</i><i>1.325</i><i>1.117</i><i>1.007</i><i>0.544</i><i>2.286</i><i>1.569</i><i>1.037</i><i>2.331</i><i>0.595</i><i>1.110</i><i>0.522</i><i>0.648</i><i>0.773</i><i>0.647</i><i>0.578</i><i>0.667</i><i>0.565</i><i>0.626</i><i>0.549</i><i>0.582</i><i>0.574</i><i>0.516</i><i>0.542</i><i>0.537</i><i>0.549</i><i>0.532</i><i>0.506</i><i>0.575</i><i>0.562</i><i>0.551</i><i>0.623</i><i>0.684</i><i>0.499</i><i>0.538</i><i>0.511</i><i>0.542</i><i>0.562</i><i>0.513</i><i>0.532</i><i>0.305</i><i>0.533</i><i>0.547</i><i>0.313</i><i>0.075</i><i>0.940</i><i>0.318</i><i>0.358</i><i>0.292</i><i>0.182</i><i>0.238</i><i>0.244</i><i>0.282</i><i>0.000</i><i>0.273</i><i>0.249</i><i>0.306</i><i>0.466</i><i>0.184</i><i>0.116</i><i>0.127</i><i>0.183</i><i>0.300</i><i>0.077</i><i>0.245</i><i>0.217</i><i>0.271</i></div>
<div class="r" style="top:709.24px;height:8.94px;line-height:11.34px"><i>4.127</i><i>1.011</i><i>1.322</i><i>2.635</i><i>0.932</i><i>1.021</i><i>0.885</i><i>0.950</i><i>0.906</i><i>0.896</i><i>0.978</i><i>1.062</i><i>0.857</i><i>1.043</i><i>0.940</i><i>0.820</i><i>1.066</i><i>0.755</i><i>1.177</i><i>0.903</i><i>0.771</i><i>0.804</i><i>3.350</i><i>1.623</i><i>0.824</i><i>3.623</i><i>0.598</i><i>0.936</i><i>0.611</i><i>0.454</i><i>0.525</i><i>0.398</i><i>0.442</i><i>0.411</i><i>0.402</i><i>0.369</i><i>0.367</i><i>0.323</i><i>0.316</i><i>0.327</i><i>0.283</i><i>0.279</i><i>0.292</i><i>0.275</i><i>0.247</i><i>0.326</i><i>0.313</i><i>0.301</i><i>0.387</i><i>0.462</i><i>0.247</i><i>0.292</i><i>0.263</i><i>0.300</i><i>0.325</i><i>0.269</i><i>0.292</i><i>0.176</i><i>0.297</i><i>0.315</i><i>0.116</i><i>0.348</i><i>0.868</i><i>0.060</i><i>0.104</i><i>0.056</i><i>0.438</i><i>0.082</i><i>0.060</i><i>0.024</i><i>0.273</i><i>0.000</i><i>0.040</i><i>0.035</i><i>0.215</i><i>0.149</i><i>0.229</i><i>0.231</i><i>0.189</i><i>0.082</i><i>0.335</i><i>0.164</i><i>0.204</i><i>0.162</i></div>
<div class="r" style="top:718.18px;height:8.94px;line-height:11.34px"><i>3.861</i><i>1.044</i><i>1.351</i><i>2.575</i><i>0.901</i><i>1.055</i><i>0.920</i><i>0.920</i><i>0.940</i><i>0.931</i><i>1.012</i><i>1.094</i><i>0.892</i><i>1.075</i><i>0.974</i><i>0.855</i><i>1.096</i><i>0.727</i><i>1.203</i><i>0.937</i><i>0.807</i><i>0.778</i><i>3.145</i><i>1.620</i><i>0.859</i><i>3.364</i><i>0.571</i><i>0.966</i><i>0.584</i><i>0.427</i><i>0.563</i><i>0.426</i><i>0.415</i><i>0.450</i><i>0.376</i><i>0.408</i><i>0.340</i><i>0.362</i><i>0.355</i><i>0.301</i><i>0.322</i><i>0.318</i><i>0.331</i><i>0.314</i><i>0.287</i><i>0.365</i><i>0.352</i><i>0.341</i><i>0.425</i><i>0.499</i><i>0.286</i><i>0.331</i><i>0.302</i><i>0.338</i><i>0.363</i><i>0.308</i><i>0.331</i><i>0.150</i><i>0.336</i><i>0.353</i><i>0.092</i><i>0.324</i><i>0.886</i><i>0.099</i><i>0.143</i><i>0.072</i><i>0.417</i><i>0.056</i><i>0.034</i><i>0.064</i><i>0.249</i><i>0.040</i><i>0.000</i><i>0.061</i><i>0.240</i><i>0.109</i><i>0.190</i><i>0.192</i><i>0.150</i><i>0.051</i><i>0.297</i><i>0.124</i><i>0.165</i><i>0.122</i></div>
<div class="r" style="top:727.12px;height:8.94px;line-height:11.34px"><i>4.331</i><i>0.991</i><i>1.306</i><i>2.680</i><i>0.956</i><i>1.004</i><i>0.868</i><i>0.976</i><i>0.890</i><i>0.880</i><i>0.963</i><i>1.049</i><i>0.843</i><i>1.032</i><i>0.928</i><i>0.807</i><i>1.057</i><i>0.784</i><i>1.171</i><i>0.893</i><i>0.760</i><i>0.833</i><i>3.517</i><i>1.638</i><i>0.816</i><i>3.836</i><i>0.630</i><i>0.930</i><i>0.643</i><i>0.487</i><i>0.515</i><i>0.430</i><i>0.475</i><i>0.402</i><i>0.436</i><i>0.360</i><i>0.401</i><i>0.340</i><i>0.323</i><i>0.361</i><i>0.310</i><i>0.291</i><i>0.284</i><i>0.267</i><i>0.256</i><i>0.318</i><i>0.305</i><i>0.294</i><i>0.380</i><i>0.456</i><i>0.239</i><i>0.285</i><i>0.255</i><i>0.292</i><i>0.318</i><i>0.261</i><i>0.285</i><i>0.211</i><i>0.291</i><i>0.309</i><i>0.151</i><i>0.381</i><i>0.874</i><i>0.095</i><i>0.096</i><i>0.091</i><i>0.470</i><i>0.117</i><i>0.095</i><i>0.040</i><i>0.306</i><i>0.035</i><i>0.061</i><i>0.000</i><i>0.181</i><i>0.156</i><i>0.235</i><i>0.237</i><i>0.196</i><i>0.089</i><i>0.341</i><i>0.171</i><i>0.211</i><i>0.169</i></div>
<div class="r" style="top:736.06px;height:8.94px;line-height:11.34px"><i>8.644</i><i>1.130</i><i>1.144</i><i>3.206</i><i>1.129</i><i>0.917</i><i>1.005</i><i>1.144</i><i>0.893</i><i>0.859</i><i>0.793</i><i>0.886</i><i>0.771</i><i>0.871</i><i>0.761</i><i>0.690</i><i>0.906</i><i>0.953</i><i>1.045</i><i>0.731</i><i>0.591</i><i>0.991</i><i>6.377</i><i>1.697</i><i>0.654</i><i>8.097</i><i>0.801</i><i>0.788</i><i>0.810</i><i>0.664</i><i>0.501</i><i>0.609</i><i>0.651</i><i>0.534</i><i>0.613</i><i>0.524</i><i>0.578</i><i>0.520</i><i>0.503</i><i>0.539</i><i>0.490</i><i>0.471</i><i>0.436</i><i>0.431</i><i>0.437</i><i>0.339</i><i>0.331</i><i>0.322</i><i>0.214</i><i>0.292</i><i>0.317</i><i>0.252</i><i>0.263</i><i>0.207</i><i>0.162</i><i>0.202</i><i>0.160</i><i>0.388</i><i>0.123</i><i>0.142</i><i>0.330</i><i>0.540</i><i>0.806</i><i>0.276</i><i>0.217</i><i>0.271</i><i>0.610</i><i>0.294</i><i>0.274</i><i>0.220</i><i>0.466</i><i>0.215</i><i>0.240</i><i>0.181</i><i>0.000</i><i>0.315</i><i>0.389</i><i>0.391</i><i>0.354</i><i>0.254</i><i>0.485</i><i>0.332</i><i>0.370</i><i>0.332</i></div>
<div class="r" style="top:745px;height:8.84px;line-height:11.24px"><i>3.343</i><i>1.133</i><i>1.425</i><i>2.444</i><i>0.982</i><i>1.144</i><i>1.013</i><i>0.838</i><i>1.034</i><i>1.024</i><i>1.101</i><i>1.178</i><i>0.987</i><i>1.159</i><i>1.064</i><i>0.951</i><i>1.176</i><i>0.651</i><i>1.269</i><i>1.025</i><i>0.903</i><i>0.706</i><i>2.740</i><i>1.617</i><i>0.949</i><i>2.864</i><i>0.499</i><i>1.045</i><i>0.513</i><i>0.530</i><i>0.665</i><i>0.531</i><i>0.460</i><i>0.555</i><i>0.448</i><i>0.514</i><i>0.433</i><i>0.469</i><i>0.462</i><i>0.401</i><i>0.429</i><i>0.425</i><i>0.438</i><i>0.421</i><i>0.394</i><i>0.470</i><i>0.457</i><i>0.446</i><i>0.527</i><i>0.597</i><i>0.393</i><i>0.436</i><i>0.408</i><i>0.443</i><i>0.466</i><i>0.412</i><i>0.434</i><i>0.191</i><i>0.438</i><i>0.455</i><i>0.201</i><i>0.259</i><i>0.935</i><i>0.208</i><i>0.251</i><i>0.181</i><i>0.359</i><i>0.125</i><i>0.132</i><i>0.173</i><i>0.184</i><i>0.149</i><i>0.109</i><i>0.156</i><i>0.315</i><i>0.000</i><i>0.082</i><i>0.084</i><i>0.041</i><i>0.119</i><i>0.192</i><i>0.062</i><i>0.056</i><i>0.088</i></div>
<div class="r" style="top:753.84px;height:8.84px;line-height:11.24px"><i>3.048</i><i>1.206</i><i>1.482</i><i>2.356</i><i>1.057</i><i>1.214</i><i>1.087</i><i>0.898</i><i>1.106</i><i>1.097</i><i>1.169</i><i>1.240</i><i>1.059</i><i>1.220</i><i>1.130</i><i>1.022</i><i>1.232</i><i>0.690</i><i>1.314</i><i>1.089</i><i>0.973</i><i>0.636</i><i>2.498</i><i>1.609</i><i>1.013</i><i>2.575</i><i>0.552</i><i>1.098</i><i>0.481</i><i>0.610</i><i>0.740</i><i>0.610</i><i>0.541</i><i>0.633</i><i>0.528</i><i>0.593</i><i>0.513</i><i>0.548</i><i>0.541</i><i>0.482</i><i>0.509</i><i>0.505</i><i>0.517</i><i>0.500</i><i>0.474</i><i>0.547</i><i>0.534</i><i>0.523</i><i>0.600</i><i>0.665</i><i>0.471</i><i>0.512</i><i>0.484</i><i>0.517</i><i>0.539</i><i>0.488</i><i>0.509</i><i>0.273</i><i>0.511</i><i>0.526</i><i>0.281</i><i>0.191</i><i>0.962</i><i>0.288</i><i>0.330</i><i>0.262</i><i>0.295</i><i>0.207</i><i>0.213</i><i>0.253</i><i>0.116</i><i>0.229</i><i>0.190</i><i>0.235</i><i>0.389</i><i>0.082</i><i>0.000</i><i>0.011</i><i>0.067</i><i>0.187</i><i>0.111</i><i>0.131</i><i>0.102</i><i>0.157</i></div>
<div class="r" style="top:762.68px;height:8.84px;line-height:11.24px"><i>3.064</i><i>1.202</i><i>1.479</i><i>2.362</i><i>1.054</i><i>1.211</i><i>1.085</i><i>0.895</i><i>1.104</i><i>1.095</i><i>1.168</i><i>1.240</i><i>1.057</i><i>1.220</i><i>1.130</i><i>1.022</i><i>1.232</i><i>0.689</i><i>1.316</i><i>1.090</i><i>0.973</i><i>0.645</i><i>2.516</i><i>1.615</i><i>1.014</i><i>2.596</i><i>0.553</i><i>1.100</i><i>0.481</i><i>0.610</i><i>0.741</i><i>0.611</i><i>0.541</i><i>0.634</i><i>0.529</i><i>0.594</i><i>0.514</i><i>0.549</i><i>0.542</i><i>0.483</i><i>0.510</i><i>0.506</i><i>0.518</i><i>0.502</i><i>0.475</i><i>0.549</i><i>0.536</i><i>0.525</i><i>0.602</i><i>0.668</i><i>0.473</i><i>0.514</i><i>0.486</i><i>0.520</i><i>0.542</i><i>0.490</i><i>0.511</i><i>0.275</i><i>0.514</i><i>0.529</i><i>0.283</i><i>0.202</i><i>0.968</i><i>0.290</i><i>0.332</i><i>0.264</i><i>0.306</i><i>0.209</i><i>0.215</i><i>0.255</i><i>0.127</i><i>0.231</i><i>0.192</i><i>0.237</i><i>0.391</i><i>0.084</i><i>0.011</i><i>0.000</i><i>0.056</i><i>0.176</i><i>0.109</i><i>0.119</i><i>0.091</i><i>0.146</i></div>
<div class="r" style="top:771.52px;height:8.84px;line-height:11.24px"><i>3.251</i><i>1.155</i><i>1.443</i><i>2.419</i><i>1.007</i><i>1.168</i><i>1.039</i><i>0.848</i><i>1.060</i><i>1.052</i><i>1.128</i><i>1.204</i><i>1.015</i><i>1.186</i><i>1.092</i><i>0.981</i><i>1.202</i><i>0.643</i><i>1.293</i><i>1.055</i><i>0.934</i><i>0.699</i><i>2.676</i><i>1.628</i><i>0.980</i><i>2.785</i><i>0.508</i><i>1.074</i><i>0.507</i><i>0.567</i><i>0.701</i><i>0.568</i><i>0.498</i><i>0.592</i><i>0.486</i><i>0.552</i><i>0.471</i><i>0.507</i><i>0.500</i><i>0.440</i><i>0.468</i><i>0.464</i><i>0.477</i><i>0.460</i><i>0.433</i><i>0.509</i><i>0.496</i><i>0.485</i><i>0.565</i><i>0.633</i><i>0.432</i><i>0.475</i><i>0.447</i><i>0.481</i><i>0.504</i><i>0.451</i><i>0.473</i><i>0.232</i><i>0.477</i><i>0.493</i><i>0.241</i><i>0.257</i><i>0.960</i><i>0.248</i><i>0.291</i><i>0.222</i><i>0.359</i><i>0.166</i><i>0.173</i><i>0.213</i><i>0.183</i><i>0.189</i><i>0.150</i><i>0.196</i><i>0.354</i><i>0.041</i><i>0.067</i><i>0.056</i><i>0.000</i><i>0.121</i><i>0.151</i><i>0.064</i><i>0.035</i><i>0.090</i></div>
<div class="r" style="top:780.36px;height:8.84px;line-height:11.24px"><i>3.897</i><i>1.042</i><i>1.352</i><i>2.590</i><i>0.914</i><i>1.061</i><i>0.928</i><i>0.939</i><i>0.952</i><i>0.944</i><i>1.027</i><i>1.111</i><i>0.910</i><i>1.095</i><i>0.994</i><i>0.877</i><i>1.120</i><i>0.759</i><i>1.229</i><i>0.963</i><i>0.834</i><i>0.814</i><i>3.205</i><i>1.655</i><i>0.889</i><i>3.432</i><i>0.611</i><i>0.998</i><i>0.626</i><i>0.469</i><i>0.596</i><i>0.459</i><i>0.459</i><i>0.485</i><i>0.420</i><i>0.444</i><i>0.386</i><i>0.399</i><i>0.392</i><i>0.347</i><i>0.360</i><i>0.356</i><i>0.370</i><i>0.353</i><i>0.325</i><i>0.404</i><i>0.391</i><i>0.380</i><i>0.465</i><i>0.539</i><i>0.326</i><i>0.371</i><i>0.342</i><i>0.379</i><i>0.404</i><i>0.348</i><i>0.372</i><i>0.200</i><i>0.377</i><i>0.395</i><i>0.141</i><i>0.374</i><i>0.931</i><i>0.140</i><i>0.185</i><i>0.114</i><i>0.468</i><i>0.106</i><i>0.085</i><i>0.106</i><i>0.300</i><i>0.082</i><i>0.051</i><i>0.089</i><i>0.254</i><i>0.119</i><i>0.187</i><i>0.176</i><i>0.121</i><i>0.000</i><i>0.255</i><i>0.082</i><i>0.123</i><i>0.081</i></div>
<div class="r" style="top:789.2px;height:8.7px;line-height:11.1px"><i>2.811</i><i>1.286</i><i>1.542</i><i>2.280</i><i>1.144</i><i>1.293</i><i>1.173</i><i>0.990</i><i>1.191</i><i>1.181</i><i>1.249</i><i>1.313</i><i>1.144</i><i>1.293</i><i>1.209</i><i>1.109</i><i>1.300</i><i>0.789</i><i>1.371</i><i>1.168</i><i>1.060</i><i>0.600</i><i>2.312</i><i>1.616</i><i>1.093</i><i>2.356</i><i>0.656</i><i>1.167</i><i>0.586</i><i>0.712</i><i>0.836</i><i>0.712</i><i>0.644</i><i>0.733</i><i>0.632</i><i>0.694</i><i>0.617</i><i>0.651</i><i>0.644</i><i>0.586</i><i>0.612</i><i>0.608</i><i>0.619</i><i>0.603</i><i>0.577</i><i>0.647</i><i>0.634</i><i>0.624</i><i>0.695</i><i>0.755</i><i>0.573</i><i>0.611</i><i>0.585</i><i>0.615</i><i>0.635</i><i>0.587</i><i>0.606</i><i>0.381</i><i>0.607</i><i>0.621</i><i>0.388</i><i>0.138</i><i>1.008</i><i>0.394</i><i>0.434</i><i>0.368</i><i>0.238</i><i>0.315</i><i>0.320</i><i>0.358</i><i>0.077</i><i>0.335</i><i>0.297</i><i>0.341</i><i>0.485</i><i>0.192</i><i>0.111</i><i>0.109</i><i>0.151</i><i>0.255</i><i>0.000</i><i>0.189</i><i>0.161</i><i>0.214</i></div>
<div class="r" style="top:797.9px;height:8.7px;line-height:11.1px"><i>3.460</i><i>1.112</i><i>1.410</i><i>2.481</i><i>0.965</i><i>1.131</i><i>1.000</i><i>0.873</i><i>1.024</i><i>1.016</i><i>1.096</i><i>1.176</i><i>0.982</i><i>1.159</i><i>1.063</i><i>0.950</i><i>1.180</i><i>0.697</i><i>1.279</i><i>1.030</i><i>0.906</i><i>0.755</i><i>2.861</i><i>1.649</i><i>0.957</i><i>3.007</i><i>0.551</i><i>1.058</i><i>0.566</i><i>0.537</i><i>0.674</i><i>0.539</i><i>0.468</i><i>0.564</i><i>0.457</i><i>0.524</i><i>0.443</i><i>0.479</i><i>0.473</i><i>0.412</i><i>0.440</i><i>0.437</i><i>0.450</i><i>0.433</i><i>0.406</i><i>0.483</i><i>0.471</i><i>0.460</i><i>0.542</i><i>0.613</i><i>0.407</i><i>0.451</i><i>0.422</i><i>0.458</i><i>0.482</i><i>0.428</i><i>0.450</i><i>0.205</i><i>0.455</i><i>0.471</i><i>0.215</i><i>0.320</i><i>0.966</i><i>0.222</i><i>0.266</i><i>0.196</i><i>0.418</i><i>0.140</i><i>0.147</i><i>0.188</i><i>0.245</i><i>0.164</i><i>0.124</i><i>0.171</i><i>0.332</i><i>0.062</i><i>0.131</i><i>0.119</i><i>0.064</i><i>0.082</i><i>0.189</i><i>0.000</i><i>0.041</i><i>0.026</i></div>
<div class="r" style="top:806.6px;height:8.7px;line-height:11.1px"><i>3.296</i><i>1.146</i><i>1.438</i><i>2.436</i><i>1.001</i><i>1.164</i><i>1.036</i><i>0.845</i><i>1.059</i><i>1.051</i><i>1.129</i><i>1.206</i><i>1.017</i><i>1.190</i><i>1.096</i><i>0.985</i><i>1.209</i><i>0.666</i><i>1.303</i><i>1.062</i><i>0.941</i><i>0.725</i><i>2.729</i><i>1.647</i><i>0.990</i><i>2.847</i><i>0.521</i><i>1.086</i><i>0.536</i><i>0.576</i><i>0.711</i><i>0.578</i><i>0.508</i><i>0.603</i><i>0.496</i><i>0.563</i><i>0.482</i><i>0.518</i><i>0.512</i><i>0.452</i><i>0.480</i><i>0.476</i><i>0.489</i><i>0.473</i><i>0.446</i><i>0.522</i><i>0.509</i><i>0.499</i><i>0.579</i><i>0.648</i><i>0.446</i><i>0.489</i><i>0.461</i><i>0.496</i><i>0.519</i><i>0.466</i><i>0.488</i><i>0.246</i><i>0.492</i><i>0.508</i><i>0.255</i><i>0.292</i><i>0.982</i><i>0.262</i><i>0.306</i><i>0.236</i><i>0.393</i><i>0.181</i><i>0.187</i><i>0.228</i><i>0.217</i><i>0.204</i><i>0.165</i><i>0.211</i><i>0.370</i><i>0.056</i><i>0.102</i><i>0.091</i><i>0.035</i><i>0.123</i><i>0.161</i><i>0.041</i><i>0.000</i><i>0.055</i></div>
<div class="r" style="top:815.3px;height:8.7px;line-height:11.1px"><i>3.536</i><i>1.099</i><i>1.400</i><i>2.503</i><i>0.954</i><i>1.120</i><i>0.989</i><i>0.891</i><i>1.015</i><i>1.007</i><i>1.088</i><i>1.169</i><i>0.974</i><i>1.153</i><i>1.057</i><i>0.943</i><i>1.176</i><i>0.718</i><i>1.278</i><i>1.026</i><i>0.901</i><i>0.777</i><i>2.931</i><i>1.660</i><i>0.954</i><i>3.091</i><i>0.574</i><i>1.057</i><i>0.589</i><i>0.532</i><i>0.670</i><i>0.535</i><i>0.464</i><i>0.560</i><i>0.453</i><i>0.520</i><i>0.439</i><i>0.476</i><i>0.469</i><i>0.409</i><i>0.437</i><i>0.434</i><i>0.447</i><i>0.430</i><i>0.404</i><i>0.481</i><i>0.468</i><i>0.457</i><i>0.540</i><i>0.612</i><i>0.404</i><i>0.449</i><i>0.420</i><i>0.456</i><i>0.480</i><i>0.426</i><i>0.449</i><i>0.203</i><i>0.453</i><i>0.470</i><i>0.213</i><i>0.345</i><i>0.973</i><i>0.220</i><i>0.264</i><i>0.194</i><i>0.443</i><i>0.138</i><i>0.145</i><i>0.186</i><i>0.271</i><i>0.162</i><i>0.122</i><i>0.169</i><i>0.332</i><i>0.088</i><i>0.157</i><i>0.146</i><i>0.090</i><i>0.081</i><i>0.214</i><i>0.026</i><i>0.055</i><i>0.000</i></div>
<svg width="1200" height="825" viewBox="0 0 1200 825"><rect x="86.3" y="68" width="0.6" height="7.5" fill="#bdbdbd"/><rect x="99.55" y="68" width="0.6" height="7.5" fill="#bdbdbd"/><rect x="112.8" y="68" width="0.6" height="7.5" fill="#bdbdbd"/><rect x="126.05" y="68" width="0.6" height="7.5" fill="#bdbdbd"/><rect x="139.3" y="68" width="0.6" height="7.5" fill="#bdbdbd"/><rect x="152.55" y="68" width="0.6" height="7.5" fill="#bdbdbd"/><rect x="165.8" y="68" width="0.6" height="7.5" fill="#bdbdbd"/><rect x="179.05" y="68" width="0.6" height="7.5" fill="#bdbdbd"/><rect x="192.3" y="68" width="0.6" height="7.5" fill="#bdbdbd"/><rect x="205.55" y="68" width="0.6" height="7.5" fill="#bdbdbd"/><rect x="218.8" y="68" width="0.6" height="7.5" fill="#bdbdbd"/><rect x="232.05" y="68" width="0.6" height="7.5" fill="#bdbdbd"/><rect x="245.3" y="68" width="0.6" height="7.5" fill="#bdbdbd"/><rect x="258.55" y="68" width="0.6" height="7.5" fill="#bdbdbd"/><rect x="271.8" y="68" width="0.6" height="7.5" fill="#bdbdbd"/><rect x="285.05" y="68" width="0.6" height="7.5" fill="#bdbdbd"/><rect x="298.3" y="68" width="0.6" height="7.5" fill="#bdbdbd"/><rect x="311.55" y="68" width="0.6" height="7.5" fill="#bdbdbd"/><rect x="324.8" y="68" width="0.6" height="7.5" fill="#bdbdbd"/><rect x="338.05" y="68" width="0.6" height="7.5" fill="#bdbdbd"/><rect x="351.3" y="68" width="0.6" height="7.5" fill="#bdbdbd"/><rect x="364.55" y="68" width="0.6" height="7.5" fill="#bdbdbd"/><rect x="377.8" y="68" width="0.6" height="7.5" fill="#bdbdbd"/><rect x="74.8" y="84.14" width="11.8" height="0.6" fill="#c4c4c4"/><rect x="74.8" y="93.08" width="11.8" height="0.6" fill="#c4c4c4"/><rect x="74.8" y="102.02" width="11.8" height="0.6" fill="#c4c4c4"/><rect x="74.8" y="110.96" width="11.8" height="0.6" fill="#c4c4c4"/><rect x="74.8" y="119.9" width="11.8" height="0.6" fill="#c4c4c4"/><rect x="74.8" y="128.58" width="11.8" height="0.6" fill="#c4c4c4"/><rect x="74.8" y="137.26" width="11.8" height="0.6" fill="#c4c4c4"/><rect x="74.8" y="145.94" width="11.8" height="0.6" fill="#c4c4c4"/><rect x="74.8" y="154.62" width="11.8" height="0.6" fill="#c4c4c4"/><rect x="74.8" y="163.3" width="11.8" height="0.6" fill="#c4c4c4"/><rect x="74.8" y="172.28" width="11.8" height="0.6" fill="#c4c4c4"/><rect x="74.8" y="181.26" width="11.8" height="0.6" fill="#c4c4c4"/><rect x="74.8" y="190.24" width="11.8" height="0.6" fill="#c4c4c4"/><rect x="74.8" y="199.22" width="11.8" height="0.6" fill="#c4c4c4"/><rect x="74.8" y="208.2" width="11.8" height="0.6" fill="#c4c4c4"/><rect x="74.8" y="216.82" width="11.8" height="0.6" fill="#c4c4c4"/><rect x="74.8" y="225.44" width="11.8" height="0.6" fill="#c4c4c4"/><rect x="74.8" y="234.06" width="11.8" height="0.6" fill="#c4c4c4"/><rect x="74.8" y="242.68" width="11.8" height="0.6" fill="#c4c4c4"/><rect x="74.8" y="251.3" width="11.8" height="0.6" fill="#c4c4c4"/><rect x="74.8" y="260.38" width="11.8" height="0.6" fill="#c4c4c4"/><rect x="74.8" y="269.46" width="11.8" height="0.6" fill="#c4c4c4"/><rect x="86.2" y="68" width="0.7" height="757" fill="#8a8a8a"/><rect x="74.8" y="75.1" width="1125.2" height="0.8" fill="#222"/><rect x="152.3" y="75.5" width="1.1" height="750" fill="#4a4a4a"/><rect x="218.55" y="75.5" width="1.1" height="750" fill="#4a4a4a"/><rect x="284.8" y="75.5" width="1.1" height="750" fill="#4a4a4a"/><rect x="351.05" y="75.5" width="1.1" height="750" fill="#4a4a4a"/><rect x="417.3" y="75.5" width="1.1" height="750" fill="#4a4a4a"/><rect x="483.55" y="75.5" width="1.1" height="750" fill="#4a4a4a"/><rect x="549.8" y="75.5" width="1.1" height="750" fill="#4a4a4a"/><rect x="616.05" y="75.5" width="1.1" height="750" fill="#4a4a4a"/><rect x="682.3" y="75.5" width="1.1" height="750" fill="#4a4a4a"/><rect x="748.55" y="75.5" width="1.1" height="750" fill="#4a4a4a"/><rect x="814.8" y="75.5" width="1.1" height="750" fill="#4a4a4a"/><rect x="881.05" y="75.5" width="1.1" height="750" fill="#4a4a4a"/><rect x="947.3" y="75.5" width="1.1" height="750" fill="#4a4a4a"/><rect x="1013.55" y="75.5" width="1.1" height="750" fill="#4a4a4a"/><rect x="1079.8" y="75.5" width="1.1" height="750" fill="#4a4a4a"/><rect x="1146.05" y="75.5" width="1.1" height="750" fill="#4a4a4a"/><rect x="86.6" y="119.7" width="1113.4" height="1.2" fill="#444"/><rect x="86.6" y="163.1" width="1113.4" height="1.2" fill="#444"/><rect x="86.6" y="208" width="1113.4" height="1.2" fill="#444"/><rect x="86.6" y="251.1" width="1113.4" height="1.2" fill="#444"/><rect x="86.6" y="296.5" width="1113.4" height="1.2" fill="#444"/><rect x="86.6" y="341.1" width="1113.4" height="1.2" fill="#444"/><rect x="86.6" y="384" width="1113.4" height="1.2" fill="#444"/><rect x="86.6" y="431.9" width="1113.4" height="1.2" fill="#444"/><rect x="86.6" y="479.7" width="1113.4" height="1.2" fill="#444"/><rect x="86.6" y="523.5" width="1113.4" height="1.2" fill="#444"/><rect x="86.6" y="565.9" width="1113.4" height="1.2" fill="#444"/><rect x="86.6" y="612.6" width="1113.4" height="1.2" fill="#444"/><rect x="86.6" y="656.2" width="1113.4" height="1.2" fill="#444"/><rect x="86.6" y="699.8" width="1113.4" height="1.2" fill="#444"/><rect x="86.6" y="744.5" width="1113.4" height="1.2" fill="#444"/><rect x="86.6" y="788.7" width="1113.4" height="1.2" fill="#444"/><rect x="1198.4" y="68" width="1.6" height="757" fill="#808080"/><rect x="86.6" y="823.6" width="1113.4" height="1.4" fill="#8c8c8c"/></svg>
<div class="hd" style="left:86.6px">H</div><div class="hd" style="left:99.85px">D</div><div class="hd" style="left:113.1px">He</div><div class="hd" style="left:126.35px">Li</div><div class="hd" style="left:139.6px">Be</div><div class="hd" style="left:152.85px">B</div><div class="hd" style="left:166.1px">C</div><div class="hd" style="left:179.35px">N</div><div class="hd" style="left:192.6px">O</div><div class="hd" style="left:205.85px">F</div><div class="hd" style="left:219.1px">Ne</div><div class="hd" style="left:232.35px">Na</div><div class="hd" style="left:245.6px">Mg</div><div class="hd" style="left:258.85px">Al</div><div class="hd" style="left:272.1px">Si</div><div class="hd" style="left:285.35px">P</div><div class="hd" style="left:298.6px">S</div><div class="hd" style="left:311.85px">Cl</div><div class="hd" style="left:325.1px">Ar</div><div class="hd" style="left:338.35px">K</div><div class="hd" style="left:351.6px">Ca</div><div class="hd" style="left:364.85px">Sc</div><div class="hd" style="left:378.1px">Ti</div><div class="hd" style="left:391.35px">V</div><div class="hd" style="left:404.6px">Cr</div><div class="hd" style="left:417.85px">Mn</div><div class="hd" style="left:431.1px">Fe</div><div class="hd" style="left:444.35px">Co</div><div class="hd" style="left:457.6px">Ni</div><div class="hd" style="left:470.85px">Cu</div><div class="hd" style="left:484.1px">Zn</div><div class="hd" style="left:497.35px">Ga</div><div class="hd" style="left:510.6px">Ge</div><div class="hd" style="left:523.85px">As</div><div class="hd" style="left:537.1px">Se</div><div class="hd" style="left:550.35px">Br</div><div class="hd" style="left:563.6px">Kr</div><div class="hd" style="left:576.85px">Rb</div><div class="hd" style="left:590.1px">Sr</div><div class="hd" style="left:603.35px">Y</div><div class="hd" style="left:616.6px">Zr</div><div class="hd" style="left:629.85px">Nb</div><div class="hd" style="left:643.1px">Mo</div><div class="hd" style="left:656.35px">Tc</div><div class="hd" style="left:669.6px">Ru</div><div class="hd" style="left:682.85px">Rh</div><div class="hd" style="left:696.1px">Pd</div><div class="hd" style="left:709.35px">Ag</div><div class="hd" style="left:722.6px">Cd</div><div class="hd" style="left:735.85px">In</div><div class="hd" style="left:749.1px">Sn</div><div class="hd" style="left:762.35px">Sb</div><div class="hd" style="left:775.6px">Te</div><div class="hd" style="left:788.85px">I</div><div class="hd" style="left:802.1px">Xe</div><div class="hd" style="left:815.35px">Cs</div><div class="hd" style="left:828.6px">Ba</div><div class="hd" style="left:841.85px">La</div><div class="hd" style="left:855.1px">Ce</div><div class="hd" style="left:868.35px">Pr</div><div class="hd" style="left:881.6px">Nd</div><div class="hd" style="left:894.85px">Pm</div><div class="hd" style="left:908.1px">Sm</div><div class="hd" style="left:921.35px">Eu</div><div class="hd" style="left:934.6px">Gd</div><div class="hd" style="left:947.85px">Tb</div><div class="hd" style="left:961.1px">Dy</div><div class="hd" style="left:974.35px">Ho</div><div class="hd" style="left:987.6px">Er</div><div class="hd" style="left:1000.85px">Tm</div><div class="hd" style="left:1014.1px">Yb</div><div class="hd" style="left:1027.35px">Lu</div><div class="hd" style="left:1040.6px">Hf</div><div class="hd" style="left:1053.85px">Ta</div><div class="hd" style="left:1067.1px">W</div><div class="hd" style="left:1080.35px">Re</div><div class="hd" style="left:1093.6px">Os</div><div class="hd" style="left:1106.85px">Ir</div><div class="hd" style="left:1120.1px">Pt</div><div class="hd" style="left:1133.35px">Au</div><div class="hd" style="left:1146.6px">Hg</div><div class="hd" style="left:1159.85px">Tl</div><div class="hd" style="left:1173.1px">Pb</div><div class="hd" style="left:1186.35px">Bi</div>
<div class="rl" style="top:75.5px;height:8.94px;line-height:9.74px">H</div><div class="rl" style="top:84.44px;height:8.94px;line-height:9.74px">D</div><div class="rl" style="top:93.38px;height:8.94px;line-height:9.74px">He</div><div class="rl" style="top:102.32px;height:8.94px;line-height:9.74px">Li</div><div class="rl" style="top:111.26px;height:8.94px;line-height:9.74px">Be</div><div class="rl" style="top:120.2px;height:8.68px;line-height:9.48px">B</div><div class="rl" style="top:128.88px;height:8.68px;line-height:9.48px">C</div><div class="rl" style="top:137.56px;height:8.68px;line-height:9.48px">N</div><div class="rl" style="top:146.24px;height:8.68px;line-height:9.48px">O</div><div class="rl" style="top:154.92px;height:8.68px;line-height:9.48px">F</div><div class="rl" style="top:163.6px;height:8.98px;line-height:9.78px">Ne</div><div class="rl" style="top:172.58px;height:8.98px;line-height:9.78px">Na</div><div class="rl" style="top:181.56px;height:8.98px;line-height:9.78px">Mg</div><div class="rl" style="top:190.54px;height:8.98px;line-height:9.78px">Al</div><div class="rl" style="top:199.52px;height:8.98px;line-height:9.78px">Si</div><div class="rl" style="top:208.5px;height:8.62px;line-height:9.42px">P</div><div class="rl" style="top:217.12px;height:8.62px;line-height:9.42px">S</div><div class="rl" style="top:225.74px;height:8.62px;line-height:9.42px">Cl</div><div class="rl" style="top:234.36px;height:8.62px;line-height:9.42px">Ar</div><div class="rl" style="top:242.98px;height:8.62px;line-height:9.42px">K</div><div class="rl" style="top:251.6px;height:9.08px;line-height:9.88px">Ca</div><div class="rl" style="top:260.68px;height:9.08px;line-height:9.88px">Sc</div><div class="rl" style="top:269.76px;height:9.08px;line-height:9.88px">Ti</div><div class="rl" style="top:278.84px;height:9.08px;line-height:9.88px">V</div><div class="rl" style="top:287.92px;height:9.08px;line-height:9.88px">Cr</div><div class="rl" style="top:297px;height:8.92px;line-height:9.72px">Mn</div><div class="rl" style="top:305.92px;height:8.92px;line-height:9.72px">Fe</div><div class="rl" style="top:314.84px;height:8.92px;line-height:9.72px">Co</div><div class="rl" style="top:323.76px;height:8.92px;line-height:9.72px">Ni</div><div class="rl" style="top:332.68px;height:8.92px;line-height:9.72px">Cu</div><div class="rl" style="top:341.6px;height:8.58px;line-height:9.38px">Zn</div><div class="rl" style="top:350.18px;height:8.58px;line-height:9.38px">Ga</div><div class="rl" style="top:358.76px;height:8.58px;line-height:9.38px">Ge</div><div class="rl" style="top:367.34px;height:8.58px;line-height:9.38px">As</div><div class="rl" style="top:375.92px;height:8.58px;line-height:9.38px">Se</div><div class="rl" style="top:384.5px;height:8.9px;line-height:9.7px">Br</div><div class="rl" style="top:393.4px;height:8.7px;line-height:9.5px">Kr</div><div class="rl" style="top:402.1px;height:9.7px;line-height:10.5px">Rb</div><div class="rl" style="top:411.8px;height:9.7px;line-height:10.5px">Sr</div><div class="rl" style="top:421.5px;height:10.9px;line-height:11.7px">Y</div><div class="rl" style="top:432.4px;height:9.1px;line-height:9.9px">Zr</div><div class="rl" style="top:441.5px;height:9.6px;line-height:10.4px">Nb</div><div class="rl" style="top:451.1px;height:9.3px;line-height:10.1px">Mo</div><div class="rl" style="top:460.4px;height:9.4px;line-height:10.2px">Tc</div><div class="rl" style="top:469.8px;height:10.4px;line-height:11.2px">Ru</div><div class="rl" style="top:480.2px;height:8.76px;line-height:9.56px">Rh</div><div class="rl" style="top:488.96px;height:8.76px;line-height:9.56px">Pd</div><div class="rl" style="top:497.72px;height:8.76px;line-height:9.56px">Ag</div><div class="rl" style="top:506.48px;height:8.76px;line-height:9.56px">Cd</div><div class="rl" style="top:515.24px;height:8.76px;line-height:9.56px">In</div><div class="rl" style="top:524px;height:8.48px;line-height:9.28px">Sn</div><div class="rl" style="top:532.48px;height:8.48px;line-height:9.28px">Sb</div><div class="rl" style="top:540.96px;height:8.48px;line-height:9.28px">Te</div><div class="rl" style="top:549.44px;height:8.48px;line-height:9.28px">I</div><div class="rl" style="top:557.92px;height:8.48px;line-height:9.28px">Xe</div><div class="rl" style="top:566.4px;height:9.34px;line-height:10.14px">Cs</div><div class="rl" style="top:575.74px;height:9.34px;line-height:10.14px">Ba</div><div class="rl" style="top:585.08px;height:9.34px;line-height:10.14px">La</div><div class="rl" style="top:594.42px;height:9.34px;line-height:10.14px">Ce</div><div class="rl" style="top:603.76px;height:9.34px;line-height:10.14px">Pr</div><div class="rl" style="top:613.1px;height:8.72px;line-height:9.52px">Nd</div><div class="rl" style="top:621.82px;height:8.72px;line-height:9.52px">Pm</div><div class="rl" style="top:630.54px;height:8.72px;line-height:9.52px">Sm</div><div class="rl" style="top:639.26px;height:8.72px;line-height:9.52px">Eu</div><div class="rl" style="top:647.98px;height:8.72px;line-height:9.52px">Gd</div><div class="rl" style="top:656.7px;height:8.72px;line-height:9.52px">Tb</div><div class="rl" style="top:665.42px;height:8.72px;line-height:9.52px">Dy</div><div class="rl" style="top:674.14px;height:8.72px;line-height:9.52px">Ho</div><div class="rl" style="top:682.86px;height:8.72px;line-height:9.52px">Er</div><div class="rl" style="top:691.58px;height:8.72px;line-height:9.52px">Tm</div><div class="rl" style="top:700.3px;height:8.94px;line-height:9.74px">Yb</div><div class="rl" style="top:709.24px;height:8.94px;line-height:9.74px">Lu</div><div class="rl" style="top:718.18px;height:8.94px;line-height:9.74px">Hf</div><div class="rl" style="top:727.12px;height:8.94px;line-height:9.74px">Ta</div><div class="rl" style="top:736.06px;height:8.94px;line-height:9.74px">W</div><div class="rl" style="top:745px;height:8.84px;line-height:9.64px">Re</div><div class="rl" style="top:753.84px;height:8.84px;line-height:9.64px">Os</div><div class="rl" style="top:762.68px;height:8.84px;line-height:9.64px">Ir</div><div class="rl" style="top:771.52px;height:8.84px;line-height:9.64px">Pt</div><div class="rl" style="top:780.36px;height:8.84px;line-height:9.64px">Au</div><div class="rl" style="top:789.2px;height:8.7px;line-height:9.5px">Hg</div><div class="rl" style="top:797.9px;height:8.7px;line-height:9.5px">Tl</div><div class="rl" style="top:806.6px;height:8.7px;line-height:9.5px">Pb</div><div class="rl" style="top:815.3px;height:8.7px;line-height:9.5px">Bi</div>
<div class="box" style="left:732.6px;top:91.6px;width:446.2px;height:339.8px"></div>
<div class="box" style="left:161.8px;top:548.8px;width:206.6px;height:231.2px"></div>
<div style="position:absolute;left:168.9px;top:580.8px;width:26px;height:170px;background:linear-gradient(to bottom,#ece8e5 0%,#f0cdb9 14%,#f3ac87 26%,#f68b52 36%,#fd6a10 45%,#ff5f00 50%,#ff4600 62%,#ff2a00 78%,#ff0a00 94%,#ff0000 100%)"></div>
<div class="t" style="left:199px;top:565.4px;font-size:26.2px">0.2</div>
<div class="t" style="left:199px;top:648.4px;font-size:26.2px">0.1</div>
<div class="t" style="left:199px;top:737px;font-size:26.2px">0</div>
<div class="t" style="left:244.6px;top:598.85px;font-size:25.8px;line-height:31.05px">Scattering<br>Contrast<br>Score<br>(SCS)</div>
<svg width="1200" height="825" viewBox="0 0 1200 825"><rect x="749.3" y="116.1" width="414.2" height="2.2" fill="#cfcfcf"/><rect x="749.3" y="116.1" width="2.2" height="284" fill="#cfcfcf"/><rect x="804.1" y="118.3" width="357.6" height="34" fill="#e6b8b7"/><rect x="751.5" y="155.9" width="50" height="243.6" fill="#e6b8b7"/><path d="M798.1 149.9H1162.1Q1165.1 149.9 1165.1 152.9V397.1Q1165.1 400.1 1162.1 400.1H798.1Z" fill="#ff40ff"/><rect x="810" y="161.9" width="50.9" height="36.3" fill="#404040"/><rect x="860.2" y="161.9" width="54.1" height="36.3" fill="#fb4e25"/><rect x="913.6" y="161.9" width="65.1" height="36.3" fill="#f96c32"/><rect x="978" y="161.9" width="72.2" height="36.3" fill="#f89f56"/><rect x="1049.5" y="161.9" width="55.4" height="36.3" fill="#f8a560"/><rect x="1104.2" y="161.9" width="49" height="36.3" fill="#f89f57"/><rect x="810" y="197.5" width="50.9" height="42.5" fill="#fb4e25"/><rect x="860.2" y="197.5" width="54.1" height="42.5" fill="#404040"/><rect x="913.6" y="197.5" width="65.1" height="42.5" fill="#fd1e0e"/><rect x="978" y="197.5" width="72.2" height="42.5" fill="#fa5528"/><rect x="1049.5" y="197.5" width="55.4" height="42.5" fill="#fa5d2b"/><rect x="1104.2" y="197.5" width="49" height="42.5" fill="#fa5528"/><rect x="810" y="239.3" width="50.9" height="39.6" fill="#f96c32"/><rect x="860.2" y="239.3" width="54.1" height="39.6" fill="#fd1e0e"/><rect x="913.6" y="239.3" width="65.1" height="39.6" fill="#404040"/><rect x="978" y="239.3" width="72.2" height="39.6" fill="#fc371a"/><rect x="1049.5" y="239.3" width="55.4" height="39.6" fill="#fc3f1e"/><rect x="1104.2" y="239.3" width="49" height="39.6" fill="#fc371a"/><rect x="810" y="278.2" width="50.9" height="41.3" fill="#f89f56"/><rect x="860.2" y="278.2" width="54.1" height="41.3" fill="#fa5528"/><rect x="913.6" y="278.2" width="65.1" height="41.3" fill="#fc371a"/><rect x="978" y="278.2" width="72.2" height="41.3" fill="#404040"/><rect x="1049.5" y="278.2" width="55.4" height="41.3" fill="#fe1b0d"/><rect x="1104.2" y="278.2" width="49" height="41.3" fill="#fb4520"/><rect x="810" y="318.8" width="50.9" height="38.1" fill="#f8a560"/><rect x="860.2" y="318.8" width="54.1" height="38.1" fill="#fa5d2b"/><rect x="913.6" y="318.8" width="65.1" height="38.1" fill="#fc3f1e"/><rect x="978" y="318.8" width="72.2" height="38.1" fill="#fe1b0d"/><rect x="1049.5" y="318.8" width="55.4" height="38.1" fill="#404040"/><rect x="1104.2" y="318.8" width="49" height="38.1" fill="#fd2a14"/><rect x="810" y="356.2" width="50.9" height="36.6" fill="#f89f57"/><rect x="860.2" y="356.2" width="54.1" height="36.6" fill="#fa5528"/><rect x="913.6" y="356.2" width="65.1" height="36.6" fill="#fc371a"/><rect x="978" y="356.2" width="72.2" height="36.6" fill="#fb4520"/><rect x="1049.5" y="356.2" width="55.4" height="36.6" fill="#fd2a14"/><rect x="1104.2" y="356.2" width="49" height="36.6" fill="#404040"/><rect x="859" y="158.4" width="2.5" height="234.4" fill="#000"/><rect x="810" y="196.4" width="343.2" height="2.4" fill="#000"/><rect x="913.75" y="239.55" width="136.4" height="79" fill="none" stroke="#000" stroke-width="4.5"/><polygon points="686,457.4 777.6,402.4 784.2,412.7 686,472.2" fill="#ff40ff"/><polygon points="772.4,393.3 797,398.6 789.7,421.5 781,407.5" fill="#ff40ff"/><rect x="603.1" y="421.2" width="79.8" height="57.8" rx="1.5" ry="1.5" fill="none" stroke="#ff40ff" stroke-width="6"/></svg>
<div class="ih" style="left:833.4px;top:125.1px">Y</div><div class="ih" style="left:889px;top:125.1px">Zr</div><div class="ih b" style="left:947.2px;top:125.1px">Nb</div><div class="ih b" style="left:1015.2px;top:125.1px">Mo</div><div class="ih" style="left:1078.6px;top:125.1px">Tc</div><div class="ih" style="left:1131.8px;top:125.1px">Ru</div><div style="position:absolute;left:751.5px;top:150px;width:46.6px;height:250px;overflow:hidden"><div class="ih" style="left:27.9px;top:13.7px;transform:translateX(-50%) scaleX(1.07)">Y</div><div class="ih" style="left:27.9px;top:56.5px;transform:translateX(-50%) scaleX(1.07)">Zr</div><div class="ih b" style="left:27.9px;top:96.9px;transform:translateX(-50%) scaleX(1.07)">Nb</div><div class="ih b" style="left:27.9px;top:136.5px;transform:translateX(-50%) scaleX(1.07)">Mo</div><div class="ih" style="left:27.9px;top:174.9px;transform:translateX(-50%) scaleX(1.07)">Tc</div><div class="ih" style="left:27.9px;top:213.7px;transform:translateX(-50%) scaleX(1.07)">Ru</div></div>
<div class="ic" style="left:809.1px;top:159.8px;width:50.2px;height:35.6px;line-height:36.6px">0.000</div><div class="ic" style="left:862.6px;top:159.8px;width:53.4px;height:35.6px;line-height:36.6px">0.052</div><div class="ic" style="left:915.2px;top:159.8px;width:64.4px;height:35.6px;line-height:36.6px">0.072</div><div class="ic" style="left:978.8px;top:159.8px;width:71.5px;height:35.6px;line-height:36.6px">0.109</div><div class="ic" style="left:1051.3px;top:159.8px;width:54.7px;height:35.6px;line-height:36.6px">0.114</div><div class="ic" style="left:1109.2px;top:159.8px;width:49px;height:35.6px;line-height:36.6px">0.109</div><div class="ic" style="left:809.1px;top:199.7px;width:50.2px;height:41.8px;line-height:42.8px">0.052</div><div class="ic" style="left:862.6px;top:199.7px;width:53.4px;height:41.8px;line-height:42.8px">0.000</div><div class="ic" style="left:915.2px;top:199.7px;width:64.4px;height:41.8px;line-height:42.8px">0.020</div><div class="ic" style="left:978.8px;top:199.7px;width:71.5px;height:41.8px;line-height:42.8px">0.056</div><div class="ic" style="left:1051.3px;top:199.7px;width:54.7px;height:41.8px;line-height:42.8px">0.062</div><div class="ic" style="left:1109.2px;top:199.7px;width:49px;height:41.8px;line-height:42.8px">0.057</div><div class="ic" style="left:809.1px;top:241.5px;width:50.2px;height:38.9px;line-height:39.9px">0.072</div><div class="ic" style="left:862.6px;top:241.5px;width:53.4px;height:38.9px;line-height:39.9px">0.020</div><div class="ic l" style="left:915.2px;top:241.5px;width:64.4px;height:38.9px;line-height:41.9px">0.000</div><div class="ic l" style="left:978.8px;top:241.5px;width:71.5px;height:38.9px;line-height:41.9px">0.037</div><div class="ic" style="left:1051.3px;top:241.5px;width:54.7px;height:38.9px;line-height:39.9px">0.042</div><div class="ic" style="left:1109.2px;top:241.5px;width:49px;height:38.9px;line-height:39.9px">0.037</div><div class="ic" style="left:809.1px;top:279px;width:50.2px;height:40.6px;line-height:41.6px">0.109</div><div class="ic" style="left:862.6px;top:279px;width:53.4px;height:40.6px;line-height:41.6px">0.056</div><div class="ic l" style="left:915.2px;top:279px;width:64.4px;height:40.6px;line-height:43.6px">0.037</div><div class="ic l" style="left:978.8px;top:279px;width:71.5px;height:40.6px;line-height:43.6px">0.000</div><div class="ic" style="left:1051.3px;top:279px;width:54.7px;height:40.6px;line-height:41.6px">0.018</div><div class="ic" style="left:1109.2px;top:279px;width:49px;height:40.6px;line-height:41.6px">0.046</div><div class="ic" style="left:809.1px;top:320.6px;width:50.2px;height:37.4px;line-height:38.4px">0.114</div><div class="ic" style="left:862.6px;top:320.6px;width:53.4px;height:37.4px;line-height:38.4px">0.062</div><div class="ic" style="left:915.2px;top:320.6px;width:64.4px;height:37.4px;line-height:38.4px">0.042</div><div class="ic" style="left:978.8px;top:320.6px;width:71.5px;height:37.4px;line-height:38.4px">0.018</div><div class="ic" style="left:1051.3px;top:320.6px;width:54.7px;height:37.4px;line-height:38.4px">0.000</div><div class="ic" style="left:1109.2px;top:320.6px;width:49px;height:37.4px;line-height:38.4px">0.028</div><div class="ic" style="left:809.1px;top:359.8px;width:50.2px;height:36.6px;line-height:37.6px">0.109</div><div class="ic" style="left:862.6px;top:359.8px;width:53.4px;height:36.6px;line-height:37.6px">0.057</div><div class="ic" style="left:915.2px;top:359.8px;width:64.4px;height:36.6px;line-height:37.6px">0.037</div><div class="ic" style="left:978.8px;top:359.8px;width:71.5px;height:36.6px;line-height:37.6px">0.046</div><div class="ic" style="left:1051.3px;top:359.8px;width:54.7px;height:36.6px;line-height:37.6px">0.028</div><div class="ic" style="left:1109.2px;top:359.8px;width:49px;height:36.6px;line-height:37.6px">0.000</div>
<svg width="1200" height="825" viewBox="0 0 1200 825"><rect x="71.9" y="65.3" width="1112" height="2.8" fill="#000"/><rect x="71.9" y="65.3" width="2.9" height="742" fill="#000"/><polygon points="1173.3,53.3 1199.6,66.7 1173.3,80 1184.6,66.7" fill="#000"/><polygon points="59.8,797.4 73.35,825 86.9,797.4 73.35,805.4" fill="#000"/><rect x="357.35" y="51.1" width="2.7" height="15" fill="#000"/><rect x="622.75" y="51.1" width="2.7" height="15" fill="#000"/><rect x="886.85" y="51.1" width="2.7" height="15" fill="#000"/><rect x="1151.65" y="51.1" width="2.7" height="15" fill="#000"/><rect x="57.8" y="255.6" width="15" height="3.2" fill="#000"/><rect x="57.8" y="434.9" width="15" height="3.2" fill="#000"/><rect x="57.8" y="615.8" width="15" height="3.2" fill="#000"/><rect x="57.8" y="793.4" width="15" height="3.2" fill="#000"/><rect x="148" y="27.6" width="36" height="2.2" fill="#000"/><polygon points="179,20 196.2,28.7 179,37.4 183.4,28.7" fill="#000"/><rect x="33.9" y="77" width="2.3" height="36" fill="#000"/><polygon points="26,108 35,125.2 43.8,108 35,112.4" fill="#000"/></svg>
<div class="t big" style="left:4.7px;top:-1.7px">Atomic</div>
<div class="t big" style="left:4.4px;top:29.7px">number</div>
<div class="t big" style="left:679.4px;top:6px">Element <span style="font-style:italic">X</span></div>
<div class="t big" style="left:0;top:0;transform-origin:0 0;transform:translate(-2.1px,603.6px) rotate(-90deg) scaleY(0.945)">Element <span style="font-style:italic">Y</span></div>
<div class="t num" style="left:343.7px;top:10.2px">20</div><div class="t num" style="left:604.5px;top:10.2px">40</div><div class="t num" style="left:868.6px;top:10.2px">60</div><div class="t num" style="left:1130.5px;top:10.2px">80</div><div class="t num" style="left:17px;top:238.8px">20</div><div class="t num" style="left:17px;top:413.9px">40</div><div class="t num" style="left:17px;top:600.6px">60</div><div class="t num" style="left:17px;top:776.35px">80</div>
</div></body></html>
